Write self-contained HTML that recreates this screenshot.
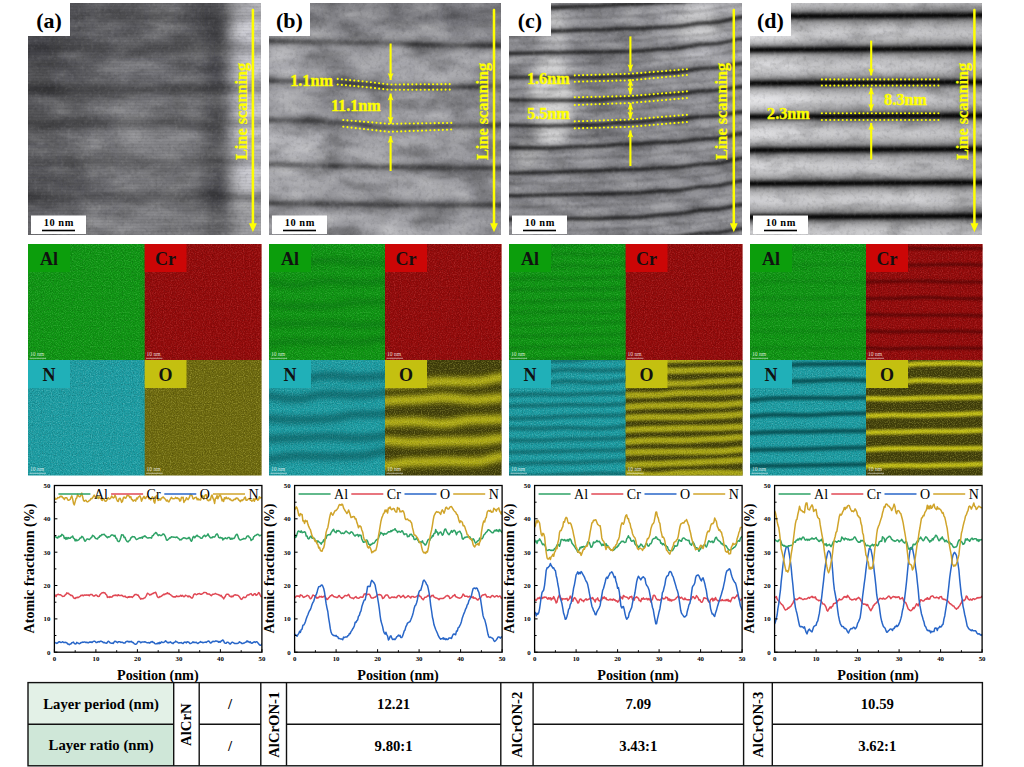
<!DOCTYPE html><html><head><meta charset="utf-8"><style>html,body{margin:0;padding:0;background:#fff;}body{width:1024px;height:767px;overflow:hidden;}svg{display:block}</style></head><body>
<svg width="1024" height="767" viewBox="0 0 1024 767">
<defs>
<filter id="blur1" filterUnits="userSpaceOnUse" x="-50" y="-50" width="400" height="400"><feGaussianBlur stdDeviation="1.2"/></filter>
<filter id="blur15" filterUnits="userSpaceOnUse" x="-50" y="-50" width="400" height="400"><feGaussianBlur stdDeviation="1.7"/></filter>
<filter id="blur2" filterUnits="userSpaceOnUse" x="-50" y="-50" width="400" height="400"><feGaussianBlur stdDeviation="2.5"/></filter>
<filter id="blur6" filterUnits="userSpaceOnUse" x="-50" y="-50" width="400" height="400"><feGaussianBlur stdDeviation="7"/></filter>
<filter id="blur12" filterUnits="userSpaceOnUse" x="-50" y="-50" width="400" height="400"><feGaussianBlur stdDeviation="12"/></filter>
<filter id="gnoise" x="0" y="0" width="100%" height="100%">
  <feTurbulence type="fractalNoise" baseFrequency="0.3" numOctaves="2" seed="3"/>
  <feColorMatrix type="matrix" values="0 0 0 0 0  0 0 0 0 0  0 0 0 0 0  -1.6 0 0 0 0.8"/>
</filter>
<filter id="gnoise2" x="0" y="0" width="100%" height="100%">
  <feTurbulence type="fractalNoise" baseFrequency="0.3" numOctaves="2" seed="9"/>
  <feColorMatrix type="matrix" values="0 0 0 0 1  0 0 0 0 1  0 0 0 0 1  1.6 0 0 0 -0.8"/>
</filter>
<filter id="speck" x="0" y="0" width="100%" height="100%">
  <feTurbulence type="fractalNoise" baseFrequency="0.9" numOctaves="1" seed="5"/>
  <feColorMatrix type="matrix" values="0 0 0 0 0  0 0 0 0 0  0 0 0 0 0  -3 0 0 0 1.5"/>
</filter>
<filter id="speckw" x="0" y="0" width="100%" height="100%">
  <feTurbulence type="fractalNoise" baseFrequency="0.9" numOctaves="1" seed="11"/>
  <feColorMatrix type="matrix" values="0 0 0 0 1  0 0 0 0 1  0 0 0 0 1  3 0 0 0 -1.6"/>
</filter>
</defs>
<rect width="1024" height="767" fill="#fff"/>
<defs>
<filter id="gb0" filterUnits="userSpaceOnUse" x="-40" y="-40" width="320" height="320"><feGaussianBlur stdDeviation="7"/></filter>
<filter id="gb1" filterUnits="userSpaceOnUse" x="-40" y="-40" width="320" height="320"><feGaussianBlur stdDeviation="6"/></filter>
<filter id="gb2" filterUnits="userSpaceOnUse" x="-40" y="-40" width="320" height="320"><feGaussianBlur stdDeviation="5"/></filter>
<filter id="gb3" filterUnits="userSpaceOnUse" x="-40" y="-40" width="320" height="320"><feGaussianBlur stdDeviation="5"/></filter>
<linearGradient id="sa" gradientUnits="userSpaceOnUse" x1="0" y1="-30" x2="0" y2="262" gradientTransform="rotate(0 116 116.0)">
<stop offset="0.0000" stop-color="#000" stop-opacity="0.000"/>
<stop offset="0.0034" stop-color="#000" stop-opacity="0.000"/>
<stop offset="0.0068" stop-color="#000" stop-opacity="0.000"/>
<stop offset="0.0103" stop-color="#000" stop-opacity="0.000"/>
<stop offset="0.0137" stop-color="#000" stop-opacity="0.000"/>
<stop offset="0.0171" stop-color="#000" stop-opacity="0.000"/>
<stop offset="0.0205" stop-color="#000" stop-opacity="0.000"/>
<stop offset="0.0240" stop-color="#000" stop-opacity="0.000"/>
<stop offset="0.0274" stop-color="#000" stop-opacity="0.000"/>
<stop offset="0.0308" stop-color="#000" stop-opacity="0.000"/>
<stop offset="0.0342" stop-color="#000" stop-opacity="0.000"/>
<stop offset="0.0377" stop-color="#000" stop-opacity="0.000"/>
<stop offset="0.0411" stop-color="#000" stop-opacity="0.000"/>
<stop offset="0.0445" stop-color="#000" stop-opacity="0.000"/>
<stop offset="0.0479" stop-color="#000" stop-opacity="0.000"/>
<stop offset="0.0514" stop-color="#000" stop-opacity="0.000"/>
<stop offset="0.0548" stop-color="#000" stop-opacity="0.000"/>
<stop offset="0.0582" stop-color="#000" stop-opacity="0.000"/>
<stop offset="0.0616" stop-color="#000" stop-opacity="0.000"/>
<stop offset="0.0651" stop-color="#000" stop-opacity="0.000"/>
<stop offset="0.0685" stop-color="#000" stop-opacity="0.000"/>
<stop offset="0.0719" stop-color="#000" stop-opacity="0.000"/>
<stop offset="0.0753" stop-color="#000" stop-opacity="0.000"/>
<stop offset="0.0788" stop-color="#000" stop-opacity="0.000"/>
<stop offset="0.0822" stop-color="#000" stop-opacity="0.000"/>
<stop offset="0.0856" stop-color="#000" stop-opacity="0.000"/>
<stop offset="0.0890" stop-color="#000" stop-opacity="0.000"/>
<stop offset="0.0925" stop-color="#000" stop-opacity="0.000"/>
<stop offset="0.0959" stop-color="#000" stop-opacity="0.000"/>
<stop offset="0.0993" stop-color="#000" stop-opacity="0.000"/>
<stop offset="0.1027" stop-color="#000" stop-opacity="0.001"/>
<stop offset="0.1062" stop-color="#000" stop-opacity="0.002"/>
<stop offset="0.1096" stop-color="#000" stop-opacity="0.003"/>
<stop offset="0.1130" stop-color="#000" stop-opacity="0.007"/>
<stop offset="0.1164" stop-color="#000" stop-opacity="0.012"/>
<stop offset="0.1199" stop-color="#000" stop-opacity="0.020"/>
<stop offset="0.1233" stop-color="#000" stop-opacity="0.032"/>
<stop offset="0.1267" stop-color="#000" stop-opacity="0.049"/>
<stop offset="0.1301" stop-color="#000" stop-opacity="0.069"/>
<stop offset="0.1336" stop-color="#000" stop-opacity="0.091"/>
<stop offset="0.1370" stop-color="#000" stop-opacity="0.113"/>
<stop offset="0.1404" stop-color="#000" stop-opacity="0.132"/>
<stop offset="0.1438" stop-color="#000" stop-opacity="0.145"/>
<stop offset="0.1473" stop-color="#000" stop-opacity="0.150"/>
<stop offset="0.1507" stop-color="#000" stop-opacity="0.145"/>
<stop offset="0.1541" stop-color="#000" stop-opacity="0.132"/>
<stop offset="0.1575" stop-color="#000" stop-opacity="0.113"/>
<stop offset="0.1610" stop-color="#000" stop-opacity="0.091"/>
<stop offset="0.1644" stop-color="#000" stop-opacity="0.069"/>
<stop offset="0.1678" stop-color="#000" stop-opacity="0.049"/>
<stop offset="0.1712" stop-color="#000" stop-opacity="0.032"/>
<stop offset="0.1747" stop-color="#000" stop-opacity="0.020"/>
<stop offset="0.1781" stop-color="#000" stop-opacity="0.012"/>
<stop offset="0.1815" stop-color="#000" stop-opacity="0.007"/>
<stop offset="0.1849" stop-color="#000" stop-opacity="0.003"/>
<stop offset="0.1884" stop-color="#000" stop-opacity="0.002"/>
<stop offset="0.1918" stop-color="#000" stop-opacity="0.001"/>
<stop offset="0.1952" stop-color="#000" stop-opacity="0.000"/>
<stop offset="0.1986" stop-color="#000" stop-opacity="0.000"/>
<stop offset="0.2021" stop-color="#000" stop-opacity="0.000"/>
<stop offset="0.2055" stop-color="#000" stop-opacity="0.001"/>
<stop offset="0.2089" stop-color="#000" stop-opacity="0.002"/>
<stop offset="0.2123" stop-color="#000" stop-opacity="0.003"/>
<stop offset="0.2158" stop-color="#000" stop-opacity="0.006"/>
<stop offset="0.2192" stop-color="#000" stop-opacity="0.010"/>
<stop offset="0.2226" stop-color="#000" stop-opacity="0.017"/>
<stop offset="0.2260" stop-color="#000" stop-opacity="0.027"/>
<stop offset="0.2295" stop-color="#000" stop-opacity="0.041"/>
<stop offset="0.2329" stop-color="#000" stop-opacity="0.060"/>
<stop offset="0.2363" stop-color="#000" stop-opacity="0.082"/>
<stop offset="0.2397" stop-color="#000" stop-opacity="0.108"/>
<stop offset="0.2432" stop-color="#000" stop-opacity="0.135"/>
<stop offset="0.2466" stop-color="#000" stop-opacity="0.160"/>
<stop offset="0.2500" stop-color="#000" stop-opacity="0.181"/>
<stop offset="0.2534" stop-color="#000" stop-opacity="0.195"/>
<stop offset="0.2568" stop-color="#000" stop-opacity="0.200"/>
<stop offset="0.2603" stop-color="#000" stop-opacity="0.195"/>
<stop offset="0.2637" stop-color="#000" stop-opacity="0.181"/>
<stop offset="0.2671" stop-color="#000" stop-opacity="0.160"/>
<stop offset="0.2705" stop-color="#000" stop-opacity="0.135"/>
<stop offset="0.2740" stop-color="#000" stop-opacity="0.108"/>
<stop offset="0.2774" stop-color="#000" stop-opacity="0.082"/>
<stop offset="0.2808" stop-color="#000" stop-opacity="0.060"/>
<stop offset="0.2842" stop-color="#000" stop-opacity="0.041"/>
<stop offset="0.2877" stop-color="#000" stop-opacity="0.027"/>
<stop offset="0.2911" stop-color="#000" stop-opacity="0.017"/>
<stop offset="0.2945" stop-color="#000" stop-opacity="0.010"/>
<stop offset="0.2979" stop-color="#000" stop-opacity="0.006"/>
<stop offset="0.3014" stop-color="#000" stop-opacity="0.003"/>
<stop offset="0.3048" stop-color="#000" stop-opacity="0.002"/>
<stop offset="0.3082" stop-color="#000" stop-opacity="0.001"/>
<stop offset="0.3116" stop-color="#000" stop-opacity="0.000"/>
<stop offset="0.3151" stop-color="#000" stop-opacity="0.000"/>
<stop offset="0.3185" stop-color="#000" stop-opacity="0.000"/>
<stop offset="0.3219" stop-color="#000" stop-opacity="0.000"/>
<stop offset="0.3253" stop-color="#000" stop-opacity="0.000"/>
<stop offset="0.3288" stop-color="#000" stop-opacity="0.000"/>
<stop offset="0.3322" stop-color="#000" stop-opacity="0.000"/>
<stop offset="0.3356" stop-color="#000" stop-opacity="0.000"/>
<stop offset="0.3390" stop-color="#000" stop-opacity="0.001"/>
<stop offset="0.3425" stop-color="#000" stop-opacity="0.002"/>
<stop offset="0.3459" stop-color="#000" stop-opacity="0.003"/>
<stop offset="0.3493" stop-color="#000" stop-opacity="0.006"/>
<stop offset="0.3527" stop-color="#000" stop-opacity="0.010"/>
<stop offset="0.3562" stop-color="#000" stop-opacity="0.017"/>
<stop offset="0.3596" stop-color="#000" stop-opacity="0.027"/>
<stop offset="0.3630" stop-color="#000" stop-opacity="0.041"/>
<stop offset="0.3664" stop-color="#000" stop-opacity="0.059"/>
<stop offset="0.3699" stop-color="#000" stop-opacity="0.083"/>
<stop offset="0.3733" stop-color="#000" stop-opacity="0.113"/>
<stop offset="0.3767" stop-color="#000" stop-opacity="0.146"/>
<stop offset="0.3801" stop-color="#000" stop-opacity="0.182"/>
<stop offset="0.3836" stop-color="#000" stop-opacity="0.218"/>
<stop offset="0.3870" stop-color="#000" stop-opacity="0.251"/>
<stop offset="0.3904" stop-color="#000" stop-opacity="0.277"/>
<stop offset="0.3938" stop-color="#000" stop-opacity="0.294"/>
<stop offset="0.3973" stop-color="#000" stop-opacity="0.300"/>
<stop offset="0.4007" stop-color="#000" stop-opacity="0.294"/>
<stop offset="0.4041" stop-color="#000" stop-opacity="0.277"/>
<stop offset="0.4075" stop-color="#000" stop-opacity="0.251"/>
<stop offset="0.4110" stop-color="#000" stop-opacity="0.218"/>
<stop offset="0.4144" stop-color="#000" stop-opacity="0.182"/>
<stop offset="0.4178" stop-color="#000" stop-opacity="0.146"/>
<stop offset="0.4212" stop-color="#000" stop-opacity="0.113"/>
<stop offset="0.4247" stop-color="#000" stop-opacity="0.083"/>
<stop offset="0.4281" stop-color="#000" stop-opacity="0.059"/>
<stop offset="0.4315" stop-color="#000" stop-opacity="0.041"/>
<stop offset="0.4349" stop-color="#000" stop-opacity="0.027"/>
<stop offset="0.4384" stop-color="#000" stop-opacity="0.017"/>
<stop offset="0.4418" stop-color="#000" stop-opacity="0.010"/>
<stop offset="0.4452" stop-color="#000" stop-opacity="0.006"/>
<stop offset="0.4486" stop-color="#000" stop-opacity="0.003"/>
<stop offset="0.4521" stop-color="#000" stop-opacity="0.002"/>
<stop offset="0.4555" stop-color="#000" stop-opacity="0.001"/>
<stop offset="0.4589" stop-color="#000" stop-opacity="0.001"/>
<stop offset="0.4623" stop-color="#000" stop-opacity="0.001"/>
<stop offset="0.4658" stop-color="#000" stop-opacity="0.002"/>
<stop offset="0.4692" stop-color="#000" stop-opacity="0.004"/>
<stop offset="0.4726" stop-color="#000" stop-opacity="0.007"/>
<stop offset="0.4760" stop-color="#000" stop-opacity="0.013"/>
<stop offset="0.4795" stop-color="#000" stop-opacity="0.021"/>
<stop offset="0.4829" stop-color="#000" stop-opacity="0.034"/>
<stop offset="0.4863" stop-color="#000" stop-opacity="0.051"/>
<stop offset="0.4897" stop-color="#000" stop-opacity="0.075"/>
<stop offset="0.4932" stop-color="#000" stop-opacity="0.103"/>
<stop offset="0.4966" stop-color="#000" stop-opacity="0.135"/>
<stop offset="0.5000" stop-color="#000" stop-opacity="0.168"/>
<stop offset="0.5034" stop-color="#000" stop-opacity="0.200"/>
<stop offset="0.5068" stop-color="#000" stop-opacity="0.226"/>
<stop offset="0.5103" stop-color="#000" stop-opacity="0.244"/>
<stop offset="0.5137" stop-color="#000" stop-opacity="0.250"/>
<stop offset="0.5171" stop-color="#000" stop-opacity="0.244"/>
<stop offset="0.5205" stop-color="#000" stop-opacity="0.226"/>
<stop offset="0.5240" stop-color="#000" stop-opacity="0.200"/>
<stop offset="0.5274" stop-color="#000" stop-opacity="0.168"/>
<stop offset="0.5308" stop-color="#000" stop-opacity="0.135"/>
<stop offset="0.5342" stop-color="#000" stop-opacity="0.103"/>
<stop offset="0.5377" stop-color="#000" stop-opacity="0.075"/>
<stop offset="0.5411" stop-color="#000" stop-opacity="0.051"/>
<stop offset="0.5445" stop-color="#000" stop-opacity="0.034"/>
<stop offset="0.5479" stop-color="#000" stop-opacity="0.021"/>
<stop offset="0.5514" stop-color="#000" stop-opacity="0.013"/>
<stop offset="0.5548" stop-color="#000" stop-opacity="0.007"/>
<stop offset="0.5582" stop-color="#000" stop-opacity="0.004"/>
<stop offset="0.5616" stop-color="#000" stop-opacity="0.002"/>
<stop offset="0.5651" stop-color="#000" stop-opacity="0.001"/>
<stop offset="0.5685" stop-color="#000" stop-opacity="0.000"/>
<stop offset="0.5719" stop-color="#000" stop-opacity="0.000"/>
<stop offset="0.5753" stop-color="#000" stop-opacity="0.000"/>
<stop offset="0.5788" stop-color="#000" stop-opacity="0.000"/>
<stop offset="0.5822" stop-color="#000" stop-opacity="0.000"/>
<stop offset="0.5856" stop-color="#000" stop-opacity="0.000"/>
<stop offset="0.5890" stop-color="#000" stop-opacity="0.000"/>
<stop offset="0.5925" stop-color="#000" stop-opacity="0.000"/>
<stop offset="0.5959" stop-color="#000" stop-opacity="0.001"/>
<stop offset="0.5993" stop-color="#000" stop-opacity="0.001"/>
<stop offset="0.6027" stop-color="#000" stop-opacity="0.003"/>
<stop offset="0.6062" stop-color="#000" stop-opacity="0.005"/>
<stop offset="0.6096" stop-color="#000" stop-opacity="0.009"/>
<stop offset="0.6130" stop-color="#000" stop-opacity="0.015"/>
<stop offset="0.6164" stop-color="#000" stop-opacity="0.024"/>
<stop offset="0.6199" stop-color="#000" stop-opacity="0.037"/>
<stop offset="0.6233" stop-color="#000" stop-opacity="0.054"/>
<stop offset="0.6267" stop-color="#000" stop-opacity="0.074"/>
<stop offset="0.6301" stop-color="#000" stop-opacity="0.097"/>
<stop offset="0.6336" stop-color="#000" stop-opacity="0.121"/>
<stop offset="0.6370" stop-color="#000" stop-opacity="0.144"/>
<stop offset="0.6404" stop-color="#000" stop-opacity="0.163"/>
<stop offset="0.6438" stop-color="#000" stop-opacity="0.176"/>
<stop offset="0.6473" stop-color="#000" stop-opacity="0.180"/>
<stop offset="0.6507" stop-color="#000" stop-opacity="0.176"/>
<stop offset="0.6541" stop-color="#000" stop-opacity="0.163"/>
<stop offset="0.6575" stop-color="#000" stop-opacity="0.144"/>
<stop offset="0.6610" stop-color="#000" stop-opacity="0.121"/>
<stop offset="0.6644" stop-color="#000" stop-opacity="0.097"/>
<stop offset="0.6678" stop-color="#000" stop-opacity="0.074"/>
<stop offset="0.6712" stop-color="#000" stop-opacity="0.054"/>
<stop offset="0.6747" stop-color="#000" stop-opacity="0.037"/>
<stop offset="0.6781" stop-color="#000" stop-opacity="0.024"/>
<stop offset="0.6815" stop-color="#000" stop-opacity="0.015"/>
<stop offset="0.6849" stop-color="#000" stop-opacity="0.009"/>
<stop offset="0.6884" stop-color="#000" stop-opacity="0.005"/>
<stop offset="0.6918" stop-color="#000" stop-opacity="0.003"/>
<stop offset="0.6952" stop-color="#000" stop-opacity="0.001"/>
<stop offset="0.6986" stop-color="#000" stop-opacity="0.001"/>
<stop offset="0.7021" stop-color="#000" stop-opacity="0.000"/>
<stop offset="0.7055" stop-color="#000" stop-opacity="0.000"/>
<stop offset="0.7089" stop-color="#000" stop-opacity="0.000"/>
<stop offset="0.7123" stop-color="#000" stop-opacity="0.000"/>
<stop offset="0.7158" stop-color="#000" stop-opacity="0.001"/>
<stop offset="0.7192" stop-color="#000" stop-opacity="0.002"/>
<stop offset="0.7226" stop-color="#000" stop-opacity="0.003"/>
<stop offset="0.7260" stop-color="#000" stop-opacity="0.006"/>
<stop offset="0.7295" stop-color="#000" stop-opacity="0.011"/>
<stop offset="0.7329" stop-color="#000" stop-opacity="0.019"/>
<stop offset="0.7363" stop-color="#000" stop-opacity="0.030"/>
<stop offset="0.7397" stop-color="#000" stop-opacity="0.045"/>
<stop offset="0.7432" stop-color="#000" stop-opacity="0.066"/>
<stop offset="0.7466" stop-color="#000" stop-opacity="0.090"/>
<stop offset="0.7500" stop-color="#000" stop-opacity="0.119"/>
<stop offset="0.7534" stop-color="#000" stop-opacity="0.148"/>
<stop offset="0.7568" stop-color="#000" stop-opacity="0.176"/>
<stop offset="0.7603" stop-color="#000" stop-opacity="0.199"/>
<stop offset="0.7637" stop-color="#000" stop-opacity="0.215"/>
<stop offset="0.7671" stop-color="#000" stop-opacity="0.220"/>
<stop offset="0.7705" stop-color="#000" stop-opacity="0.215"/>
<stop offset="0.7740" stop-color="#000" stop-opacity="0.199"/>
<stop offset="0.7774" stop-color="#000" stop-opacity="0.176"/>
<stop offset="0.7808" stop-color="#000" stop-opacity="0.148"/>
<stop offset="0.7842" stop-color="#000" stop-opacity="0.119"/>
<stop offset="0.7877" stop-color="#000" stop-opacity="0.090"/>
<stop offset="0.7911" stop-color="#000" stop-opacity="0.066"/>
<stop offset="0.7945" stop-color="#000" stop-opacity="0.045"/>
<stop offset="0.7979" stop-color="#000" stop-opacity="0.030"/>
<stop offset="0.8014" stop-color="#000" stop-opacity="0.019"/>
<stop offset="0.8048" stop-color="#000" stop-opacity="0.011"/>
<stop offset="0.8082" stop-color="#000" stop-opacity="0.006"/>
<stop offset="0.8116" stop-color="#000" stop-opacity="0.003"/>
<stop offset="0.8151" stop-color="#000" stop-opacity="0.002"/>
<stop offset="0.8185" stop-color="#000" stop-opacity="0.001"/>
<stop offset="0.8219" stop-color="#000" stop-opacity="0.000"/>
<stop offset="0.8253" stop-color="#000" stop-opacity="0.000"/>
<stop offset="0.8288" stop-color="#000" stop-opacity="0.000"/>
<stop offset="0.8322" stop-color="#000" stop-opacity="0.000"/>
<stop offset="0.8356" stop-color="#000" stop-opacity="0.000"/>
<stop offset="0.8390" stop-color="#000" stop-opacity="0.000"/>
<stop offset="0.8425" stop-color="#000" stop-opacity="0.000"/>
<stop offset="0.8459" stop-color="#000" stop-opacity="0.000"/>
<stop offset="0.8493" stop-color="#000" stop-opacity="0.000"/>
<stop offset="0.8527" stop-color="#000" stop-opacity="0.000"/>
<stop offset="0.8562" stop-color="#000" stop-opacity="0.000"/>
<stop offset="0.8596" stop-color="#000" stop-opacity="0.000"/>
<stop offset="0.8630" stop-color="#000" stop-opacity="0.000"/>
<stop offset="0.8664" stop-color="#000" stop-opacity="0.000"/>
<stop offset="0.8699" stop-color="#000" stop-opacity="0.000"/>
<stop offset="0.8733" stop-color="#000" stop-opacity="0.000"/>
<stop offset="0.8767" stop-color="#000" stop-opacity="0.000"/>
<stop offset="0.8801" stop-color="#000" stop-opacity="0.000"/>
<stop offset="0.8836" stop-color="#000" stop-opacity="0.000"/>
<stop offset="0.8870" stop-color="#000" stop-opacity="0.000"/>
<stop offset="0.8904" stop-color="#000" stop-opacity="0.000"/>
<stop offset="0.8938" stop-color="#000" stop-opacity="0.000"/>
<stop offset="0.8973" stop-color="#000" stop-opacity="0.000"/>
<stop offset="0.9007" stop-color="#000" stop-opacity="0.000"/>
<stop offset="0.9041" stop-color="#000" stop-opacity="0.000"/>
<stop offset="0.9075" stop-color="#000" stop-opacity="0.000"/>
<stop offset="0.9110" stop-color="#000" stop-opacity="0.000"/>
<stop offset="0.9144" stop-color="#000" stop-opacity="0.000"/>
<stop offset="0.9178" stop-color="#000" stop-opacity="0.000"/>
<stop offset="0.9212" stop-color="#000" stop-opacity="0.000"/>
<stop offset="0.9247" stop-color="#000" stop-opacity="0.000"/>
<stop offset="0.9281" stop-color="#000" stop-opacity="0.000"/>
<stop offset="0.9315" stop-color="#000" stop-opacity="0.000"/>
<stop offset="0.9349" stop-color="#000" stop-opacity="0.000"/>
<stop offset="0.9384" stop-color="#000" stop-opacity="0.000"/>
<stop offset="0.9418" stop-color="#000" stop-opacity="0.000"/>
<stop offset="0.9452" stop-color="#000" stop-opacity="0.000"/>
<stop offset="0.9486" stop-color="#000" stop-opacity="0.000"/>
<stop offset="0.9521" stop-color="#000" stop-opacity="0.000"/>
<stop offset="0.9555" stop-color="#000" stop-opacity="0.000"/>
<stop offset="0.9589" stop-color="#000" stop-opacity="0.000"/>
<stop offset="0.9623" stop-color="#000" stop-opacity="0.000"/>
<stop offset="0.9658" stop-color="#000" stop-opacity="0.000"/>
<stop offset="0.9692" stop-color="#000" stop-opacity="0.000"/>
<stop offset="0.9726" stop-color="#000" stop-opacity="0.000"/>
<stop offset="0.9760" stop-color="#000" stop-opacity="0.000"/>
<stop offset="0.9795" stop-color="#000" stop-opacity="0.000"/>
<stop offset="0.9829" stop-color="#000" stop-opacity="0.000"/>
<stop offset="0.9863" stop-color="#000" stop-opacity="0.000"/>
<stop offset="0.9897" stop-color="#000" stop-opacity="0.000"/>
<stop offset="0.9932" stop-color="#000" stop-opacity="0.000"/>
<stop offset="0.9966" stop-color="#000" stop-opacity="0.000"/>
<stop offset="1.0000" stop-color="#000" stop-opacity="0.000"/>
</linearGradient>
<linearGradient id="sc" gradientUnits="userSpaceOnUse" x1="0" y1="-30" x2="0" y2="262" gradientTransform="rotate(-2.4 116 116.0)">
<stop offset="0.0000" stop-color="#000" stop-opacity="0.021"/>
<stop offset="0.0034" stop-color="#000" stop-opacity="0.032"/>
<stop offset="0.0068" stop-color="#000" stop-opacity="0.048"/>
<stop offset="0.0103" stop-color="#000" stop-opacity="0.073"/>
<stop offset="0.0137" stop-color="#000" stop-opacity="0.128"/>
<stop offset="0.0171" stop-color="#000" stop-opacity="0.246"/>
<stop offset="0.0205" stop-color="#000" stop-opacity="0.434"/>
<stop offset="0.0240" stop-color="#000" stop-opacity="0.595"/>
<stop offset="0.0274" stop-color="#000" stop-opacity="0.595"/>
<stop offset="0.0308" stop-color="#000" stop-opacity="0.434"/>
<stop offset="0.0342" stop-color="#000" stop-opacity="0.246"/>
<stop offset="0.0377" stop-color="#000" stop-opacity="0.128"/>
<stop offset="0.0411" stop-color="#000" stop-opacity="0.074"/>
<stop offset="0.0445" stop-color="#000" stop-opacity="0.049"/>
<stop offset="0.0479" stop-color="#000" stop-opacity="0.037"/>
<stop offset="0.0514" stop-color="#000" stop-opacity="0.034"/>
<stop offset="0.0548" stop-color="#000" stop-opacity="0.045"/>
<stop offset="0.0582" stop-color="#000" stop-opacity="0.068"/>
<stop offset="0.0616" stop-color="#000" stop-opacity="0.093"/>
<stop offset="0.0651" stop-color="#000" stop-opacity="0.103"/>
<stop offset="0.0685" stop-color="#000" stop-opacity="0.092"/>
<stop offset="0.0719" stop-color="#000" stop-opacity="0.066"/>
<stop offset="0.0753" stop-color="#000" stop-opacity="0.042"/>
<stop offset="0.0788" stop-color="#000" stop-opacity="0.030"/>
<stop offset="0.0822" stop-color="#000" stop-opacity="0.030"/>
<stop offset="0.0856" stop-color="#000" stop-opacity="0.041"/>
<stop offset="0.0890" stop-color="#000" stop-opacity="0.059"/>
<stop offset="0.0925" stop-color="#000" stop-opacity="0.095"/>
<stop offset="0.0959" stop-color="#000" stop-opacity="0.177"/>
<stop offset="0.0993" stop-color="#000" stop-opacity="0.335"/>
<stop offset="0.1027" stop-color="#000" stop-opacity="0.528"/>
<stop offset="0.1062" stop-color="#000" stop-opacity="0.620"/>
<stop offset="0.1096" stop-color="#000" stop-opacity="0.528"/>
<stop offset="0.1130" stop-color="#000" stop-opacity="0.335"/>
<stop offset="0.1164" stop-color="#000" stop-opacity="0.177"/>
<stop offset="0.1199" stop-color="#000" stop-opacity="0.095"/>
<stop offset="0.1233" stop-color="#000" stop-opacity="0.059"/>
<stop offset="0.1267" stop-color="#000" stop-opacity="0.042"/>
<stop offset="0.1301" stop-color="#000" stop-opacity="0.034"/>
<stop offset="0.1336" stop-color="#000" stop-opacity="0.038"/>
<stop offset="0.1370" stop-color="#000" stop-opacity="0.055"/>
<stop offset="0.1404" stop-color="#000" stop-opacity="0.081"/>
<stop offset="0.1438" stop-color="#000" stop-opacity="0.101"/>
<stop offset="0.1473" stop-color="#000" stop-opacity="0.100"/>
<stop offset="0.1507" stop-color="#000" stop-opacity="0.080"/>
<stop offset="0.1541" stop-color="#000" stop-opacity="0.053"/>
<stop offset="0.1575" stop-color="#000" stop-opacity="0.034"/>
<stop offset="0.1610" stop-color="#000" stop-opacity="0.029"/>
<stop offset="0.1644" stop-color="#000" stop-opacity="0.034"/>
<stop offset="0.1678" stop-color="#000" stop-opacity="0.048"/>
<stop offset="0.1712" stop-color="#000" stop-opacity="0.073"/>
<stop offset="0.1747" stop-color="#000" stop-opacity="0.128"/>
<stop offset="0.1781" stop-color="#000" stop-opacity="0.246"/>
<stop offset="0.1815" stop-color="#000" stop-opacity="0.434"/>
<stop offset="0.1849" stop-color="#000" stop-opacity="0.595"/>
<stop offset="0.1884" stop-color="#000" stop-opacity="0.595"/>
<stop offset="0.1918" stop-color="#000" stop-opacity="0.434"/>
<stop offset="0.1952" stop-color="#000" stop-opacity="0.246"/>
<stop offset="0.1986" stop-color="#000" stop-opacity="0.128"/>
<stop offset="0.2021" stop-color="#000" stop-opacity="0.074"/>
<stop offset="0.2055" stop-color="#000" stop-opacity="0.049"/>
<stop offset="0.2089" stop-color="#000" stop-opacity="0.037"/>
<stop offset="0.2123" stop-color="#000" stop-opacity="0.034"/>
<stop offset="0.2158" stop-color="#000" stop-opacity="0.045"/>
<stop offset="0.2192" stop-color="#000" stop-opacity="0.068"/>
<stop offset="0.2226" stop-color="#000" stop-opacity="0.093"/>
<stop offset="0.2260" stop-color="#000" stop-opacity="0.103"/>
<stop offset="0.2295" stop-color="#000" stop-opacity="0.092"/>
<stop offset="0.2329" stop-color="#000" stop-opacity="0.066"/>
<stop offset="0.2363" stop-color="#000" stop-opacity="0.042"/>
<stop offset="0.2397" stop-color="#000" stop-opacity="0.030"/>
<stop offset="0.2432" stop-color="#000" stop-opacity="0.030"/>
<stop offset="0.2466" stop-color="#000" stop-opacity="0.041"/>
<stop offset="0.2500" stop-color="#000" stop-opacity="0.059"/>
<stop offset="0.2534" stop-color="#000" stop-opacity="0.095"/>
<stop offset="0.2568" stop-color="#000" stop-opacity="0.177"/>
<stop offset="0.2603" stop-color="#000" stop-opacity="0.335"/>
<stop offset="0.2637" stop-color="#000" stop-opacity="0.528"/>
<stop offset="0.2671" stop-color="#000" stop-opacity="0.620"/>
<stop offset="0.2705" stop-color="#000" stop-opacity="0.528"/>
<stop offset="0.2740" stop-color="#000" stop-opacity="0.335"/>
<stop offset="0.2774" stop-color="#000" stop-opacity="0.177"/>
<stop offset="0.2808" stop-color="#000" stop-opacity="0.095"/>
<stop offset="0.2842" stop-color="#000" stop-opacity="0.059"/>
<stop offset="0.2877" stop-color="#000" stop-opacity="0.042"/>
<stop offset="0.2911" stop-color="#000" stop-opacity="0.034"/>
<stop offset="0.2945" stop-color="#000" stop-opacity="0.038"/>
<stop offset="0.2979" stop-color="#000" stop-opacity="0.055"/>
<stop offset="0.3014" stop-color="#000" stop-opacity="0.081"/>
<stop offset="0.3048" stop-color="#000" stop-opacity="0.101"/>
<stop offset="0.3082" stop-color="#000" stop-opacity="0.100"/>
<stop offset="0.3116" stop-color="#000" stop-opacity="0.080"/>
<stop offset="0.3151" stop-color="#000" stop-opacity="0.053"/>
<stop offset="0.3185" stop-color="#000" stop-opacity="0.034"/>
<stop offset="0.3219" stop-color="#000" stop-opacity="0.029"/>
<stop offset="0.3253" stop-color="#000" stop-opacity="0.034"/>
<stop offset="0.3288" stop-color="#000" stop-opacity="0.048"/>
<stop offset="0.3322" stop-color="#000" stop-opacity="0.073"/>
<stop offset="0.3356" stop-color="#000" stop-opacity="0.128"/>
<stop offset="0.3390" stop-color="#000" stop-opacity="0.246"/>
<stop offset="0.3425" stop-color="#000" stop-opacity="0.434"/>
<stop offset="0.3459" stop-color="#000" stop-opacity="0.595"/>
<stop offset="0.3493" stop-color="#000" stop-opacity="0.595"/>
<stop offset="0.3527" stop-color="#000" stop-opacity="0.434"/>
<stop offset="0.3562" stop-color="#000" stop-opacity="0.246"/>
<stop offset="0.3596" stop-color="#000" stop-opacity="0.128"/>
<stop offset="0.3630" stop-color="#000" stop-opacity="0.074"/>
<stop offset="0.3664" stop-color="#000" stop-opacity="0.049"/>
<stop offset="0.3699" stop-color="#000" stop-opacity="0.037"/>
<stop offset="0.3733" stop-color="#000" stop-opacity="0.034"/>
<stop offset="0.3767" stop-color="#000" stop-opacity="0.045"/>
<stop offset="0.3801" stop-color="#000" stop-opacity="0.068"/>
<stop offset="0.3836" stop-color="#000" stop-opacity="0.093"/>
<stop offset="0.3870" stop-color="#000" stop-opacity="0.103"/>
<stop offset="0.3904" stop-color="#000" stop-opacity="0.092"/>
<stop offset="0.3938" stop-color="#000" stop-opacity="0.066"/>
<stop offset="0.3973" stop-color="#000" stop-opacity="0.042"/>
<stop offset="0.4007" stop-color="#000" stop-opacity="0.030"/>
<stop offset="0.4041" stop-color="#000" stop-opacity="0.030"/>
<stop offset="0.4075" stop-color="#000" stop-opacity="0.041"/>
<stop offset="0.4110" stop-color="#000" stop-opacity="0.059"/>
<stop offset="0.4144" stop-color="#000" stop-opacity="0.095"/>
<stop offset="0.4178" stop-color="#000" stop-opacity="0.177"/>
<stop offset="0.4212" stop-color="#000" stop-opacity="0.335"/>
<stop offset="0.4247" stop-color="#000" stop-opacity="0.528"/>
<stop offset="0.4281" stop-color="#000" stop-opacity="0.620"/>
<stop offset="0.4315" stop-color="#000" stop-opacity="0.528"/>
<stop offset="0.4349" stop-color="#000" stop-opacity="0.335"/>
<stop offset="0.4384" stop-color="#000" stop-opacity="0.177"/>
<stop offset="0.4418" stop-color="#000" stop-opacity="0.095"/>
<stop offset="0.4452" stop-color="#000" stop-opacity="0.059"/>
<stop offset="0.4486" stop-color="#000" stop-opacity="0.042"/>
<stop offset="0.4521" stop-color="#000" stop-opacity="0.034"/>
<stop offset="0.4555" stop-color="#000" stop-opacity="0.038"/>
<stop offset="0.4589" stop-color="#000" stop-opacity="0.055"/>
<stop offset="0.4623" stop-color="#000" stop-opacity="0.081"/>
<stop offset="0.4658" stop-color="#000" stop-opacity="0.101"/>
<stop offset="0.4692" stop-color="#000" stop-opacity="0.100"/>
<stop offset="0.4726" stop-color="#000" stop-opacity="0.080"/>
<stop offset="0.4760" stop-color="#000" stop-opacity="0.053"/>
<stop offset="0.4795" stop-color="#000" stop-opacity="0.034"/>
<stop offset="0.4829" stop-color="#000" stop-opacity="0.029"/>
<stop offset="0.4863" stop-color="#000" stop-opacity="0.034"/>
<stop offset="0.4897" stop-color="#000" stop-opacity="0.048"/>
<stop offset="0.4932" stop-color="#000" stop-opacity="0.073"/>
<stop offset="0.4966" stop-color="#000" stop-opacity="0.128"/>
<stop offset="0.5000" stop-color="#000" stop-opacity="0.246"/>
<stop offset="0.5034" stop-color="#000" stop-opacity="0.434"/>
<stop offset="0.5068" stop-color="#000" stop-opacity="0.595"/>
<stop offset="0.5103" stop-color="#000" stop-opacity="0.595"/>
<stop offset="0.5137" stop-color="#000" stop-opacity="0.434"/>
<stop offset="0.5171" stop-color="#000" stop-opacity="0.246"/>
<stop offset="0.5205" stop-color="#000" stop-opacity="0.128"/>
<stop offset="0.5240" stop-color="#000" stop-opacity="0.074"/>
<stop offset="0.5274" stop-color="#000" stop-opacity="0.049"/>
<stop offset="0.5308" stop-color="#000" stop-opacity="0.037"/>
<stop offset="0.5342" stop-color="#000" stop-opacity="0.034"/>
<stop offset="0.5377" stop-color="#000" stop-opacity="0.045"/>
<stop offset="0.5411" stop-color="#000" stop-opacity="0.068"/>
<stop offset="0.5445" stop-color="#000" stop-opacity="0.093"/>
<stop offset="0.5479" stop-color="#000" stop-opacity="0.103"/>
<stop offset="0.5514" stop-color="#000" stop-opacity="0.092"/>
<stop offset="0.5548" stop-color="#000" stop-opacity="0.066"/>
<stop offset="0.5582" stop-color="#000" stop-opacity="0.042"/>
<stop offset="0.5616" stop-color="#000" stop-opacity="0.030"/>
<stop offset="0.5651" stop-color="#000" stop-opacity="0.030"/>
<stop offset="0.5685" stop-color="#000" stop-opacity="0.041"/>
<stop offset="0.5719" stop-color="#000" stop-opacity="0.059"/>
<stop offset="0.5753" stop-color="#000" stop-opacity="0.095"/>
<stop offset="0.5788" stop-color="#000" stop-opacity="0.177"/>
<stop offset="0.5822" stop-color="#000" stop-opacity="0.335"/>
<stop offset="0.5856" stop-color="#000" stop-opacity="0.528"/>
<stop offset="0.5890" stop-color="#000" stop-opacity="0.620"/>
<stop offset="0.5925" stop-color="#000" stop-opacity="0.528"/>
<stop offset="0.5959" stop-color="#000" stop-opacity="0.335"/>
<stop offset="0.5993" stop-color="#000" stop-opacity="0.177"/>
<stop offset="0.6027" stop-color="#000" stop-opacity="0.095"/>
<stop offset="0.6062" stop-color="#000" stop-opacity="0.059"/>
<stop offset="0.6096" stop-color="#000" stop-opacity="0.042"/>
<stop offset="0.6130" stop-color="#000" stop-opacity="0.034"/>
<stop offset="0.6164" stop-color="#000" stop-opacity="0.038"/>
<stop offset="0.6199" stop-color="#000" stop-opacity="0.055"/>
<stop offset="0.6233" stop-color="#000" stop-opacity="0.081"/>
<stop offset="0.6267" stop-color="#000" stop-opacity="0.101"/>
<stop offset="0.6301" stop-color="#000" stop-opacity="0.100"/>
<stop offset="0.6336" stop-color="#000" stop-opacity="0.080"/>
<stop offset="0.6370" stop-color="#000" stop-opacity="0.053"/>
<stop offset="0.6404" stop-color="#000" stop-opacity="0.034"/>
<stop offset="0.6438" stop-color="#000" stop-opacity="0.029"/>
<stop offset="0.6473" stop-color="#000" stop-opacity="0.034"/>
<stop offset="0.6507" stop-color="#000" stop-opacity="0.048"/>
<stop offset="0.6541" stop-color="#000" stop-opacity="0.073"/>
<stop offset="0.6575" stop-color="#000" stop-opacity="0.128"/>
<stop offset="0.6610" stop-color="#000" stop-opacity="0.246"/>
<stop offset="0.6644" stop-color="#000" stop-opacity="0.434"/>
<stop offset="0.6678" stop-color="#000" stop-opacity="0.595"/>
<stop offset="0.6712" stop-color="#000" stop-opacity="0.595"/>
<stop offset="0.6747" stop-color="#000" stop-opacity="0.434"/>
<stop offset="0.6781" stop-color="#000" stop-opacity="0.246"/>
<stop offset="0.6815" stop-color="#000" stop-opacity="0.128"/>
<stop offset="0.6849" stop-color="#000" stop-opacity="0.074"/>
<stop offset="0.6884" stop-color="#000" stop-opacity="0.049"/>
<stop offset="0.6918" stop-color="#000" stop-opacity="0.037"/>
<stop offset="0.6952" stop-color="#000" stop-opacity="0.034"/>
<stop offset="0.6986" stop-color="#000" stop-opacity="0.045"/>
<stop offset="0.7021" stop-color="#000" stop-opacity="0.068"/>
<stop offset="0.7055" stop-color="#000" stop-opacity="0.093"/>
<stop offset="0.7089" stop-color="#000" stop-opacity="0.103"/>
<stop offset="0.7123" stop-color="#000" stop-opacity="0.092"/>
<stop offset="0.7158" stop-color="#000" stop-opacity="0.066"/>
<stop offset="0.7192" stop-color="#000" stop-opacity="0.042"/>
<stop offset="0.7226" stop-color="#000" stop-opacity="0.030"/>
<stop offset="0.7260" stop-color="#000" stop-opacity="0.030"/>
<stop offset="0.7295" stop-color="#000" stop-opacity="0.041"/>
<stop offset="0.7329" stop-color="#000" stop-opacity="0.059"/>
<stop offset="0.7363" stop-color="#000" stop-opacity="0.095"/>
<stop offset="0.7397" stop-color="#000" stop-opacity="0.177"/>
<stop offset="0.7432" stop-color="#000" stop-opacity="0.335"/>
<stop offset="0.7466" stop-color="#000" stop-opacity="0.528"/>
<stop offset="0.7500" stop-color="#000" stop-opacity="0.620"/>
<stop offset="0.7534" stop-color="#000" stop-opacity="0.528"/>
<stop offset="0.7568" stop-color="#000" stop-opacity="0.335"/>
<stop offset="0.7603" stop-color="#000" stop-opacity="0.177"/>
<stop offset="0.7637" stop-color="#000" stop-opacity="0.095"/>
<stop offset="0.7671" stop-color="#000" stop-opacity="0.059"/>
<stop offset="0.7705" stop-color="#000" stop-opacity="0.042"/>
<stop offset="0.7740" stop-color="#000" stop-opacity="0.034"/>
<stop offset="0.7774" stop-color="#000" stop-opacity="0.038"/>
<stop offset="0.7808" stop-color="#000" stop-opacity="0.055"/>
<stop offset="0.7842" stop-color="#000" stop-opacity="0.081"/>
<stop offset="0.7877" stop-color="#000" stop-opacity="0.101"/>
<stop offset="0.7911" stop-color="#000" stop-opacity="0.100"/>
<stop offset="0.7945" stop-color="#000" stop-opacity="0.080"/>
<stop offset="0.7979" stop-color="#000" stop-opacity="0.053"/>
<stop offset="0.8014" stop-color="#000" stop-opacity="0.034"/>
<stop offset="0.8048" stop-color="#000" stop-opacity="0.029"/>
<stop offset="0.8082" stop-color="#000" stop-opacity="0.034"/>
<stop offset="0.8116" stop-color="#000" stop-opacity="0.048"/>
<stop offset="0.8151" stop-color="#000" stop-opacity="0.073"/>
<stop offset="0.8185" stop-color="#000" stop-opacity="0.128"/>
<stop offset="0.8219" stop-color="#000" stop-opacity="0.246"/>
<stop offset="0.8253" stop-color="#000" stop-opacity="0.434"/>
<stop offset="0.8288" stop-color="#000" stop-opacity="0.595"/>
<stop offset="0.8322" stop-color="#000" stop-opacity="0.595"/>
<stop offset="0.8356" stop-color="#000" stop-opacity="0.434"/>
<stop offset="0.8390" stop-color="#000" stop-opacity="0.246"/>
<stop offset="0.8425" stop-color="#000" stop-opacity="0.128"/>
<stop offset="0.8459" stop-color="#000" stop-opacity="0.074"/>
<stop offset="0.8493" stop-color="#000" stop-opacity="0.049"/>
<stop offset="0.8527" stop-color="#000" stop-opacity="0.037"/>
<stop offset="0.8562" stop-color="#000" stop-opacity="0.034"/>
<stop offset="0.8596" stop-color="#000" stop-opacity="0.045"/>
<stop offset="0.8630" stop-color="#000" stop-opacity="0.068"/>
<stop offset="0.8664" stop-color="#000" stop-opacity="0.093"/>
<stop offset="0.8699" stop-color="#000" stop-opacity="0.103"/>
<stop offset="0.8733" stop-color="#000" stop-opacity="0.092"/>
<stop offset="0.8767" stop-color="#000" stop-opacity="0.066"/>
<stop offset="0.8801" stop-color="#000" stop-opacity="0.042"/>
<stop offset="0.8836" stop-color="#000" stop-opacity="0.030"/>
<stop offset="0.8870" stop-color="#000" stop-opacity="0.030"/>
<stop offset="0.8904" stop-color="#000" stop-opacity="0.041"/>
<stop offset="0.8938" stop-color="#000" stop-opacity="0.059"/>
<stop offset="0.8973" stop-color="#000" stop-opacity="0.095"/>
<stop offset="0.9007" stop-color="#000" stop-opacity="0.177"/>
<stop offset="0.9041" stop-color="#000" stop-opacity="0.335"/>
<stop offset="0.9075" stop-color="#000" stop-opacity="0.528"/>
<stop offset="0.9110" stop-color="#000" stop-opacity="0.620"/>
<stop offset="0.9144" stop-color="#000" stop-opacity="0.528"/>
<stop offset="0.9178" stop-color="#000" stop-opacity="0.335"/>
<stop offset="0.9212" stop-color="#000" stop-opacity="0.177"/>
<stop offset="0.9247" stop-color="#000" stop-opacity="0.095"/>
<stop offset="0.9281" stop-color="#000" stop-opacity="0.059"/>
<stop offset="0.9315" stop-color="#000" stop-opacity="0.042"/>
<stop offset="0.9349" stop-color="#000" stop-opacity="0.034"/>
<stop offset="0.9384" stop-color="#000" stop-opacity="0.038"/>
<stop offset="0.9418" stop-color="#000" stop-opacity="0.055"/>
<stop offset="0.9452" stop-color="#000" stop-opacity="0.081"/>
<stop offset="0.9486" stop-color="#000" stop-opacity="0.101"/>
<stop offset="0.9521" stop-color="#000" stop-opacity="0.100"/>
<stop offset="0.9555" stop-color="#000" stop-opacity="0.080"/>
<stop offset="0.9589" stop-color="#000" stop-opacity="0.053"/>
<stop offset="0.9623" stop-color="#000" stop-opacity="0.034"/>
<stop offset="0.9658" stop-color="#000" stop-opacity="0.029"/>
<stop offset="0.9692" stop-color="#000" stop-opacity="0.034"/>
<stop offset="0.9726" stop-color="#000" stop-opacity="0.048"/>
<stop offset="0.9760" stop-color="#000" stop-opacity="0.073"/>
<stop offset="0.9795" stop-color="#000" stop-opacity="0.128"/>
<stop offset="0.9829" stop-color="#000" stop-opacity="0.246"/>
<stop offset="0.9863" stop-color="#000" stop-opacity="0.434"/>
<stop offset="0.9897" stop-color="#000" stop-opacity="0.595"/>
<stop offset="0.9932" stop-color="#000" stop-opacity="0.595"/>
<stop offset="0.9966" stop-color="#000" stop-opacity="0.434"/>
<stop offset="1.0000" stop-color="#000" stop-opacity="0.246"/>
</linearGradient>
<linearGradient id="sd" gradientUnits="userSpaceOnUse" x1="0" y1="-30" x2="0" y2="262" gradientTransform="rotate(-0.3 116 116.0)">
<stop offset="0.0000" stop-color="#000" stop-opacity="0.203"/>
<stop offset="0.0034" stop-color="#000" stop-opacity="0.235"/>
<stop offset="0.0068" stop-color="#000" stop-opacity="0.272"/>
<stop offset="0.0103" stop-color="#000" stop-opacity="0.320"/>
<stop offset="0.0137" stop-color="#000" stop-opacity="0.386"/>
<stop offset="0.0171" stop-color="#000" stop-opacity="0.481"/>
<stop offset="0.0205" stop-color="#000" stop-opacity="0.606"/>
<stop offset="0.0240" stop-color="#000" stop-opacity="0.749"/>
<stop offset="0.0274" stop-color="#000" stop-opacity="0.875"/>
<stop offset="0.0308" stop-color="#000" stop-opacity="0.945"/>
<stop offset="0.0342" stop-color="#000" stop-opacity="0.932"/>
<stop offset="0.0377" stop-color="#000" stop-opacity="0.841"/>
<stop offset="0.0411" stop-color="#000" stop-opacity="0.706"/>
<stop offset="0.0445" stop-color="#000" stop-opacity="0.566"/>
<stop offset="0.0479" stop-color="#000" stop-opacity="0.450"/>
<stop offset="0.0514" stop-color="#000" stop-opacity="0.365"/>
<stop offset="0.0548" stop-color="#000" stop-opacity="0.305"/>
<stop offset="0.0582" stop-color="#000" stop-opacity="0.263"/>
<stop offset="0.0616" stop-color="#000" stop-opacity="0.228"/>
<stop offset="0.0651" stop-color="#000" stop-opacity="0.199"/>
<stop offset="0.0685" stop-color="#000" stop-opacity="0.172"/>
<stop offset="0.0719" stop-color="#000" stop-opacity="0.148"/>
<stop offset="0.0753" stop-color="#000" stop-opacity="0.128"/>
<stop offset="0.0788" stop-color="#000" stop-opacity="0.112"/>
<stop offset="0.0822" stop-color="#000" stop-opacity="0.100"/>
<stop offset="0.0856" stop-color="#000" stop-opacity="0.093"/>
<stop offset="0.0890" stop-color="#000" stop-opacity="0.090"/>
<stop offset="0.0925" stop-color="#000" stop-opacity="0.092"/>
<stop offset="0.0959" stop-color="#000" stop-opacity="0.099"/>
<stop offset="0.0993" stop-color="#000" stop-opacity="0.110"/>
<stop offset="0.1027" stop-color="#000" stop-opacity="0.126"/>
<stop offset="0.1062" stop-color="#000" stop-opacity="0.145"/>
<stop offset="0.1096" stop-color="#000" stop-opacity="0.168"/>
<stop offset="0.1130" stop-color="#000" stop-opacity="0.194"/>
<stop offset="0.1164" stop-color="#000" stop-opacity="0.224"/>
<stop offset="0.1199" stop-color="#000" stop-opacity="0.257"/>
<stop offset="0.1233" stop-color="#000" stop-opacity="0.298"/>
<stop offset="0.1267" stop-color="#000" stop-opacity="0.354"/>
<stop offset="0.1301" stop-color="#000" stop-opacity="0.435"/>
<stop offset="0.1336" stop-color="#000" stop-opacity="0.547"/>
<stop offset="0.1370" stop-color="#000" stop-opacity="0.684"/>
<stop offset="0.1404" stop-color="#000" stop-opacity="0.823"/>
<stop offset="0.1438" stop-color="#000" stop-opacity="0.923"/>
<stop offset="0.1473" stop-color="#000" stop-opacity="0.948"/>
<stop offset="0.1507" stop-color="#000" stop-opacity="0.890"/>
<stop offset="0.1541" stop-color="#000" stop-opacity="0.770"/>
<stop offset="0.1575" stop-color="#000" stop-opacity="0.627"/>
<stop offset="0.1610" stop-color="#000" stop-opacity="0.498"/>
<stop offset="0.1644" stop-color="#000" stop-opacity="0.399"/>
<stop offset="0.1678" stop-color="#000" stop-opacity="0.329"/>
<stop offset="0.1712" stop-color="#000" stop-opacity="0.281"/>
<stop offset="0.1747" stop-color="#000" stop-opacity="0.243"/>
<stop offset="0.1781" stop-color="#000" stop-opacity="0.212"/>
<stop offset="0.1815" stop-color="#000" stop-opacity="0.184"/>
<stop offset="0.1849" stop-color="#000" stop-opacity="0.159"/>
<stop offset="0.1884" stop-color="#000" stop-opacity="0.137"/>
<stop offset="0.1918" stop-color="#000" stop-opacity="0.119"/>
<stop offset="0.1952" stop-color="#000" stop-opacity="0.105"/>
<stop offset="0.1986" stop-color="#000" stop-opacity="0.095"/>
<stop offset="0.2021" stop-color="#000" stop-opacity="0.091"/>
<stop offset="0.2055" stop-color="#000" stop-opacity="0.090"/>
<stop offset="0.2089" stop-color="#000" stop-opacity="0.095"/>
<stop offset="0.2123" stop-color="#000" stop-opacity="0.104"/>
<stop offset="0.2158" stop-color="#000" stop-opacity="0.118"/>
<stop offset="0.2192" stop-color="#000" stop-opacity="0.136"/>
<stop offset="0.2226" stop-color="#000" stop-opacity="0.157"/>
<stop offset="0.2260" stop-color="#000" stop-opacity="0.182"/>
<stop offset="0.2295" stop-color="#000" stop-opacity="0.210"/>
<stop offset="0.2329" stop-color="#000" stop-opacity="0.241"/>
<stop offset="0.2363" stop-color="#000" stop-opacity="0.278"/>
<stop offset="0.2397" stop-color="#000" stop-opacity="0.327"/>
<stop offset="0.2432" stop-color="#000" stop-opacity="0.395"/>
<stop offset="0.2466" stop-color="#000" stop-opacity="0.492"/>
<stop offset="0.2500" stop-color="#000" stop-opacity="0.620"/>
<stop offset="0.2534" stop-color="#000" stop-opacity="0.763"/>
<stop offset="0.2568" stop-color="#000" stop-opacity="0.885"/>
<stop offset="0.2603" stop-color="#000" stop-opacity="0.947"/>
<stop offset="0.2637" stop-color="#000" stop-opacity="0.926"/>
<stop offset="0.2671" stop-color="#000" stop-opacity="0.829"/>
<stop offset="0.2705" stop-color="#000" stop-opacity="0.692"/>
<stop offset="0.2740" stop-color="#000" stop-opacity="0.553"/>
<stop offset="0.2774" stop-color="#000" stop-opacity="0.440"/>
<stop offset="0.2808" stop-color="#000" stop-opacity="0.358"/>
<stop offset="0.2842" stop-color="#000" stop-opacity="0.301"/>
<stop offset="0.2877" stop-color="#000" stop-opacity="0.259"/>
<stop offset="0.2911" stop-color="#000" stop-opacity="0.225"/>
<stop offset="0.2945" stop-color="#000" stop-opacity="0.196"/>
<stop offset="0.2979" stop-color="#000" stop-opacity="0.169"/>
<stop offset="0.3014" stop-color="#000" stop-opacity="0.146"/>
<stop offset="0.3048" stop-color="#000" stop-opacity="0.126"/>
<stop offset="0.3082" stop-color="#000" stop-opacity="0.111"/>
<stop offset="0.3116" stop-color="#000" stop-opacity="0.099"/>
<stop offset="0.3151" stop-color="#000" stop-opacity="0.092"/>
<stop offset="0.3185" stop-color="#000" stop-opacity="0.090"/>
<stop offset="0.3219" stop-color="#000" stop-opacity="0.092"/>
<stop offset="0.3253" stop-color="#000" stop-opacity="0.100"/>
<stop offset="0.3288" stop-color="#000" stop-opacity="0.111"/>
<stop offset="0.3322" stop-color="#000" stop-opacity="0.127"/>
<stop offset="0.3356" stop-color="#000" stop-opacity="0.147"/>
<stop offset="0.3390" stop-color="#000" stop-opacity="0.171"/>
<stop offset="0.3425" stop-color="#000" stop-opacity="0.197"/>
<stop offset="0.3459" stop-color="#000" stop-opacity="0.227"/>
<stop offset="0.3493" stop-color="#000" stop-opacity="0.261"/>
<stop offset="0.3527" stop-color="#000" stop-opacity="0.303"/>
<stop offset="0.3562" stop-color="#000" stop-opacity="0.361"/>
<stop offset="0.3596" stop-color="#000" stop-opacity="0.445"/>
<stop offset="0.3630" stop-color="#000" stop-opacity="0.560"/>
<stop offset="0.3664" stop-color="#000" stop-opacity="0.699"/>
<stop offset="0.3699" stop-color="#000" stop-opacity="0.835"/>
<stop offset="0.3733" stop-color="#000" stop-opacity="0.929"/>
<stop offset="0.3767" stop-color="#000" stop-opacity="0.946"/>
<stop offset="0.3801" stop-color="#000" stop-opacity="0.880"/>
<stop offset="0.3836" stop-color="#000" stop-opacity="0.756"/>
<stop offset="0.3870" stop-color="#000" stop-opacity="0.613"/>
<stop offset="0.3904" stop-color="#000" stop-opacity="0.487"/>
<stop offset="0.3938" stop-color="#000" stop-opacity="0.391"/>
<stop offset="0.3973" stop-color="#000" stop-opacity="0.324"/>
<stop offset="0.4007" stop-color="#000" stop-opacity="0.276"/>
<stop offset="0.4041" stop-color="#000" stop-opacity="0.240"/>
<stop offset="0.4075" stop-color="#000" stop-opacity="0.209"/>
<stop offset="0.4110" stop-color="#000" stop-opacity="0.181"/>
<stop offset="0.4144" stop-color="#000" stop-opacity="0.156"/>
<stop offset="0.4178" stop-color="#000" stop-opacity="0.135"/>
<stop offset="0.4212" stop-color="#000" stop-opacity="0.117"/>
<stop offset="0.4247" stop-color="#000" stop-opacity="0.104"/>
<stop offset="0.4281" stop-color="#000" stop-opacity="0.095"/>
<stop offset="0.4315" stop-color="#000" stop-opacity="0.090"/>
<stop offset="0.4349" stop-color="#000" stop-opacity="0.091"/>
<stop offset="0.4384" stop-color="#000" stop-opacity="0.096"/>
<stop offset="0.4418" stop-color="#000" stop-opacity="0.105"/>
<stop offset="0.4452" stop-color="#000" stop-opacity="0.120"/>
<stop offset="0.4486" stop-color="#000" stop-opacity="0.138"/>
<stop offset="0.4521" stop-color="#000" stop-opacity="0.160"/>
<stop offset="0.4555" stop-color="#000" stop-opacity="0.185"/>
<stop offset="0.4589" stop-color="#000" stop-opacity="0.213"/>
<stop offset="0.4623" stop-color="#000" stop-opacity="0.245"/>
<stop offset="0.4658" stop-color="#000" stop-opacity="0.283"/>
<stop offset="0.4692" stop-color="#000" stop-opacity="0.332"/>
<stop offset="0.4726" stop-color="#000" stop-opacity="0.403"/>
<stop offset="0.4760" stop-color="#000" stop-opacity="0.504"/>
<stop offset="0.4795" stop-color="#000" stop-opacity="0.634"/>
<stop offset="0.4829" stop-color="#000" stop-opacity="0.777"/>
<stop offset="0.4863" stop-color="#000" stop-opacity="0.895"/>
<stop offset="0.4897" stop-color="#000" stop-opacity="0.949"/>
<stop offset="0.4932" stop-color="#000" stop-opacity="0.919"/>
<stop offset="0.4966" stop-color="#000" stop-opacity="0.817"/>
<stop offset="0.5000" stop-color="#000" stop-opacity="0.677"/>
<stop offset="0.5034" stop-color="#000" stop-opacity="0.540"/>
<stop offset="0.5068" stop-color="#000" stop-opacity="0.430"/>
<stop offset="0.5103" stop-color="#000" stop-opacity="0.351"/>
<stop offset="0.5137" stop-color="#000" stop-opacity="0.296"/>
<stop offset="0.5171" stop-color="#000" stop-opacity="0.255"/>
<stop offset="0.5205" stop-color="#000" stop-opacity="0.222"/>
<stop offset="0.5240" stop-color="#000" stop-opacity="0.193"/>
<stop offset="0.5274" stop-color="#000" stop-opacity="0.167"/>
<stop offset="0.5308" stop-color="#000" stop-opacity="0.144"/>
<stop offset="0.5342" stop-color="#000" stop-opacity="0.125"/>
<stop offset="0.5377" stop-color="#000" stop-opacity="0.109"/>
<stop offset="0.5411" stop-color="#000" stop-opacity="0.098"/>
<stop offset="0.5445" stop-color="#000" stop-opacity="0.092"/>
<stop offset="0.5479" stop-color="#000" stop-opacity="0.090"/>
<stop offset="0.5514" stop-color="#000" stop-opacity="0.093"/>
<stop offset="0.5548" stop-color="#000" stop-opacity="0.101"/>
<stop offset="0.5582" stop-color="#000" stop-opacity="0.113"/>
<stop offset="0.5616" stop-color="#000" stop-opacity="0.129"/>
<stop offset="0.5651" stop-color="#000" stop-opacity="0.149"/>
<stop offset="0.5685" stop-color="#000" stop-opacity="0.173"/>
<stop offset="0.5719" stop-color="#000" stop-opacity="0.200"/>
<stop offset="0.5753" stop-color="#000" stop-opacity="0.230"/>
<stop offset="0.5788" stop-color="#000" stop-opacity="0.265"/>
<stop offset="0.5822" stop-color="#000" stop-opacity="0.308"/>
<stop offset="0.5856" stop-color="#000" stop-opacity="0.368"/>
<stop offset="0.5890" stop-color="#000" stop-opacity="0.455"/>
<stop offset="0.5925" stop-color="#000" stop-opacity="0.573"/>
<stop offset="0.5959" stop-color="#000" stop-opacity="0.713"/>
<stop offset="0.5993" stop-color="#000" stop-opacity="0.847"/>
<stop offset="0.6027" stop-color="#000" stop-opacity="0.935"/>
<stop offset="0.6062" stop-color="#000" stop-opacity="0.943"/>
<stop offset="0.6096" stop-color="#000" stop-opacity="0.870"/>
<stop offset="0.6130" stop-color="#000" stop-opacity="0.742"/>
<stop offset="0.6164" stop-color="#000" stop-opacity="0.600"/>
<stop offset="0.6199" stop-color="#000" stop-opacity="0.476"/>
<stop offset="0.6233" stop-color="#000" stop-opacity="0.383"/>
<stop offset="0.6267" stop-color="#000" stop-opacity="0.318"/>
<stop offset="0.6301" stop-color="#000" stop-opacity="0.272"/>
<stop offset="0.6336" stop-color="#000" stop-opacity="0.236"/>
<stop offset="0.6370" stop-color="#000" stop-opacity="0.206"/>
<stop offset="0.6404" stop-color="#000" stop-opacity="0.178"/>
<stop offset="0.6438" stop-color="#000" stop-opacity="0.154"/>
<stop offset="0.6473" stop-color="#000" stop-opacity="0.133"/>
<stop offset="0.6507" stop-color="#000" stop-opacity="0.116"/>
<stop offset="0.6541" stop-color="#000" stop-opacity="0.103"/>
<stop offset="0.6575" stop-color="#000" stop-opacity="0.094"/>
<stop offset="0.6610" stop-color="#000" stop-opacity="0.090"/>
<stop offset="0.6644" stop-color="#000" stop-opacity="0.091"/>
<stop offset="0.6678" stop-color="#000" stop-opacity="0.097"/>
<stop offset="0.6712" stop-color="#000" stop-opacity="0.107"/>
<stop offset="0.6747" stop-color="#000" stop-opacity="0.121"/>
<stop offset="0.6781" stop-color="#000" stop-opacity="0.140"/>
<stop offset="0.6815" stop-color="#000" stop-opacity="0.162"/>
<stop offset="0.6849" stop-color="#000" stop-opacity="0.188"/>
<stop offset="0.6884" stop-color="#000" stop-opacity="0.216"/>
<stop offset="0.6918" stop-color="#000" stop-opacity="0.248"/>
<stop offset="0.6952" stop-color="#000" stop-opacity="0.287"/>
<stop offset="0.6986" stop-color="#000" stop-opacity="0.338"/>
<stop offset="0.7021" stop-color="#000" stop-opacity="0.412"/>
<stop offset="0.7055" stop-color="#000" stop-opacity="0.516"/>
<stop offset="0.7089" stop-color="#000" stop-opacity="0.649"/>
<stop offset="0.7123" stop-color="#000" stop-opacity="0.790"/>
<stop offset="0.7158" stop-color="#000" stop-opacity="0.904"/>
<stop offset="0.7192" stop-color="#000" stop-opacity="0.950"/>
<stop offset="0.7226" stop-color="#000" stop-opacity="0.912"/>
<stop offset="0.7260" stop-color="#000" stop-opacity="0.804"/>
<stop offset="0.7295" stop-color="#000" stop-opacity="0.663"/>
<stop offset="0.7329" stop-color="#000" stop-opacity="0.528"/>
<stop offset="0.7363" stop-color="#000" stop-opacity="0.421"/>
<stop offset="0.7397" stop-color="#000" stop-opacity="0.345"/>
<stop offset="0.7432" stop-color="#000" stop-opacity="0.291"/>
<stop offset="0.7466" stop-color="#000" stop-opacity="0.252"/>
<stop offset="0.7500" stop-color="#000" stop-opacity="0.219"/>
<stop offset="0.7534" stop-color="#000" stop-opacity="0.190"/>
<stop offset="0.7568" stop-color="#000" stop-opacity="0.165"/>
<stop offset="0.7603" stop-color="#000" stop-opacity="0.142"/>
<stop offset="0.7637" stop-color="#000" stop-opacity="0.123"/>
<stop offset="0.7671" stop-color="#000" stop-opacity="0.108"/>
<stop offset="0.7705" stop-color="#000" stop-opacity="0.097"/>
<stop offset="0.7740" stop-color="#000" stop-opacity="0.091"/>
<stop offset="0.7774" stop-color="#000" stop-opacity="0.090"/>
<stop offset="0.7808" stop-color="#000" stop-opacity="0.093"/>
<stop offset="0.7842" stop-color="#000" stop-opacity="0.102"/>
<stop offset="0.7877" stop-color="#000" stop-opacity="0.114"/>
<stop offset="0.7911" stop-color="#000" stop-opacity="0.131"/>
<stop offset="0.7945" stop-color="#000" stop-opacity="0.152"/>
<stop offset="0.7979" stop-color="#000" stop-opacity="0.176"/>
<stop offset="0.8014" stop-color="#000" stop-opacity="0.203"/>
<stop offset="0.8048" stop-color="#000" stop-opacity="0.233"/>
<stop offset="0.8082" stop-color="#000" stop-opacity="0.268"/>
<stop offset="0.8116" stop-color="#000" stop-opacity="0.313"/>
<stop offset="0.8151" stop-color="#000" stop-opacity="0.375"/>
<stop offset="0.8185" stop-color="#000" stop-opacity="0.465"/>
<stop offset="0.8219" stop-color="#000" stop-opacity="0.586"/>
<stop offset="0.8253" stop-color="#000" stop-opacity="0.728"/>
<stop offset="0.8288" stop-color="#000" stop-opacity="0.859"/>
<stop offset="0.8322" stop-color="#000" stop-opacity="0.939"/>
<stop offset="0.8356" stop-color="#000" stop-opacity="0.939"/>
<stop offset="0.8390" stop-color="#000" stop-opacity="0.859"/>
<stop offset="0.8425" stop-color="#000" stop-opacity="0.728"/>
<stop offset="0.8459" stop-color="#000" stop-opacity="0.586"/>
<stop offset="0.8493" stop-color="#000" stop-opacity="0.465"/>
<stop offset="0.8527" stop-color="#000" stop-opacity="0.375"/>
<stop offset="0.8562" stop-color="#000" stop-opacity="0.313"/>
<stop offset="0.8596" stop-color="#000" stop-opacity="0.268"/>
<stop offset="0.8630" stop-color="#000" stop-opacity="0.233"/>
<stop offset="0.8664" stop-color="#000" stop-opacity="0.203"/>
<stop offset="0.8699" stop-color="#000" stop-opacity="0.176"/>
<stop offset="0.8733" stop-color="#000" stop-opacity="0.152"/>
<stop offset="0.8767" stop-color="#000" stop-opacity="0.131"/>
<stop offset="0.8801" stop-color="#000" stop-opacity="0.114"/>
<stop offset="0.8836" stop-color="#000" stop-opacity="0.102"/>
<stop offset="0.8870" stop-color="#000" stop-opacity="0.093"/>
<stop offset="0.8904" stop-color="#000" stop-opacity="0.090"/>
<stop offset="0.8938" stop-color="#000" stop-opacity="0.091"/>
<stop offset="0.8973" stop-color="#000" stop-opacity="0.097"/>
<stop offset="0.9007" stop-color="#000" stop-opacity="0.108"/>
<stop offset="0.9041" stop-color="#000" stop-opacity="0.123"/>
<stop offset="0.9075" stop-color="#000" stop-opacity="0.142"/>
<stop offset="0.9110" stop-color="#000" stop-opacity="0.165"/>
<stop offset="0.9144" stop-color="#000" stop-opacity="0.190"/>
<stop offset="0.9178" stop-color="#000" stop-opacity="0.219"/>
<stop offset="0.9212" stop-color="#000" stop-opacity="0.252"/>
<stop offset="0.9247" stop-color="#000" stop-opacity="0.291"/>
<stop offset="0.9281" stop-color="#000" stop-opacity="0.345"/>
<stop offset="0.9315" stop-color="#000" stop-opacity="0.421"/>
<stop offset="0.9349" stop-color="#000" stop-opacity="0.528"/>
<stop offset="0.9384" stop-color="#000" stop-opacity="0.663"/>
<stop offset="0.9418" stop-color="#000" stop-opacity="0.804"/>
<stop offset="0.9452" stop-color="#000" stop-opacity="0.912"/>
<stop offset="0.9486" stop-color="#000" stop-opacity="0.950"/>
<stop offset="0.9521" stop-color="#000" stop-opacity="0.904"/>
<stop offset="0.9555" stop-color="#000" stop-opacity="0.790"/>
<stop offset="0.9589" stop-color="#000" stop-opacity="0.648"/>
<stop offset="0.9623" stop-color="#000" stop-opacity="0.515"/>
<stop offset="0.9658" stop-color="#000" stop-opacity="0.411"/>
<stop offset="0.9692" stop-color="#000" stop-opacity="0.337"/>
<stop offset="0.9726" stop-color="#000" stop-opacity="0.285"/>
<stop offset="0.9760" stop-color="#000" stop-opacity="0.246"/>
<stop offset="0.9795" stop-color="#000" stop-opacity="0.212"/>
<stop offset="0.9829" stop-color="#000" stop-opacity="0.182"/>
<stop offset="0.9863" stop-color="#000" stop-opacity="0.154"/>
<stop offset="0.9897" stop-color="#000" stop-opacity="0.129"/>
<stop offset="0.9932" stop-color="#000" stop-opacity="0.106"/>
<stop offset="0.9966" stop-color="#000" stop-opacity="0.086"/>
<stop offset="1.0000" stop-color="#000" stop-opacity="0.068"/>
</linearGradient>
</defs>
<svg x="28" y="3" width="233" height="232" viewBox="0 0 233 232" overflow="hidden">
<g filter="url(#gb0)">
<rect x="-30" y="-30" width="293" height="292" fill="rgb(113,113,113)"/>
<rect x="-30.0" y="-30.0" width="59.6" height="59.5" fill="rgb(84,84,88)"/>
<rect x="29.1" y="-30.0" width="29.6" height="59.5" fill="rgb(90,90,94)"/>
<rect x="58.2" y="-30.0" width="29.6" height="59.5" fill="rgb(98,98,102)"/>
<rect x="87.4" y="-30.0" width="29.6" height="59.5" fill="rgb(98,98,102)"/>
<rect x="116.5" y="-30.0" width="29.6" height="59.5" fill="rgb(96,96,100)"/>
<rect x="145.6" y="-30.0" width="29.6" height="59.5" fill="rgb(92,92,96)"/>
<rect x="174.8" y="-30.0" width="29.6" height="59.5" fill="rgb(74,74,78)"/>
<rect x="203.9" y="-30.0" width="59.6" height="59.5" fill="rgb(188,188,192)"/>
<rect x="-30.0" y="29.0" width="59.6" height="29.5" fill="rgb(80,80,84)"/>
<rect x="29.1" y="29.0" width="29.6" height="29.5" fill="rgb(86,86,90)"/>
<rect x="58.2" y="29.0" width="29.6" height="29.5" fill="rgb(98,98,102)"/>
<rect x="87.4" y="29.0" width="29.6" height="29.5" fill="rgb(104,104,108)"/>
<rect x="116.5" y="29.0" width="29.6" height="29.5" fill="rgb(104,104,108)"/>
<rect x="145.6" y="29.0" width="29.6" height="29.5" fill="rgb(96,96,100)"/>
<rect x="174.8" y="29.0" width="29.6" height="29.5" fill="rgb(76,76,80)"/>
<rect x="203.9" y="29.0" width="59.6" height="29.5" fill="rgb(195,195,199)"/>
<rect x="-30.0" y="58.0" width="59.6" height="29.5" fill="rgb(84,84,88)"/>
<rect x="29.1" y="58.0" width="29.6" height="29.5" fill="rgb(90,90,94)"/>
<rect x="58.2" y="58.0" width="29.6" height="29.5" fill="rgb(104,104,108)"/>
<rect x="87.4" y="58.0" width="29.6" height="29.5" fill="rgb(112,112,116)"/>
<rect x="116.5" y="58.0" width="29.6" height="29.5" fill="rgb(112,112,116)"/>
<rect x="145.6" y="58.0" width="29.6" height="29.5" fill="rgb(104,104,108)"/>
<rect x="174.8" y="58.0" width="29.6" height="29.5" fill="rgb(78,78,82)"/>
<rect x="203.9" y="58.0" width="59.6" height="29.5" fill="rgb(192,192,196)"/>
<rect x="-30.0" y="87.0" width="59.6" height="29.5" fill="rgb(88,88,92)"/>
<rect x="29.1" y="87.0" width="29.6" height="29.5" fill="rgb(96,96,100)"/>
<rect x="58.2" y="87.0" width="29.6" height="29.5" fill="rgb(110,110,114)"/>
<rect x="87.4" y="87.0" width="29.6" height="29.5" fill="rgb(120,120,124)"/>
<rect x="116.5" y="87.0" width="29.6" height="29.5" fill="rgb(125,125,129)"/>
<rect x="145.6" y="87.0" width="29.6" height="29.5" fill="rgb(115,115,119)"/>
<rect x="174.8" y="87.0" width="29.6" height="29.5" fill="rgb(82,82,86)"/>
<rect x="203.9" y="87.0" width="59.6" height="29.5" fill="rgb(188,188,192)"/>
<rect x="-30.0" y="116.0" width="59.6" height="29.5" fill="rgb(96,96,100)"/>
<rect x="29.1" y="116.0" width="29.6" height="29.5" fill="rgb(104,104,108)"/>
<rect x="58.2" y="116.0" width="29.6" height="29.5" fill="rgb(118,118,122)"/>
<rect x="87.4" y="116.0" width="29.6" height="29.5" fill="rgb(132,132,136)"/>
<rect x="116.5" y="116.0" width="29.6" height="29.5" fill="rgb(136,136,140)"/>
<rect x="145.6" y="116.0" width="29.6" height="29.5" fill="rgb(125,125,129)"/>
<rect x="174.8" y="116.0" width="29.6" height="29.5" fill="rgb(86,86,90)"/>
<rect x="203.9" y="116.0" width="59.6" height="29.5" fill="rgb(192,192,196)"/>
<rect x="-30.0" y="145.0" width="59.6" height="29.5" fill="rgb(98,98,102)"/>
<rect x="29.1" y="145.0" width="29.6" height="29.5" fill="rgb(96,96,100)"/>
<rect x="58.2" y="145.0" width="29.6" height="29.5" fill="rgb(115,115,119)"/>
<rect x="87.4" y="145.0" width="29.6" height="29.5" fill="rgb(126,126,130)"/>
<rect x="116.5" y="145.0" width="29.6" height="29.5" fill="rgb(128,128,132)"/>
<rect x="145.6" y="145.0" width="29.6" height="29.5" fill="rgb(120,120,124)"/>
<rect x="174.8" y="145.0" width="29.6" height="29.5" fill="rgb(88,88,92)"/>
<rect x="203.9" y="145.0" width="59.6" height="29.5" fill="rgb(195,195,199)"/>
<rect x="-30.0" y="174.0" width="59.6" height="29.5" fill="rgb(76,76,80)"/>
<rect x="29.1" y="174.0" width="29.6" height="29.5" fill="rgb(90,90,94)"/>
<rect x="58.2" y="174.0" width="29.6" height="29.5" fill="rgb(112,112,116)"/>
<rect x="87.4" y="174.0" width="29.6" height="29.5" fill="rgb(120,120,124)"/>
<rect x="116.5" y="174.0" width="29.6" height="29.5" fill="rgb(120,120,124)"/>
<rect x="145.6" y="174.0" width="29.6" height="29.5" fill="rgb(115,115,119)"/>
<rect x="174.8" y="174.0" width="29.6" height="29.5" fill="rgb(80,80,84)"/>
<rect x="203.9" y="174.0" width="59.6" height="29.5" fill="rgb(178,178,182)"/>
<rect x="-30.0" y="203.0" width="59.6" height="59.5" fill="rgb(104,104,108)"/>
<rect x="29.1" y="203.0" width="29.6" height="59.5" fill="rgb(110,110,114)"/>
<rect x="58.2" y="203.0" width="29.6" height="59.5" fill="rgb(122,122,126)"/>
<rect x="87.4" y="203.0" width="29.6" height="59.5" fill="rgb(128,128,132)"/>
<rect x="116.5" y="203.0" width="29.6" height="59.5" fill="rgb(128,128,132)"/>
<rect x="145.6" y="203.0" width="29.6" height="59.5" fill="rgb(122,122,126)"/>
<rect x="174.8" y="203.0" width="29.6" height="59.5" fill="rgb(94,94,98)"/>
<rect x="203.9" y="203.0" width="59.6" height="59.5" fill="rgb(150,150,154)"/>
<ellipse cx="220" cy="95" rx="14" ry="100" fill="#d0d0d8" opacity="0.85"/>
</g>
<filter id="cl0" x="0" y="0" width="100%" height="100%"><feTurbulence type="fractalNoise" baseFrequency="0.025 0.07" numOctaves="3" seed="4"/><feColorMatrix type="matrix" values="0 0 0 0 0  0 0 0 0 0  0 0 0 0 0  -3 0 0 0 1.5"/></filter>
<filter id="cw0" x="0" y="0" width="100%" height="100%"><feTurbulence type="fractalNoise" baseFrequency="0.025 0.07" numOctaves="3" seed="4"/><feColorMatrix type="matrix" values="0 0 0 0 1  0 0 0 0 1  0 0 0 0 1  3 0 0 0 -1.5"/></filter>
<rect width="233" height="232" filter="url(#cl0)" opacity="0.16"/>
<rect width="233" height="232" filter="url(#cw0)" opacity="0.16"/>
<rect x="-30" y="-30" width="293" height="292" fill="url(#sa)"/>
<pattern id="fr0" width="8" height="3" patternUnits="userSpaceOnUse"><rect width="8" height="1.2" fill="#000"/></pattern>
<rect width="233" height="232" fill="url(#fr0)" opacity="0.045"/>
<rect width="233" height="232" filter="url(#gnoise)" opacity="0.16"/>
<rect width="233" height="232" filter="url(#gnoise2)" opacity="0.128"/>
</svg>
<defs>
<linearGradient id="lgb0" gradientUnits="userSpaceOnUse" x1="0" y1="0" x2="232" y2="0">
<stop offset="0.000" stop-color="#000" stop-opacity="0.89"/>
<stop offset="0.069" stop-color="#000" stop-opacity="0.89"/>
<stop offset="0.138" stop-color="#000" stop-opacity="0.73"/>
<stop offset="0.207" stop-color="#000" stop-opacity="0.61"/>
<stop offset="0.276" stop-color="#000" stop-opacity="0.48"/>
<stop offset="0.345" stop-color="#000" stop-opacity="0.66"/>
<stop offset="0.414" stop-color="#000" stop-opacity="0.67"/>
<stop offset="0.483" stop-color="#000" stop-opacity="0.47"/>
<stop offset="0.552" stop-color="#000" stop-opacity="0.48"/>
<stop offset="0.621" stop-color="#000" stop-opacity="1.00"/>
<stop offset="0.690" stop-color="#000" stop-opacity="0.81"/>
<stop offset="0.759" stop-color="#000" stop-opacity="0.58"/>
<stop offset="0.828" stop-color="#000" stop-opacity="0.69"/>
<stop offset="0.897" stop-color="#000" stop-opacity="0.99"/>
<stop offset="0.966" stop-color="#000" stop-opacity="0.94"/>
</linearGradient>
<linearGradient id="lgb1" gradientUnits="userSpaceOnUse" x1="0" y1="0" x2="232" y2="0">
<stop offset="0.000" stop-color="#000" stop-opacity="0.91"/>
<stop offset="0.069" stop-color="#000" stop-opacity="0.67"/>
<stop offset="0.138" stop-color="#000" stop-opacity="0.72"/>
<stop offset="0.207" stop-color="#000" stop-opacity="0.82"/>
<stop offset="0.276" stop-color="#000" stop-opacity="0.48"/>
<stop offset="0.345" stop-color="#000" stop-opacity="0.76"/>
<stop offset="0.414" stop-color="#000" stop-opacity="0.60"/>
<stop offset="0.483" stop-color="#000" stop-opacity="0.93"/>
<stop offset="0.552" stop-color="#000" stop-opacity="0.49"/>
<stop offset="0.621" stop-color="#000" stop-opacity="0.82"/>
<stop offset="0.690" stop-color="#000" stop-opacity="0.93"/>
<stop offset="0.759" stop-color="#000" stop-opacity="0.58"/>
<stop offset="0.828" stop-color="#000" stop-opacity="0.94"/>
<stop offset="0.897" stop-color="#000" stop-opacity="0.93"/>
<stop offset="0.966" stop-color="#000" stop-opacity="0.46"/>
</linearGradient>
<linearGradient id="lgb2" gradientUnits="userSpaceOnUse" x1="0" y1="0" x2="232" y2="0">
<stop offset="0.000" stop-color="#000" stop-opacity="0.84"/>
<stop offset="0.069" stop-color="#000" stop-opacity="0.45"/>
<stop offset="0.138" stop-color="#000" stop-opacity="0.73"/>
<stop offset="0.207" stop-color="#000" stop-opacity="0.69"/>
<stop offset="0.276" stop-color="#000" stop-opacity="0.56"/>
<stop offset="0.345" stop-color="#000" stop-opacity="0.63"/>
<stop offset="0.414" stop-color="#000" stop-opacity="0.89"/>
<stop offset="0.483" stop-color="#000" stop-opacity="0.62"/>
<stop offset="0.552" stop-color="#000" stop-opacity="0.53"/>
<stop offset="0.621" stop-color="#000" stop-opacity="0.83"/>
<stop offset="0.690" stop-color="#000" stop-opacity="0.70"/>
<stop offset="0.759" stop-color="#000" stop-opacity="0.89"/>
<stop offset="0.828" stop-color="#000" stop-opacity="0.58"/>
<stop offset="0.897" stop-color="#000" stop-opacity="0.63"/>
<stop offset="0.966" stop-color="#000" stop-opacity="0.89"/>
</linearGradient>
<linearGradient id="lgb3" gradientUnits="userSpaceOnUse" x1="0" y1="0" x2="232" y2="0">
<stop offset="0.000" stop-color="#000" stop-opacity="0.73"/>
<stop offset="0.069" stop-color="#000" stop-opacity="0.73"/>
<stop offset="0.138" stop-color="#000" stop-opacity="0.58"/>
<stop offset="0.207" stop-color="#000" stop-opacity="0.46"/>
<stop offset="0.276" stop-color="#000" stop-opacity="0.96"/>
<stop offset="0.345" stop-color="#000" stop-opacity="0.50"/>
<stop offset="0.414" stop-color="#000" stop-opacity="0.91"/>
<stop offset="0.483" stop-color="#000" stop-opacity="0.65"/>
<stop offset="0.552" stop-color="#000" stop-opacity="0.97"/>
<stop offset="0.621" stop-color="#000" stop-opacity="0.67"/>
<stop offset="0.690" stop-color="#000" stop-opacity="0.97"/>
<stop offset="0.759" stop-color="#000" stop-opacity="0.76"/>
<stop offset="0.828" stop-color="#000" stop-opacity="0.58"/>
<stop offset="0.897" stop-color="#000" stop-opacity="0.86"/>
<stop offset="0.966" stop-color="#000" stop-opacity="0.82"/>
</linearGradient>
<linearGradient id="lgb4" gradientUnits="userSpaceOnUse" x1="0" y1="0" x2="232" y2="0">
<stop offset="0.000" stop-color="#000" stop-opacity="0.83"/>
<stop offset="0.069" stop-color="#000" stop-opacity="0.71"/>
<stop offset="0.138" stop-color="#000" stop-opacity="0.57"/>
<stop offset="0.207" stop-color="#000" stop-opacity="0.80"/>
<stop offset="0.276" stop-color="#000" stop-opacity="0.51"/>
<stop offset="0.345" stop-color="#000" stop-opacity="0.83"/>
<stop offset="0.414" stop-color="#000" stop-opacity="0.80"/>
<stop offset="0.483" stop-color="#000" stop-opacity="0.66"/>
<stop offset="0.552" stop-color="#000" stop-opacity="0.89"/>
<stop offset="0.621" stop-color="#000" stop-opacity="0.56"/>
<stop offset="0.690" stop-color="#000" stop-opacity="0.66"/>
<stop offset="0.759" stop-color="#000" stop-opacity="0.89"/>
<stop offset="0.828" stop-color="#000" stop-opacity="0.66"/>
<stop offset="0.897" stop-color="#000" stop-opacity="0.84"/>
<stop offset="0.966" stop-color="#000" stop-opacity="0.79"/>
</linearGradient>
</defs>
<svg x="269" y="3" width="232" height="232" viewBox="0 0 232 232" overflow="hidden">
<g filter="url(#gb1)">
<rect x="-30" y="-30" width="292" height="292" fill="rgb(150,150,150)"/>
<rect x="-30.0" y="-30.0" width="59.5" height="59.5" fill="rgb(118,118,123)"/>
<rect x="29.0" y="-30.0" width="29.5" height="59.5" fill="rgb(122,122,127)"/>
<rect x="58.0" y="-30.0" width="29.5" height="59.5" fill="rgb(125,125,130)"/>
<rect x="87.0" y="-30.0" width="29.5" height="59.5" fill="rgb(125,125,130)"/>
<rect x="116.0" y="-30.0" width="29.5" height="59.5" fill="rgb(122,122,127)"/>
<rect x="145.0" y="-30.0" width="29.5" height="59.5" fill="rgb(120,120,125)"/>
<rect x="174.0" y="-30.0" width="29.5" height="59.5" fill="rgb(118,118,123)"/>
<rect x="203.0" y="-30.0" width="59.5" height="59.5" fill="rgb(122,122,127)"/>
<rect x="-30.0" y="29.0" width="59.5" height="29.5" fill="rgb(160,160,165)"/>
<rect x="29.0" y="29.0" width="29.5" height="29.5" fill="rgb(155,155,160)"/>
<rect x="58.0" y="29.0" width="29.5" height="29.5" fill="rgb(155,155,160)"/>
<rect x="87.0" y="29.0" width="29.5" height="29.5" fill="rgb(158,158,163)"/>
<rect x="116.0" y="29.0" width="29.5" height="29.5" fill="rgb(160,160,165)"/>
<rect x="145.0" y="29.0" width="29.5" height="29.5" fill="rgb(155,155,160)"/>
<rect x="174.0" y="29.0" width="29.5" height="29.5" fill="rgb(150,150,155)"/>
<rect x="203.0" y="29.0" width="59.5" height="29.5" fill="rgb(145,145,150)"/>
<rect x="-30.0" y="58.0" width="59.5" height="29.5" fill="rgb(165,165,170)"/>
<rect x="29.0" y="58.0" width="29.5" height="29.5" fill="rgb(155,155,160)"/>
<rect x="58.0" y="58.0" width="29.5" height="29.5" fill="rgb(145,145,150)"/>
<rect x="87.0" y="58.0" width="29.5" height="29.5" fill="rgb(160,160,165)"/>
<rect x="116.0" y="58.0" width="29.5" height="29.5" fill="rgb(162,162,167)"/>
<rect x="145.0" y="58.0" width="29.5" height="29.5" fill="rgb(160,160,165)"/>
<rect x="174.0" y="58.0" width="29.5" height="29.5" fill="rgb(155,155,160)"/>
<rect x="203.0" y="58.0" width="59.5" height="29.5" fill="rgb(145,145,150)"/>
<rect x="-30.0" y="87.0" width="59.5" height="29.5" fill="rgb(155,155,160)"/>
<rect x="29.0" y="87.0" width="29.5" height="29.5" fill="rgb(145,145,150)"/>
<rect x="58.0" y="87.0" width="29.5" height="29.5" fill="rgb(130,130,135)"/>
<rect x="87.0" y="87.0" width="29.5" height="29.5" fill="rgb(150,150,155)"/>
<rect x="116.0" y="87.0" width="29.5" height="29.5" fill="rgb(155,155,160)"/>
<rect x="145.0" y="87.0" width="29.5" height="29.5" fill="rgb(155,155,160)"/>
<rect x="174.0" y="87.0" width="29.5" height="29.5" fill="rgb(150,150,155)"/>
<rect x="203.0" y="87.0" width="59.5" height="29.5" fill="rgb(145,145,150)"/>
<rect x="-30.0" y="116.0" width="59.5" height="29.5" fill="rgb(175,175,180)"/>
<rect x="29.0" y="116.0" width="29.5" height="29.5" fill="rgb(168,168,173)"/>
<rect x="58.0" y="116.0" width="29.5" height="29.5" fill="rgb(155,155,160)"/>
<rect x="87.0" y="116.0" width="29.5" height="29.5" fill="rgb(155,155,160)"/>
<rect x="116.0" y="116.0" width="29.5" height="29.5" fill="rgb(160,160,165)"/>
<rect x="145.0" y="116.0" width="29.5" height="29.5" fill="rgb(160,160,165)"/>
<rect x="174.0" y="116.0" width="29.5" height="29.5" fill="rgb(155,155,160)"/>
<rect x="203.0" y="116.0" width="59.5" height="29.5" fill="rgb(148,148,153)"/>
<rect x="-30.0" y="145.0" width="59.5" height="29.5" fill="rgb(170,170,175)"/>
<rect x="29.0" y="145.0" width="29.5" height="29.5" fill="rgb(170,170,175)"/>
<rect x="58.0" y="145.0" width="29.5" height="29.5" fill="rgb(160,160,165)"/>
<rect x="87.0" y="145.0" width="29.5" height="29.5" fill="rgb(158,158,163)"/>
<rect x="116.0" y="145.0" width="29.5" height="29.5" fill="rgb(155,155,160)"/>
<rect x="145.0" y="145.0" width="29.5" height="29.5" fill="rgb(153,153,158)"/>
<rect x="174.0" y="145.0" width="29.5" height="29.5" fill="rgb(150,150,155)"/>
<rect x="203.0" y="145.0" width="59.5" height="29.5" fill="rgb(145,145,150)"/>
<rect x="-30.0" y="174.0" width="59.5" height="29.5" fill="rgb(160,160,165)"/>
<rect x="29.0" y="174.0" width="29.5" height="29.5" fill="rgb(155,155,160)"/>
<rect x="58.0" y="174.0" width="29.5" height="29.5" fill="rgb(150,150,155)"/>
<rect x="87.0" y="174.0" width="29.5" height="29.5" fill="rgb(155,155,160)"/>
<rect x="116.0" y="174.0" width="29.5" height="29.5" fill="rgb(160,160,165)"/>
<rect x="145.0" y="174.0" width="29.5" height="29.5" fill="rgb(155,155,160)"/>
<rect x="174.0" y="174.0" width="29.5" height="29.5" fill="rgb(153,153,158)"/>
<rect x="203.0" y="174.0" width="59.5" height="29.5" fill="rgb(145,145,150)"/>
<rect x="-30.0" y="203.0" width="59.5" height="59.5" fill="rgb(155,155,160)"/>
<rect x="29.0" y="203.0" width="29.5" height="59.5" fill="rgb(153,153,158)"/>
<rect x="58.0" y="203.0" width="29.5" height="59.5" fill="rgb(155,155,160)"/>
<rect x="87.0" y="203.0" width="29.5" height="59.5" fill="rgb(158,158,163)"/>
<rect x="116.0" y="203.0" width="29.5" height="59.5" fill="rgb(160,160,165)"/>
<rect x="145.0" y="203.0" width="29.5" height="59.5" fill="rgb(158,158,163)"/>
<rect x="174.0" y="203.0" width="29.5" height="59.5" fill="rgb(155,155,160)"/>
<rect x="203.0" y="203.0" width="59.5" height="59.5" fill="rgb(145,145,150)"/>
</g>
<filter id="cl1" x="0" y="0" width="100%" height="100%"><feTurbulence type="fractalNoise" baseFrequency="0.022 0.045" numOctaves="3" seed="7"/><feColorMatrix type="matrix" values="0 0 0 0 0  0 0 0 0 0  0 0 0 0 0  -3 0 0 0 1.5"/></filter>
<filter id="cw1" x="0" y="0" width="100%" height="100%"><feTurbulence type="fractalNoise" baseFrequency="0.022 0.045" numOctaves="3" seed="7"/><feColorMatrix type="matrix" values="0 0 0 0 1  0 0 0 0 1  0 0 0 0 1  3 0 0 0 -1.5"/></filter>
<rect width="232" height="232" filter="url(#cl1)" opacity="0.32"/>
<rect width="232" height="232" filter="url(#cw1)" opacity="0.32"/>
<path d="M-7.0 38.0 C22.0 38.0 22.0 39.0 51.0 39.0 C81.0 39.0 81.0 40.0 111.0 40.0 C141.0 40.0 141.0 42.0 171.0 42.0 C205.0 42.0 205.0 43.0 239.0 43.0" stroke="url(#lgb0)" stroke-width="4.5" opacity="0.55" filter="url(#blur15)" fill="none"/>
<path d="M-7.0 38.0 C22.0 38.0 22.0 39.0 51.0 39.0 C81.0 39.0 81.0 40.0 111.0 40.0 C141.0 40.0 141.0 42.0 171.0 42.0 C205.0 42.0 205.0 43.0 239.0 43.0" stroke="#000" stroke-width="11" opacity="0.17" filter="url(#blur2)" fill="none"/>
<path d="M-7.0 78.0 C22.0 78.0 22.0 78.5 51.0 78.5 C73.5 78.5 73.5 81.0 96.0 81.0 C108.5 81.0 108.5 84.0 121.0 84.0 C152.5 84.0 152.5 84.0 184.0 84.0 C211.5 84.0 211.5 83.0 239.0 83.0" stroke="url(#lgb1)" stroke-width="4.5" opacity="0.55" filter="url(#blur15)" fill="none"/>
<path d="M-7.0 78.0 C22.0 78.0 22.0 78.5 51.0 78.5 C73.5 78.5 73.5 81.0 96.0 81.0 C108.5 81.0 108.5 84.0 121.0 84.0 C152.5 84.0 152.5 84.0 184.0 84.0 C211.5 84.0 211.5 83.0 239.0 83.0" stroke="#000" stroke-width="11" opacity="0.17" filter="url(#blur2)" fill="none"/>
<path d="M-7.0 117.0 C17.0 117.0 17.0 118.0 41.0 118.0 C57.5 118.0 57.5 120.0 74.0 120.0 C97.0 120.0 97.0 124.5 120.0 124.5 C152.0 124.5 152.0 123.0 184.0 123.0 C211.5 123.0 211.5 122.0 239.0 122.0" stroke="url(#lgb2)" stroke-width="4.5" opacity="0.55" filter="url(#blur15)" fill="none"/>
<path d="M-7.0 117.0 C17.0 117.0 17.0 118.0 41.0 118.0 C57.5 118.0 57.5 120.0 74.0 120.0 C97.0 120.0 97.0 124.5 120.0 124.5 C152.0 124.5 152.0 123.0 184.0 123.0 C211.5 123.0 211.5 122.0 239.0 122.0" stroke="#000" stroke-width="11" opacity="0.17" filter="url(#blur2)" fill="none"/>
<path d="M-7.0 161.0 C27.0 161.0 27.0 163.0 61.0 163.0 C96.0 163.0 96.0 164.0 131.0 164.0 C161.0 164.0 161.0 165.0 191.0 165.0 C215.0 165.0 215.0 165.0 239.0 165.0" stroke="url(#lgb3)" stroke-width="4.5" opacity="0.55" filter="url(#blur15)" fill="none"/>
<path d="M-7.0 161.0 C27.0 161.0 27.0 163.0 61.0 163.0 C96.0 163.0 96.0 164.0 131.0 164.0 C161.0 164.0 161.0 165.0 191.0 165.0 C215.0 165.0 215.0 165.0 239.0 165.0" stroke="#000" stroke-width="11" opacity="0.17" filter="url(#blur2)" fill="none"/>
<path d="M-7.0 200.0 C27.0 200.0 27.0 201.0 61.0 201.0 C96.0 201.0 96.0 202.0 131.0 202.0 C161.0 202.0 161.0 202.0 191.0 202.0 C215.0 202.0 215.0 202.0 239.0 202.0" stroke="url(#lgb4)" stroke-width="4.5" opacity="0.55" filter="url(#blur15)" fill="none"/>
<path d="M-7.0 200.0 C27.0 200.0 27.0 201.0 61.0 201.0 C96.0 201.0 96.0 202.0 131.0 202.0 C161.0 202.0 161.0 202.0 191.0 202.0 C215.0 202.0 215.0 202.0 239.0 202.0" stroke="#000" stroke-width="11" opacity="0.17" filter="url(#blur2)" fill="none"/>
<rect width="232" height="232" filter="url(#gnoise)" opacity="0.16"/>
<rect width="232" height="232" filter="url(#gnoise2)" opacity="0.128"/>
</svg>
<svg x="509" y="3" width="233" height="232" viewBox="0 0 233 232" overflow="hidden">
<g filter="url(#gb2)">
<rect x="-30" y="-30" width="293" height="292" fill="rgb(149,149,149)"/>
<rect x="-30.0" y="-30.0" width="59.6" height="59.5" fill="rgb(148,148,153)"/>
<rect x="29.1" y="-30.0" width="29.6" height="59.5" fill="rgb(160,160,165)"/>
<rect x="58.2" y="-30.0" width="29.6" height="59.5" fill="rgb(150,150,155)"/>
<rect x="87.4" y="-30.0" width="29.6" height="59.5" fill="rgb(140,140,145)"/>
<rect x="116.5" y="-30.0" width="29.6" height="59.5" fill="rgb(148,148,153)"/>
<rect x="145.6" y="-30.0" width="29.6" height="59.5" fill="rgb(165,165,170)"/>
<rect x="174.8" y="-30.0" width="29.6" height="59.5" fill="rgb(190,190,195)"/>
<rect x="203.9" y="-30.0" width="59.6" height="59.5" fill="rgb(172,172,177)"/>
<rect x="-30.0" y="29.0" width="59.6" height="29.5" fill="rgb(148,148,153)"/>
<rect x="29.1" y="29.0" width="29.6" height="29.5" fill="rgb(165,165,170)"/>
<rect x="58.2" y="29.0" width="29.6" height="29.5" fill="rgb(145,145,150)"/>
<rect x="87.4" y="29.0" width="29.6" height="29.5" fill="rgb(138,138,143)"/>
<rect x="116.5" y="29.0" width="29.6" height="29.5" fill="rgb(142,142,147)"/>
<rect x="145.6" y="29.0" width="29.6" height="29.5" fill="rgb(155,155,160)"/>
<rect x="174.8" y="29.0" width="29.6" height="29.5" fill="rgb(180,180,185)"/>
<rect x="203.9" y="29.0" width="59.6" height="29.5" fill="rgb(165,165,170)"/>
<rect x="-30.0" y="58.0" width="59.6" height="29.5" fill="rgb(145,145,150)"/>
<rect x="29.1" y="58.0" width="29.6" height="29.5" fill="rgb(170,170,175)"/>
<rect x="58.2" y="58.0" width="29.6" height="29.5" fill="rgb(150,150,155)"/>
<rect x="87.4" y="58.0" width="29.6" height="29.5" fill="rgb(138,138,143)"/>
<rect x="116.5" y="58.0" width="29.6" height="29.5" fill="rgb(140,140,145)"/>
<rect x="145.6" y="58.0" width="29.6" height="29.5" fill="rgb(145,145,150)"/>
<rect x="174.8" y="58.0" width="29.6" height="29.5" fill="rgb(155,155,160)"/>
<rect x="203.9" y="58.0" width="59.6" height="29.5" fill="rgb(155,155,160)"/>
<rect x="-30.0" y="87.0" width="59.6" height="29.5" fill="rgb(145,145,150)"/>
<rect x="29.1" y="87.0" width="29.6" height="29.5" fill="rgb(172,172,177)"/>
<rect x="58.2" y="87.0" width="29.6" height="29.5" fill="rgb(150,150,155)"/>
<rect x="87.4" y="87.0" width="29.6" height="29.5" fill="rgb(138,138,143)"/>
<rect x="116.5" y="87.0" width="29.6" height="29.5" fill="rgb(138,138,143)"/>
<rect x="145.6" y="87.0" width="29.6" height="29.5" fill="rgb(145,145,150)"/>
<rect x="174.8" y="87.0" width="29.6" height="29.5" fill="rgb(150,150,155)"/>
<rect x="203.9" y="87.0" width="59.6" height="29.5" fill="rgb(150,150,155)"/>
<rect x="-30.0" y="116.0" width="59.6" height="29.5" fill="rgb(140,140,145)"/>
<rect x="29.1" y="116.0" width="29.6" height="29.5" fill="rgb(168,168,173)"/>
<rect x="58.2" y="116.0" width="29.6" height="29.5" fill="rgb(148,148,153)"/>
<rect x="87.4" y="116.0" width="29.6" height="29.5" fill="rgb(136,136,141)"/>
<rect x="116.5" y="116.0" width="29.6" height="29.5" fill="rgb(138,138,143)"/>
<rect x="145.6" y="116.0" width="29.6" height="29.5" fill="rgb(145,145,150)"/>
<rect x="174.8" y="116.0" width="29.6" height="29.5" fill="rgb(148,148,153)"/>
<rect x="203.9" y="116.0" width="59.6" height="29.5" fill="rgb(148,148,153)"/>
<rect x="-30.0" y="145.0" width="59.6" height="29.5" fill="rgb(140,140,145)"/>
<rect x="29.1" y="145.0" width="29.6" height="29.5" fill="rgb(155,155,160)"/>
<rect x="58.2" y="145.0" width="29.6" height="29.5" fill="rgb(145,145,150)"/>
<rect x="87.4" y="145.0" width="29.6" height="29.5" fill="rgb(138,138,143)"/>
<rect x="116.5" y="145.0" width="29.6" height="29.5" fill="rgb(138,138,143)"/>
<rect x="145.6" y="145.0" width="29.6" height="29.5" fill="rgb(146,146,151)"/>
<rect x="174.8" y="145.0" width="29.6" height="29.5" fill="rgb(148,148,153)"/>
<rect x="203.9" y="145.0" width="59.6" height="29.5" fill="rgb(146,146,151)"/>
<rect x="-30.0" y="174.0" width="59.6" height="29.5" fill="rgb(142,142,147)"/>
<rect x="29.1" y="174.0" width="29.6" height="29.5" fill="rgb(145,145,150)"/>
<rect x="58.2" y="174.0" width="29.6" height="29.5" fill="rgb(142,142,147)"/>
<rect x="87.4" y="174.0" width="29.6" height="29.5" fill="rgb(138,138,143)"/>
<rect x="116.5" y="174.0" width="29.6" height="29.5" fill="rgb(140,140,145)"/>
<rect x="145.6" y="174.0" width="29.6" height="29.5" fill="rgb(146,146,151)"/>
<rect x="174.8" y="174.0" width="29.6" height="29.5" fill="rgb(150,150,155)"/>
<rect x="203.9" y="174.0" width="59.6" height="29.5" fill="rgb(148,148,153)"/>
<rect x="-30.0" y="203.0" width="59.6" height="59.5" fill="rgb(146,146,151)"/>
<rect x="29.1" y="203.0" width="29.6" height="59.5" fill="rgb(146,146,151)"/>
<rect x="58.2" y="203.0" width="29.6" height="59.5" fill="rgb(144,144,149)"/>
<rect x="87.4" y="203.0" width="29.6" height="59.5" fill="rgb(142,142,147)"/>
<rect x="116.5" y="203.0" width="29.6" height="59.5" fill="rgb(142,142,147)"/>
<rect x="145.6" y="203.0" width="29.6" height="59.5" fill="rgb(146,146,151)"/>
<rect x="174.8" y="203.0" width="29.6" height="59.5" fill="rgb(148,148,153)"/>
<rect x="203.9" y="203.0" width="59.6" height="59.5" fill="rgb(148,148,153)"/>
<ellipse cx="42" cy="98" rx="21" ry="44" fill="#dadada" opacity="0.85"/>
<ellipse cx="45" cy="30" rx="12" ry="25" fill="#c8c8c8" opacity="0.5"/>
<ellipse cx="20" cy="150" rx="14" ry="14" fill="#c0c0c0" opacity="0.5"/>
<ellipse cx="188" cy="22" rx="25" ry="16" fill="#d0d0d0" opacity="0.6"/>
</g>
<filter id="cl2" x="0" y="0" width="100%" height="100%"><feTurbulence type="fractalNoise" baseFrequency="0.03 0.08" numOctaves="3" seed="11"/><feColorMatrix type="matrix" values="0 0 0 0 0  0 0 0 0 0  0 0 0 0 0  -3 0 0 0 1.5"/></filter>
<filter id="cw2" x="0" y="0" width="100%" height="100%"><feTurbulence type="fractalNoise" baseFrequency="0.03 0.08" numOctaves="3" seed="11"/><feColorMatrix type="matrix" values="0 0 0 0 1  0 0 0 0 1  0 0 0 0 1  3 0 0 0 -1.5"/></filter>
<rect width="233" height="232" filter="url(#cl2)" opacity="0.2"/>
<rect width="233" height="232" filter="url(#cw2)" opacity="0.2"/>
<path d="M-5.0 -19.1 C17.5 -19.1 17.5 -18.5 40.0 -18.5 C60.0 -18.5 60.0 -19.6 80.0 -19.6 C100.0 -19.6 100.0 -22.1 120.0 -22.1 C140.0 -22.1 140.0 -24.8 160.0 -24.8 C180.0 -24.8 180.0 -28.0 200.0 -28.0 C220.0 -28.0 220.0 -32.8 240.0 -32.8" stroke="#000" stroke-width="3.8" opacity="0.6" filter="url(#blur1)" fill="none"/>
<path d="M-5.0 -19.1 C17.5 -19.1 17.5 -18.5 40.0 -18.5 C60.0 -18.5 60.0 -19.6 80.0 -19.6 C100.0 -19.6 100.0 -22.1 120.0 -22.1 C140.0 -22.1 140.0 -24.8 160.0 -24.8 C180.0 -24.8 180.0 -28.0 200.0 -28.0 C220.0 -28.0 220.0 -32.8 240.0 -32.8" stroke="#000" stroke-width="9" opacity="0.16" filter="url(#blur2)" fill="none"/>
<path d="M-5.0 -7.5 C27.5 -7.5 27.5 -8.0 60.0 -8.0 C90.0 -8.0 90.0 -10.1 120.0 -10.1 C150.0 -10.1 150.0 -14.6 180.0 -14.6 C210.0 -14.6 210.0 -22.0 240.0 -22.0" stroke="#000" stroke-width="2.4" opacity="0.16" filter="url(#blur1)" fill="none"/>
<path d="M-5.0 4.9 C17.5 4.9 17.5 4.7 40.0 4.7 C60.0 4.7 60.0 3.1 80.0 3.1 C100.0 3.1 100.0 1.2 120.0 1.2 C140.0 1.2 140.0 -0.8 160.0 -0.8 C180.0 -0.8 180.0 -4.1 200.0 -4.1 C220.0 -4.1 220.0 -9.8 240.0 -9.8" stroke="#000" stroke-width="3.8" opacity="0.6" filter="url(#blur1)" fill="none"/>
<path d="M-5.0 4.9 C17.5 4.9 17.5 4.7 40.0 4.7 C60.0 4.7 60.0 3.1 80.0 3.1 C100.0 3.1 100.0 1.2 120.0 1.2 C140.0 1.2 140.0 -0.8 160.0 -0.8 C180.0 -0.8 180.0 -4.1 200.0 -4.1 C220.0 -4.1 220.0 -9.8 240.0 -9.8" stroke="#000" stroke-width="9" opacity="0.16" filter="url(#blur2)" fill="none"/>
<path d="M-5.0 15.9 C27.5 15.9 27.5 15.4 60.0 15.4 C90.0 15.4 90.0 13.3 120.0 13.3 C150.0 13.3 150.0 8.8 180.0 8.8 C210.0 8.8 210.0 1.4 240.0 1.4" stroke="#000" stroke-width="2.4" opacity="0.16" filter="url(#blur1)" fill="none"/>
<path d="M-5.0 29.2 C17.5 29.2 17.5 28.2 40.0 28.2 C60.0 28.2 60.0 26.9 80.0 26.9 C100.0 26.9 100.0 25.7 120.0 25.7 C140.0 25.7 140.0 23.8 160.0 23.8 C180.0 23.8 180.0 19.8 200.0 19.8 C220.0 19.8 220.0 13.6 240.0 13.6" stroke="#000" stroke-width="3.8" opacity="0.6" filter="url(#blur1)" fill="none"/>
<path d="M-5.0 29.2 C17.5 29.2 17.5 28.2 40.0 28.2 C60.0 28.2 60.0 26.9 80.0 26.9 C100.0 26.9 100.0 25.7 120.0 25.7 C140.0 25.7 140.0 23.8 160.0 23.8 C180.0 23.8 180.0 19.8 200.0 19.8 C220.0 19.8 220.0 13.6 240.0 13.6" stroke="#000" stroke-width="9" opacity="0.16" filter="url(#blur2)" fill="none"/>
<path d="M-5.0 40.0 C27.5 40.0 27.5 39.5 60.0 39.5 C90.0 39.5 90.0 37.4 120.0 37.4 C150.0 37.4 150.0 32.9 180.0 32.9 C210.0 32.9 210.0 25.5 240.0 25.5" stroke="#000" stroke-width="2.4" opacity="0.16" filter="url(#blur1)" fill="none"/>
<path d="M-5.0 50.7 C17.5 50.7 17.5 49.7 40.0 49.7 C60.0 49.7 60.0 49.2 80.0 49.2 C100.0 49.2 100.0 48.4 120.0 48.4 C140.0 48.4 140.0 45.8 160.0 45.8 C180.0 45.8 180.0 41.1 200.0 41.1 C220.0 41.1 220.0 35.3 240.0 35.3" stroke="#000" stroke-width="3.8" opacity="0.6" filter="url(#blur1)" fill="none"/>
<path d="M-5.0 50.7 C17.5 50.7 17.5 49.7 40.0 49.7 C60.0 49.7 60.0 49.2 80.0 49.2 C100.0 49.2 100.0 48.4 120.0 48.4 C140.0 48.4 140.0 45.8 160.0 45.8 C180.0 45.8 180.0 41.1 200.0 41.1 C220.0 41.1 220.0 35.3 240.0 35.3" stroke="#000" stroke-width="9" opacity="0.16" filter="url(#blur2)" fill="none"/>
<path d="M-5.0 62.0 C27.5 62.0 27.5 61.5 60.0 61.5 C90.0 61.5 90.0 59.4 120.0 59.4 C150.0 59.4 150.0 54.9 180.0 54.9 C210.0 54.9 210.0 47.5 240.0 47.5" stroke="#000" stroke-width="2.4" opacity="0.16" filter="url(#blur1)" fill="none"/>
<path d="M-5.0 74.6 C17.5 74.6 17.5 74.3 40.0 74.3 C60.0 74.3 60.0 74.3 80.0 74.3 C100.0 74.3 100.0 73.1 120.0 73.1 C140.0 73.1 140.0 69.8 160.0 69.8 C180.0 69.8 180.0 65.1 200.0 65.1 C220.0 65.1 220.0 60.1 240.0 60.1" stroke="#000" stroke-width="3.8" opacity="0.6" filter="url(#blur1)" fill="none"/>
<path d="M-5.0 74.6 C17.5 74.6 17.5 74.3 40.0 74.3 C60.0 74.3 60.0 74.3 80.0 74.3 C100.0 74.3 100.0 73.1 120.0 73.1 C140.0 73.1 140.0 69.8 160.0 69.8 C180.0 69.8 180.0 65.1 200.0 65.1 C220.0 65.1 220.0 60.1 240.0 60.1" stroke="#000" stroke-width="9" opacity="0.16" filter="url(#blur2)" fill="none"/>
<path d="M-5.0 86.5 C27.5 86.5 27.5 86.0 60.0 86.0 C90.0 86.0 90.0 83.9 120.0 83.9 C150.0 83.9 150.0 79.4 180.0 79.4 C210.0 79.4 210.0 72.0 240.0 72.0" stroke="#000" stroke-width="2.4" opacity="0.16" filter="url(#blur1)" fill="none"/>
<path d="M-5.0 96.8 C17.5 96.8 17.5 97.4 40.0 97.4 C60.0 97.4 60.0 97.3 80.0 97.3 C100.0 97.3 100.0 95.2 120.0 95.2 C140.0 95.2 140.0 91.7 160.0 91.7 C180.0 91.7 180.0 87.7 200.0 87.7 C220.0 87.7 220.0 83.3 240.0 83.3" stroke="#000" stroke-width="3.8" opacity="0.6" filter="url(#blur1)" fill="none"/>
<path d="M-5.0 96.8 C17.5 96.8 17.5 97.4 40.0 97.4 C60.0 97.4 60.0 97.3 80.0 97.3 C100.0 97.3 100.0 95.2 120.0 95.2 C140.0 95.2 140.0 91.7 160.0 91.7 C180.0 91.7 180.0 87.7 200.0 87.7 C220.0 87.7 220.0 83.3 240.0 83.3" stroke="#000" stroke-width="9" opacity="0.16" filter="url(#blur2)" fill="none"/>
<path d="M-5.0 109.0 C27.5 109.0 27.5 108.5 60.0 108.5 C90.0 108.5 90.0 106.4 120.0 106.4 C150.0 106.4 150.0 101.9 180.0 101.9 C210.0 101.9 210.0 94.5 240.0 94.5" stroke="#000" stroke-width="2.4" opacity="0.16" filter="url(#blur1)" fill="none"/>
<path d="M-5.0 122.2 C17.5 122.2 17.5 122.9 40.0 122.9 C60.0 122.9 60.0 122.0 80.0 122.0 C100.0 122.0 100.0 119.5 120.0 119.5 C140.0 119.5 140.0 116.6 160.0 116.6 C180.0 116.6 180.0 113.4 200.0 113.4 C220.0 113.4 220.0 108.7 240.0 108.7" stroke="#000" stroke-width="3.8" opacity="0.6" filter="url(#blur1)" fill="none"/>
<path d="M-5.0 122.2 C17.5 122.2 17.5 122.9 40.0 122.9 C60.0 122.9 60.0 122.0 80.0 122.0 C100.0 122.0 100.0 119.5 120.0 119.5 C140.0 119.5 140.0 116.6 160.0 116.6 C180.0 116.6 180.0 113.4 200.0 113.4 C220.0 113.4 220.0 108.7 240.0 108.7" stroke="#000" stroke-width="9" opacity="0.16" filter="url(#blur2)" fill="none"/>
<path d="M-5.0 134.0 C27.5 134.0 27.5 133.5 60.0 133.5 C90.0 133.5 90.0 131.4 120.0 131.4 C150.0 131.4 150.0 126.9 180.0 126.9 C210.0 126.9 210.0 119.5 240.0 119.5" stroke="#000" stroke-width="2.4" opacity="0.16" filter="url(#blur1)" fill="none"/>
<path d="M-5.0 144.9 C17.5 144.9 17.5 145.0 40.0 145.0 C60.0 145.0 60.0 143.4 80.0 143.4 C100.0 143.4 100.0 141.2 120.0 141.2 C140.0 141.2 140.0 139.1 160.0 139.1 C180.0 139.1 180.0 135.9 200.0 135.9 C220.0 135.9 220.0 130.4 240.0 130.4" stroke="#000" stroke-width="3.8" opacity="0.6" filter="url(#blur1)" fill="none"/>
<path d="M-5.0 144.9 C17.5 144.9 17.5 145.0 40.0 145.0 C60.0 145.0 60.0 143.4 80.0 143.4 C100.0 143.4 100.0 141.2 120.0 141.2 C140.0 141.2 140.0 139.1 160.0 139.1 C180.0 139.1 180.0 135.9 200.0 135.9 C220.0 135.9 220.0 130.4 240.0 130.4" stroke="#000" stroke-width="9" opacity="0.16" filter="url(#blur2)" fill="none"/>
<path d="M-5.0 156.0 C27.5 156.0 27.5 155.5 60.0 155.5 C90.0 155.5 90.0 153.4 120.0 153.4 C150.0 153.4 150.0 148.9 180.0 148.9 C210.0 148.9 210.0 141.5 240.0 141.5" stroke="#000" stroke-width="2.4" opacity="0.16" filter="url(#blur1)" fill="none"/>
<path d="M-5.0 170.2 C17.5 170.2 17.5 169.4 40.0 169.4 C60.0 169.4 60.0 167.9 80.0 167.9 C100.0 167.9 100.0 166.6 120.0 166.6 C140.0 166.6 140.0 164.7 160.0 164.7 C180.0 164.7 180.0 160.9 200.0 160.9 C220.0 160.9 220.0 154.8 240.0 154.8" stroke="#000" stroke-width="3.8" opacity="0.6" filter="url(#blur1)" fill="none"/>
<path d="M-5.0 170.2 C17.5 170.2 17.5 169.4 40.0 169.4 C60.0 169.4 60.0 167.9 80.0 167.9 C100.0 167.9 100.0 166.6 120.0 166.6 C140.0 166.6 140.0 164.7 160.0 164.7 C180.0 164.7 180.0 160.9 200.0 160.9 C220.0 160.9 220.0 154.8 240.0 154.8" stroke="#000" stroke-width="9" opacity="0.16" filter="url(#blur2)" fill="none"/>
<path d="M-5.0 181.0 C27.5 181.0 27.5 180.5 60.0 180.5 C90.0 180.5 90.0 178.4 120.0 178.4 C150.0 178.4 150.0 173.9 180.0 173.9 C210.0 173.9 210.0 166.5 240.0 166.5" stroke="#000" stroke-width="2.4" opacity="0.16" filter="url(#blur1)" fill="none"/>
<path d="M-5.0 192.9 C17.5 192.9 17.5 191.8 40.0 191.8 C60.0 191.8 60.0 191.0 80.0 191.0 C100.0 191.0 100.0 190.2 120.0 190.2 C140.0 190.2 140.0 187.9 160.0 187.9 C180.0 187.9 180.0 183.3 200.0 183.3 C220.0 183.3 220.0 177.3 240.0 177.3" stroke="#000" stroke-width="3.8" opacity="0.6" filter="url(#blur1)" fill="none"/>
<path d="M-5.0 192.9 C17.5 192.9 17.5 191.8 40.0 191.8 C60.0 191.8 60.0 191.0 80.0 191.0 C100.0 191.0 100.0 190.2 120.0 190.2 C140.0 190.2 140.0 187.9 160.0 187.9 C180.0 187.9 180.0 183.3 200.0 183.3 C220.0 183.3 220.0 177.3 240.0 177.3" stroke="#000" stroke-width="9" opacity="0.16" filter="url(#blur2)" fill="none"/>
<path d="M-5.0 204.0 C27.5 204.0 27.5 203.5 60.0 203.5 C90.0 203.5 90.0 201.4 120.0 201.4 C150.0 201.4 150.0 196.9 180.0 196.9 C210.0 196.9 210.0 189.5 240.0 189.5" stroke="#000" stroke-width="2.4" opacity="0.16" filter="url(#blur1)" fill="none"/>
<path d="M-5.0 216.2 C17.5 216.2 17.5 215.7 40.0 215.7 C60.0 215.7 60.0 215.6 80.0 215.6 C100.0 215.6 100.0 214.6 120.0 214.6 C140.0 214.6 140.0 211.5 160.0 211.5 C180.0 211.5 180.0 206.7 200.0 206.7 C220.0 206.7 220.0 201.4 240.0 201.4" stroke="#000" stroke-width="3.8" opacity="0.6" filter="url(#blur1)" fill="none"/>
<path d="M-5.0 216.2 C17.5 216.2 17.5 215.7 40.0 215.7 C60.0 215.7 60.0 215.6 80.0 215.6 C100.0 215.6 100.0 214.6 120.0 214.6 C140.0 214.6 140.0 211.5 160.0 211.5 C180.0 211.5 180.0 206.7 200.0 206.7 C220.0 206.7 220.0 201.4 240.0 201.4" stroke="#000" stroke-width="9" opacity="0.16" filter="url(#blur2)" fill="none"/>
<path d="M-5.0 228.0 C27.5 228.0 27.5 227.5 60.0 227.5 C90.0 227.5 90.0 225.4 120.0 225.4 C150.0 225.4 150.0 220.9 180.0 220.9 C210.0 220.9 210.0 213.5 240.0 213.5" stroke="#000" stroke-width="2.4" opacity="0.16" filter="url(#blur1)" fill="none"/>
<path d="M-5.0 239.3 C17.5 239.3 17.5 239.7 40.0 239.7 C60.0 239.7 60.0 239.7 80.0 239.7 C100.0 239.7 100.0 237.9 120.0 237.9 C140.0 237.9 140.0 234.3 160.0 234.3 C180.0 234.3 180.0 230.1 200.0 230.1 C220.0 230.1 220.0 225.6 240.0 225.6" stroke="#000" stroke-width="3.8" opacity="0.6" filter="url(#blur1)" fill="none"/>
<path d="M-5.0 239.3 C17.5 239.3 17.5 239.7 40.0 239.7 C60.0 239.7 60.0 239.7 80.0 239.7 C100.0 239.7 100.0 237.9 120.0 237.9 C140.0 237.9 140.0 234.3 160.0 234.3 C180.0 234.3 180.0 230.1 200.0 230.1 C220.0 230.1 220.0 225.6 240.0 225.6" stroke="#000" stroke-width="9" opacity="0.16" filter="url(#blur2)" fill="none"/>
<path d="M-5.0 251.5 C27.5 251.5 27.5 251.0 60.0 251.0 C90.0 251.0 90.0 248.9 120.0 248.9 C150.0 248.9 150.0 244.4 180.0 244.4 C210.0 244.4 210.0 237.0 240.0 237.0" stroke="#000" stroke-width="2.4" opacity="0.16" filter="url(#blur1)" fill="none"/>
<rect width="233" height="232" filter="url(#gnoise)" opacity="0.16"/>
<rect width="233" height="232" filter="url(#gnoise2)" opacity="0.128"/>
</svg>
<svg x="750" y="3" width="232" height="232" viewBox="0 0 232 232" overflow="hidden">
<g filter="url(#gb3)">
<rect x="-30" y="-30" width="292" height="292" fill="rgb(218,218,218)"/>
<rect x="-30.0" y="-30.0" width="59.5" height="59.5" fill="rgb(222,222,225)"/>
<rect x="29.0" y="-30.0" width="29.5" height="59.5" fill="rgb(222,222,225)"/>
<rect x="58.0" y="-30.0" width="29.5" height="59.5" fill="rgb(215,215,218)"/>
<rect x="87.0" y="-30.0" width="29.5" height="59.5" fill="rgb(212,212,215)"/>
<rect x="116.0" y="-30.0" width="29.5" height="59.5" fill="rgb(220,220,223)"/>
<rect x="145.0" y="-30.0" width="29.5" height="59.5" fill="rgb(215,215,218)"/>
<rect x="174.0" y="-30.0" width="29.5" height="59.5" fill="rgb(208,208,211)"/>
<rect x="203.0" y="-30.0" width="59.5" height="59.5" fill="rgb(205,205,208)"/>
<rect x="-30.0" y="29.0" width="59.5" height="29.5" fill="rgb(252,252,255)"/>
<rect x="29.0" y="29.0" width="29.5" height="29.5" fill="rgb(245,245,248)"/>
<rect x="58.0" y="29.0" width="29.5" height="29.5" fill="rgb(222,222,225)"/>
<rect x="87.0" y="29.0" width="29.5" height="29.5" fill="rgb(215,215,218)"/>
<rect x="116.0" y="29.0" width="29.5" height="29.5" fill="rgb(225,225,228)"/>
<rect x="145.0" y="29.0" width="29.5" height="29.5" fill="rgb(218,218,221)"/>
<rect x="174.0" y="29.0" width="29.5" height="29.5" fill="rgb(210,210,213)"/>
<rect x="203.0" y="29.0" width="59.5" height="29.5" fill="rgb(205,205,208)"/>
<rect x="-30.0" y="58.0" width="59.5" height="29.5" fill="rgb(235,235,238)"/>
<rect x="29.0" y="58.0" width="29.5" height="29.5" fill="rgb(228,228,231)"/>
<rect x="58.0" y="58.0" width="29.5" height="29.5" fill="rgb(212,212,215)"/>
<rect x="87.0" y="58.0" width="29.5" height="29.5" fill="rgb(215,215,218)"/>
<rect x="116.0" y="58.0" width="29.5" height="29.5" fill="rgb(225,225,228)"/>
<rect x="145.0" y="58.0" width="29.5" height="29.5" fill="rgb(215,215,218)"/>
<rect x="174.0" y="58.0" width="29.5" height="29.5" fill="rgb(210,210,213)"/>
<rect x="203.0" y="58.0" width="59.5" height="29.5" fill="rgb(205,205,208)"/>
<rect x="-30.0" y="87.0" width="59.5" height="29.5" fill="rgb(248,248,251)"/>
<rect x="29.0" y="87.0" width="29.5" height="29.5" fill="rgb(240,240,243)"/>
<rect x="58.0" y="87.0" width="29.5" height="29.5" fill="rgb(218,218,221)"/>
<rect x="87.0" y="87.0" width="29.5" height="29.5" fill="rgb(210,210,213)"/>
<rect x="116.0" y="87.0" width="29.5" height="29.5" fill="rgb(215,215,218)"/>
<rect x="145.0" y="87.0" width="29.5" height="29.5" fill="rgb(212,212,215)"/>
<rect x="174.0" y="87.0" width="29.5" height="29.5" fill="rgb(210,210,213)"/>
<rect x="203.0" y="87.0" width="59.5" height="29.5" fill="rgb(205,205,208)"/>
<rect x="-30.0" y="116.0" width="59.5" height="29.5" fill="rgb(238,238,241)"/>
<rect x="29.0" y="116.0" width="29.5" height="29.5" fill="rgb(232,232,235)"/>
<rect x="58.0" y="116.0" width="29.5" height="29.5" fill="rgb(218,218,221)"/>
<rect x="87.0" y="116.0" width="29.5" height="29.5" fill="rgb(215,215,218)"/>
<rect x="116.0" y="116.0" width="29.5" height="29.5" fill="rgb(215,215,218)"/>
<rect x="145.0" y="116.0" width="29.5" height="29.5" fill="rgb(215,215,218)"/>
<rect x="174.0" y="116.0" width="29.5" height="29.5" fill="rgb(210,210,213)"/>
<rect x="203.0" y="116.0" width="59.5" height="29.5" fill="rgb(205,205,208)"/>
<rect x="-30.0" y="145.0" width="59.5" height="29.5" fill="rgb(232,232,235)"/>
<rect x="29.0" y="145.0" width="29.5" height="29.5" fill="rgb(230,230,233)"/>
<rect x="58.0" y="145.0" width="29.5" height="29.5" fill="rgb(218,218,221)"/>
<rect x="87.0" y="145.0" width="29.5" height="29.5" fill="rgb(215,215,218)"/>
<rect x="116.0" y="145.0" width="29.5" height="29.5" fill="rgb(220,220,223)"/>
<rect x="145.0" y="145.0" width="29.5" height="29.5" fill="rgb(215,215,218)"/>
<rect x="174.0" y="145.0" width="29.5" height="29.5" fill="rgb(210,210,213)"/>
<rect x="203.0" y="145.0" width="59.5" height="29.5" fill="rgb(205,205,208)"/>
<rect x="-30.0" y="174.0" width="59.5" height="29.5" fill="rgb(225,225,228)"/>
<rect x="29.0" y="174.0" width="29.5" height="29.5" fill="rgb(222,222,225)"/>
<rect x="58.0" y="174.0" width="29.5" height="29.5" fill="rgb(218,218,221)"/>
<rect x="87.0" y="174.0" width="29.5" height="29.5" fill="rgb(222,222,225)"/>
<rect x="116.0" y="174.0" width="29.5" height="29.5" fill="rgb(226,226,229)"/>
<rect x="145.0" y="174.0" width="29.5" height="29.5" fill="rgb(230,230,233)"/>
<rect x="174.0" y="174.0" width="29.5" height="29.5" fill="rgb(215,215,218)"/>
<rect x="203.0" y="174.0" width="59.5" height="29.5" fill="rgb(205,205,208)"/>
<rect x="-30.0" y="203.0" width="59.5" height="59.5" fill="rgb(222,222,225)"/>
<rect x="29.0" y="203.0" width="29.5" height="59.5" fill="rgb(222,222,225)"/>
<rect x="58.0" y="203.0" width="29.5" height="59.5" fill="rgb(218,218,221)"/>
<rect x="87.0" y="203.0" width="29.5" height="59.5" fill="rgb(218,218,221)"/>
<rect x="116.0" y="203.0" width="29.5" height="59.5" fill="rgb(218,218,221)"/>
<rect x="145.0" y="203.0" width="29.5" height="59.5" fill="rgb(215,215,218)"/>
<rect x="174.0" y="203.0" width="29.5" height="59.5" fill="rgb(210,210,213)"/>
<rect x="203.0" y="203.0" width="59.5" height="59.5" fill="rgb(205,205,208)"/>
</g>
<filter id="cl3" x="0" y="0" width="100%" height="100%"><feTurbulence type="fractalNoise" baseFrequency="0.03 0.07" numOctaves="3" seed="13"/><feColorMatrix type="matrix" values="0 0 0 0 0  0 0 0 0 0  0 0 0 0 0  -3 0 0 0 1.5"/></filter>
<filter id="cw3" x="0" y="0" width="100%" height="100%"><feTurbulence type="fractalNoise" baseFrequency="0.03 0.07" numOctaves="3" seed="13"/><feColorMatrix type="matrix" values="0 0 0 0 1  0 0 0 0 1  0 0 0 0 1  3 0 0 0 -1.5"/></filter>
<rect width="232" height="232" filter="url(#cl3)" opacity="0.18"/>
<rect width="232" height="232" filter="url(#cw3)" opacity="0.18"/>
<rect x="-30" y="-30" width="292" height="292" fill="url(#sd)"/>
<rect width="232" height="232" filter="url(#gnoise)" opacity="0.16"/>
<rect width="232" height="232" filter="url(#gnoise2)" opacity="0.128"/>
</svg>
<rect x="28" y="3" width="42" height="33" fill="#fff"/>
<text x="49.0" y="27.8" text-anchor="middle" font-family="'Liberation Serif', serif" font-weight="bold" font-size="22">(a)</text>
<rect x="31" y="215.5" width="55" height="18.5" fill="#fff"/>
<text x="58.8" y="225.6" text-anchor="middle" font-family="'Liberation Serif', serif" font-weight="bold" font-size="10.4" letter-spacing="0.55">10 nm</text>
<rect x="42" y="229.7" width="33" height="1.6" fill="#000"/>
<line x1="252.9" y1="10" x2="252.9" y2="226" stroke="#ffff00" stroke-width="2.5" stroke-linecap="round"/>
<path d="M249.0 223.2 L252.9 232.3 L256.8 223.2 Z" fill="#ffff00"/>
<text transform="translate(246.5 111.4) rotate(-90)" text-anchor="middle" font-family="'Liberation Serif', serif" font-weight="bold" font-size="16.3" fill="#ffff00" stroke="#ffff00" stroke-width="0.3">Line scanning</text>
<rect x="269" y="3" width="41" height="33" fill="#fff"/>
<text x="289.5" y="27.8" text-anchor="middle" font-family="'Liberation Serif', serif" font-weight="bold" font-size="22">(b)</text>
<rect x="272" y="215.5" width="55" height="18.5" fill="#fff"/>
<text x="299.8" y="225.6" text-anchor="middle" font-family="'Liberation Serif', serif" font-weight="bold" font-size="10.4" letter-spacing="0.55">10 nm</text>
<rect x="283" y="229.7" width="33" height="1.6" fill="#000"/>
<line x1="494.0" y1="10" x2="494.0" y2="226" stroke="#ffff00" stroke-width="2.5" stroke-linecap="round"/>
<path d="M490.1 223.2 L494.0 232.3 L497.9 223.2 Z" fill="#ffff00"/>
<text transform="translate(487.6 111.4) rotate(-90)" text-anchor="middle" font-family="'Liberation Serif', serif" font-weight="bold" font-size="16.3" fill="#ffff00" stroke="#ffff00" stroke-width="0.3">Line scanning</text>
<rect x="509" y="3" width="42" height="33" fill="#fff"/>
<text x="530.0" y="27.8" text-anchor="middle" font-family="'Liberation Serif', serif" font-weight="bold" font-size="22">(c)</text>
<rect x="512" y="215.5" width="55" height="18.5" fill="#fff"/>
<text x="539.8" y="225.6" text-anchor="middle" font-family="'Liberation Serif', serif" font-weight="bold" font-size="10.4" letter-spacing="0.55">10 nm</text>
<rect x="523" y="229.7" width="33" height="1.6" fill="#000"/>
<line x1="733.8" y1="10" x2="733.8" y2="226" stroke="#ffff00" stroke-width="2.5" stroke-linecap="round"/>
<path d="M729.9 223.2 L733.8 232.3 L737.6999999999999 223.2 Z" fill="#ffff00"/>
<text transform="translate(727.4 111.4) rotate(-90)" text-anchor="middle" font-family="'Liberation Serif', serif" font-weight="bold" font-size="16.3" fill="#ffff00" stroke="#ffff00" stroke-width="0.3">Line scanning</text>
<rect x="750" y="3" width="41" height="33" fill="#fff"/>
<text x="770.5" y="27.8" text-anchor="middle" font-family="'Liberation Serif', serif" font-weight="bold" font-size="22">(d)</text>
<rect x="753" y="215.5" width="55" height="18.5" fill="#fff"/>
<text x="780.8" y="225.6" text-anchor="middle" font-family="'Liberation Serif', serif" font-weight="bold" font-size="10.4" letter-spacing="0.55">10 nm</text>
<rect x="764" y="229.7" width="33" height="1.6" fill="#000"/>
<line x1="974.4" y1="10" x2="974.4" y2="226" stroke="#ffff00" stroke-width="2.5" stroke-linecap="round"/>
<path d="M970.5 223.2 L974.4 232.3 L978.3 223.2 Z" fill="#ffff00"/>
<text transform="translate(968.0 111.4) rotate(-90)" text-anchor="middle" font-family="'Liberation Serif', serif" font-weight="bold" font-size="16.3" fill="#ffff00" stroke="#ffff00" stroke-width="0.3">Line scanning</text>
<line x1="390.6" y1="43.5" x2="390.6" y2="80" stroke="#ffff00" stroke-width="2.1"/>
<path d="M387.70000000000005 73 L390.6 80 L393.5 73 L390.6 74.5 Z" fill="#ffff00"/>
<path d="M337.7 78.9 L365 81.5 L389.6 84.5 L453 84.1" fill="none" stroke="#ffff00" stroke-width="2.1" stroke-linecap="round" stroke-dasharray="0.01 4.15"/>
<path d="M337.7 84.5 L365 87 L389.6 89.8 L453 89.6" fill="none" stroke="#ffff00" stroke-width="2.1" stroke-linecap="round" stroke-dasharray="0.01 4.15"/>
<line x1="390.6" y1="93.6" x2="390.6" y2="123.8" stroke="#ffff00" stroke-width="2.1"/>
<path d="M387.70000000000005 116.8 L390.6 123.8 L393.5 116.8 L390.6 118.3 Z" fill="#ffff00"/>
<path d="M387.70000000000005 100.6 L390.6 93.6 L393.5 100.6 L390.6 99.1 Z" fill="#ffff00"/>
<path d="M343.3 120 L389 123.8 L453 122.9" fill="none" stroke="#ffff00" stroke-width="2.1" stroke-linecap="round" stroke-dasharray="0.01 4.15"/>
<path d="M343.3 126.7 L389 131.8 L453 129.5" fill="none" stroke="#ffff00" stroke-width="2.1" stroke-linecap="round" stroke-dasharray="0.01 4.15"/>
<line x1="390.6" y1="171" x2="390.6" y2="136.1" stroke="#ffff00" stroke-width="2.1"/>
<path d="M387.70000000000005 143.1 L390.6 136.1 L393.5 143.1 L390.6 141.6 Z" fill="#ffff00"/>
<text x="290.2" y="86.3" text-anchor="start" font-family="'Liberation Serif', serif" font-weight="bold" font-size="16.2" fill="#ffff00" stroke="#ffff00" stroke-width="0.35">1.1nm</text>
<text x="330.9" y="111" text-anchor="start" font-family="'Liberation Serif', serif" font-weight="bold" font-size="16.2" fill="#ffff00" stroke="#ffff00" stroke-width="0.35">11.1nm</text>
<line x1="630.4" y1="36.4" x2="630.4" y2="71.3" stroke="#ffff00" stroke-width="2.1"/>
<path d="M627.5 64.3 L630.4 71.3 L633.3 64.3 L630.4 65.8 Z" fill="#ffff00"/>
<path d="M574.8 75.4 L630.4 73.7 L687 69.2" fill="none" stroke="#ffff00" stroke-width="2.1" stroke-linecap="round" stroke-dasharray="0.01 4.15"/>
<path d="M574.8 81.7 L630.4 80.3 L687 75" fill="none" stroke="#ffff00" stroke-width="2.1" stroke-linecap="round" stroke-dasharray="0.01 4.15"/>
<line x1="630.4" y1="79.2" x2="630.4" y2="94.4" stroke="#ffff00" stroke-width="2.1"/>
<path d="M627.5 87.4 L630.4 94.4 L633.3 87.4 L630.4 88.9 Z" fill="#ffff00"/>
<path d="M627.5 86.2 L630.4 79.2 L633.3 86.2 L630.4 84.7 Z" fill="#ffff00"/>
<path d="M574.8 97.3 L630.4 96 L687 91.4" fill="none" stroke="#ffff00" stroke-width="2.1" stroke-linecap="round" stroke-dasharray="0.01 4.15"/>
<path d="M574.8 105 L630.4 103 L687 98" fill="none" stroke="#ffff00" stroke-width="2.1" stroke-linecap="round" stroke-dasharray="0.01 4.15"/>
<line x1="630.4" y1="103" x2="630.4" y2="118.8" stroke="#ffff00" stroke-width="2.1"/>
<path d="M627.5 111.8 L630.4 118.8 L633.3 111.8 L630.4 113.3 Z" fill="#ffff00"/>
<path d="M627.5 110 L630.4 103 L633.3 110 L630.4 108.5 Z" fill="#ffff00"/>
<path d="M574.8 121.4 L630.4 119.5 L687 114.8" fill="none" stroke="#ffff00" stroke-width="2.1" stroke-linecap="round" stroke-dasharray="0.01 4.15"/>
<path d="M574.8 128.4 L630.4 126.8 L687 122" fill="none" stroke="#ffff00" stroke-width="2.1" stroke-linecap="round" stroke-dasharray="0.01 4.15"/>
<line x1="630.4" y1="166" x2="630.4" y2="130.4" stroke="#ffff00" stroke-width="2.1"/>
<path d="M627.5 137.4 L630.4 130.4 L633.3 137.4 L630.4 135.9 Z" fill="#ffff00"/>
<text x="526.9" y="83.6" text-anchor="start" font-family="'Liberation Serif', serif" font-weight="bold" font-size="16.2" fill="#ffff00" stroke="#ffff00" stroke-width="0.35">1.6nm</text>
<text x="527.1" y="118.8" text-anchor="start" font-family="'Liberation Serif', serif" font-weight="bold" font-size="16.2" fill="#ffff00" stroke="#ffff00" stroke-width="0.35">5.5nm</text>
<line x1="871.2" y1="40.6" x2="871.2" y2="75.4" stroke="#ffff00" stroke-width="2.1"/>
<path d="M868.3000000000001 68.4 L871.2 75.4 L874.1 68.4 L871.2 69.9 Z" fill="#ffff00"/>
<path d="M821.9 79.4 L938.9 79.4" fill="none" stroke="#ffff00" stroke-width="2.1" stroke-linecap="round" stroke-dasharray="0.01 4.15"/>
<path d="M821.9 85.6 L938.9 85.6" fill="none" stroke="#ffff00" stroke-width="2.1" stroke-linecap="round" stroke-dasharray="0.01 4.15"/>
<line x1="871.2" y1="87.7" x2="871.2" y2="110.8" stroke="#ffff00" stroke-width="2.1"/>
<path d="M868.3000000000001 103.8 L871.2 110.8 L874.1 103.8 L871.2 105.3 Z" fill="#ffff00"/>
<path d="M868.3000000000001 94.7 L871.2 87.7 L874.1 94.7 L871.2 93.2 Z" fill="#ffff00"/>
<path d="M821.9 113.3 L938.9 113.3" fill="none" stroke="#ffff00" stroke-width="2.1" stroke-linecap="round" stroke-dasharray="0.01 4.15"/>
<path d="M821.9 120 L938.9 120" fill="none" stroke="#ffff00" stroke-width="2.1" stroke-linecap="round" stroke-dasharray="0.01 4.15"/>
<line x1="871.2" y1="159.5" x2="871.2" y2="123" stroke="#ffff00" stroke-width="2.1"/>
<path d="M868.3000000000001 130 L871.2 123 L874.1 130 L871.2 128.5 Z" fill="#ffff00"/>
<text x="884.1" y="104.6" text-anchor="start" font-family="'Liberation Serif', serif" font-weight="bold" font-size="16.2" fill="#ffff00" stroke="#ffff00" stroke-width="0.35">8.3nm</text>
<text x="767.1" y="118.6" text-anchor="start" font-family="'Liberation Serif', serif" font-weight="bold" font-size="16.2" fill="#ffff00" stroke="#ffff00" stroke-width="0.35">2.3nm</text>
<defs>
<filter id="spAl" x="0" y="0" width="100%" height="100%"><feTurbulence type="fractalNoise" baseFrequency="0.85" numOctaves="1" seed="79"/><feColorMatrix type="matrix" values="0 0 0 0 0.18  0 0 0 0 0.78  0 0 0 0 0.18  2.6 0 0 0 -1.15"/></filter>
<filter id="spCr" x="0" y="0" width="100%" height="100%"><feTurbulence type="fractalNoise" baseFrequency="0.85" numOctaves="1" seed="81"/><feColorMatrix type="matrix" values="0 0 0 0 0.78  0 0 0 0 0.12  0 0 0 0 0.12  2.6 0 0 0 -1.15"/></filter>
<filter id="spN" x="0" y="0" width="100%" height="100%"><feTurbulence type="fractalNoise" baseFrequency="0.85" numOctaves="1" seed="85"/><feColorMatrix type="matrix" values="0 0 0 0 0.35  0 0 0 0 0.8  0 0 0 0 0.82  2.6 0 0 0 -1.15"/></filter>
<filter id="spO" x="0" y="0" width="100%" height="100%"><feTurbulence type="fractalNoise" baseFrequency="0.85" numOctaves="1" seed="86"/><feColorMatrix type="matrix" values="0 0 0 0 0.82  0 0 0 0 0.8  0 0 0 0 0.16  2.6 0 0 0 -1.15"/></filter>
</defs>
<svg x="28" y="244" width="117.1" height="116.6" viewBox="0 0 117.1 116.6" overflow="hidden">
<rect width="117.5" height="117" fill="#0e9212"/>
<rect width="117.5" height="117" filter="url(#spAl)" opacity="0.35"/>
<rect width="117.5" height="117" filter="url(#speck)" opacity="0.2"/>
<rect width="42" height="28" fill="#0c9e0c"/>
<text x="21" y="21.4" text-anchor="middle" font-family="'Liberation Serif', serif" font-weight="bold" font-size="18" fill="#111">Al</text>
<text x="2" y="112" font-family="'Liberation Serif', serif" font-size="5.5" fill="#fff" fill-opacity="0.8">10 nm</text>
<rect x="1.5" y="113.8" width="16.5" height="0.9" fill="#fff" opacity="0.6"/>
</svg>
<svg x="144.5" y="244" width="117.1" height="116.6" viewBox="0 0 117.1 116.6" overflow="hidden">
<rect width="117.5" height="117" fill="#900a0a"/>
<rect width="117.5" height="117" filter="url(#spCr)" opacity="0.35"/>
<rect width="117.5" height="117" filter="url(#speck)" opacity="0.2"/>
<rect width="42" height="28" fill="#cc0606"/>
<text x="21" y="21.4" text-anchor="middle" font-family="'Liberation Serif', serif" font-weight="bold" font-size="18" fill="#111">Cr</text>
<text x="2" y="112" font-family="'Liberation Serif', serif" font-size="5.5" fill="#fff" fill-opacity="0.8">10 nm</text>
<rect x="1.5" y="113.8" width="16.5" height="0.9" fill="#fff" opacity="0.6"/>
</svg>
<svg x="28" y="360" width="117.1" height="115.6" viewBox="0 0 117.1 115.6" overflow="hidden">
<rect width="117.5" height="116" fill="#1a9aa0"/>
<rect width="117.5" height="116" filter="url(#spN)" opacity="0.35"/>
<rect width="117.5" height="116" filter="url(#speck)" opacity="0.2"/>
<rect width="42" height="28" fill="#20b0b8"/>
<text x="21" y="21.4" text-anchor="middle" font-family="'Liberation Serif', serif" font-weight="bold" font-size="18" fill="#111">N</text>
<text x="2" y="111" font-family="'Liberation Serif', serif" font-size="5.5" fill="#fff" fill-opacity="0.8">10 nm</text>
<rect x="1.5" y="112.8" width="16.5" height="0.9" fill="#fff" opacity="0.6"/>
</svg>
<svg x="144.5" y="360" width="117.1" height="115.6" viewBox="0 0 117.1 115.6" overflow="hidden">
<rect width="117.5" height="116" fill="#6a660e"/>
<rect width="117.5" height="116" filter="url(#spO)" opacity="0.35"/>
<rect width="117.5" height="116" filter="url(#speck)" opacity="0.2"/>
<rect width="42" height="28" fill="#c4c010"/>
<text x="21" y="21.4" text-anchor="middle" font-family="'Liberation Serif', serif" font-weight="bold" font-size="18" fill="#111">O</text>
<text x="2" y="111" font-family="'Liberation Serif', serif" font-size="5.5" fill="#fff" fill-opacity="0.8">10 nm</text>
<rect x="1.5" y="112.8" width="16.5" height="0.9" fill="#fff" opacity="0.6"/>
</svg>
<svg x="269" y="244" width="116.6" height="116.6" viewBox="0 0 116.6 116.6" overflow="hidden">
<rect width="117.0" height="117" fill="#0e9212"/>
<rect width="117.0" height="117" filter="url(#spAl)" opacity="0.35"/>
<rect width="117.0" height="117" filter="url(#speck)" opacity="0.2"/>
<path d="M-5.0 20.7 C10.8 20.7 10.8 20.5 26.5 20.5 C42.2 20.5 42.2 16.5 58.0 16.5 C73.8 16.5 73.8 19.1 89.5 19.1 C105.2 19.1 105.2 18.5 121.0 18.5" stroke="#063a08" stroke-width="6" opacity="0.22" filter="url(#blur2)" fill="none"/>
<path d="M-5.0 37.5 C10.8 37.5 10.8 41.4 26.5 41.4 C42.2 41.4 42.2 37.2 58.0 37.2 C73.8 37.2 73.8 39.0 89.5 39.0 C105.2 39.0 105.2 37.2 121.0 37.2" stroke="#063a08" stroke-width="6" opacity="0.22" filter="url(#blur2)" fill="none"/>
<path d="M-5.0 60.3 C10.8 60.3 10.8 62.1 26.5 62.1 C42.2 62.1 42.2 62.0 58.0 62.0 C73.8 62.0 73.8 58.2 89.5 58.2 C105.2 58.2 105.2 58.4 121.0 58.4" stroke="#063a08" stroke-width="6" opacity="0.22" filter="url(#blur2)" fill="none"/>
<path d="M-5.0 80.0 C10.8 80.0 10.8 79.7 26.5 79.7 C42.2 79.7 42.2 79.3 58.0 79.3 C73.8 79.3 73.8 81.3 89.5 81.3 C105.2 81.3 105.2 79.9 121.0 79.9" stroke="#063a08" stroke-width="6" opacity="0.22" filter="url(#blur2)" fill="none"/>
<path d="M-5.0 99.8 C10.8 99.8 10.8 97.4 26.5 97.4 C42.2 97.4 42.2 98.5 58.0 98.5 C73.8 98.5 73.8 98.6 89.5 98.6 C105.2 98.6 105.2 94.4 121.0 94.4" stroke="#063a08" stroke-width="6" opacity="0.22" filter="url(#blur2)" fill="none"/>
<rect width="42" height="28" fill="#0c9e0c"/>
<text x="21" y="21.4" text-anchor="middle" font-family="'Liberation Serif', serif" font-weight="bold" font-size="18" fill="#111">Al</text>
<text x="2" y="112" font-family="'Liberation Serif', serif" font-size="5.5" fill="#fff" fill-opacity="0.8">10 nm</text>
<rect x="1.5" y="113.8" width="16.5" height="0.9" fill="#fff" opacity="0.6"/>
</svg>
<svg x="385.0" y="244" width="116.6" height="116.6" viewBox="0 0 116.6 116.6" overflow="hidden">
<rect width="117.0" height="117" fill="#900a0a"/>
<rect width="117.0" height="117" filter="url(#spCr)" opacity="0.35"/>
<rect width="117.0" height="117" filter="url(#speck)" opacity="0.2"/>
<rect width="42" height="28" fill="#cc0606"/>
<text x="21" y="21.4" text-anchor="middle" font-family="'Liberation Serif', serif" font-weight="bold" font-size="18" fill="#111">Cr</text>
<text x="2" y="112" font-family="'Liberation Serif', serif" font-size="5.5" fill="#fff" fill-opacity="0.8">10 nm</text>
<rect x="1.5" y="113.8" width="16.5" height="0.9" fill="#fff" opacity="0.6"/>
</svg>
<svg x="269" y="360" width="116.6" height="115.6" viewBox="0 0 116.6 115.6" overflow="hidden">
<rect width="117.0" height="116" fill="#1a9aa0"/>
<rect width="117.0" height="116" filter="url(#spN)" opacity="0.35"/>
<rect width="117.0" height="116" filter="url(#speck)" opacity="0.2"/>
<path d="M-5.0 21.2 C10.8 21.2 10.8 20.2 26.5 20.2 C42.2 20.2 42.2 15.5 58.0 15.5 C73.8 15.5 73.8 17.3 89.5 17.3 C105.2 17.3 105.2 16.0 121.0 16.0" stroke="#053a3e" stroke-width="8" opacity="0.45" filter="url(#blur2)" fill="none"/>
<path d="M-5.0 36.0 C10.8 36.0 10.8 39.1 26.5 39.1 C42.2 39.1 42.2 34.2 58.0 34.2 C73.8 34.2 73.8 35.3 89.5 35.3 C105.2 35.3 105.2 32.7 121.0 32.7" stroke="#053a3e" stroke-width="8" opacity="0.45" filter="url(#blur2)" fill="none"/>
<path d="M-5.0 58.8 C10.8 58.8 10.8 59.9 26.5 59.9 C42.2 59.9 42.2 59.0 58.0 59.0 C73.8 59.0 73.8 54.4 89.5 54.4 C105.2 54.4 105.2 53.9 121.0 53.9" stroke="#053a3e" stroke-width="8" opacity="0.45" filter="url(#blur2)" fill="none"/>
<path d="M-5.0 79.0 C10.8 79.0 10.8 77.9 26.5 77.9 C42.2 77.9 42.2 76.8 58.0 76.8 C73.8 76.8 73.8 78.1 89.5 78.1 C105.2 78.1 105.2 75.9 121.0 75.9" stroke="#053a3e" stroke-width="8" opacity="0.45" filter="url(#blur2)" fill="none"/>
<path d="M-5.0 99.3 C10.8 99.3 10.8 96.1 26.5 96.1 C42.2 96.1 42.2 96.5 58.0 96.5 C73.8 96.5 73.8 95.9 89.5 95.9 C105.2 95.9 105.2 90.9 121.0 90.9" stroke="#053a3e" stroke-width="8" opacity="0.45" filter="url(#blur2)" fill="none"/>
<rect width="42" height="28" fill="#20b0b8"/>
<text x="21" y="21.4" text-anchor="middle" font-family="'Liberation Serif', serif" font-weight="bold" font-size="18" fill="#111">N</text>
<text x="2" y="111" font-family="'Liberation Serif', serif" font-size="5.5" fill="#fff" fill-opacity="0.8">10 nm</text>
<rect x="1.5" y="112.8" width="16.5" height="0.9" fill="#fff" opacity="0.6"/>
</svg>
<svg x="385.0" y="360" width="116.6" height="115.6" viewBox="0 0 116.6 115.6" overflow="hidden">
<rect width="117.0" height="116" fill="#403e0a"/>
<path d="M-5.0 24.4 C10.8 24.4 10.8 23.3 26.5 23.3 C42.2 23.3 42.2 21.5 58.0 21.5 C73.8 21.5 73.8 21.8 89.5 21.8 C105.2 21.8 105.2 17.2 121.0 17.2" stroke="#bcb816" stroke-width="9" opacity="0.95" filter="url(#blur2)" fill="none"/>
<path d="M-5.0 41.0 C10.8 41.0 10.8 39.8 26.5 39.8 C42.2 39.8 42.2 37.8 58.0 37.8 C73.8 37.8 73.8 39.9 89.5 39.9 C105.2 39.9 105.2 37.7 121.0 37.7" stroke="#bcb816" stroke-width="9" opacity="0.95" filter="url(#blur2)" fill="none"/>
<path d="M-5.0 62.5 C10.8 62.5 10.8 61.6 26.5 61.6 C42.2 61.6 42.2 63.6 58.0 63.6 C73.8 63.6 73.8 59.8 89.5 59.8 C105.2 59.8 105.2 59.1 121.0 59.1" stroke="#bcb816" stroke-width="9" opacity="0.95" filter="url(#blur2)" fill="none"/>
<path d="M-5.0 80.4 C10.8 80.4 10.8 82.3 26.5 82.3 C42.2 82.3 42.2 81.5 58.0 81.5 C73.8 81.5 73.8 81.2 89.5 81.2 C105.2 81.2 105.2 78.3 121.0 78.3" stroke="#bcb816" stroke-width="9" opacity="0.95" filter="url(#blur2)" fill="none"/>
<path d="M-5.0 105.8 C10.8 105.8 10.8 102.0 26.5 102.0 C42.2 102.0 42.2 101.3 58.0 101.3 C73.8 101.3 73.8 101.8 89.5 101.8 C105.2 101.8 105.2 96.2 121.0 96.2" stroke="#bcb816" stroke-width="9" opacity="0.95" filter="url(#blur2)" fill="none"/>
<rect width="117.0" height="116" filter="url(#spO)" opacity="0.35"/>
<rect width="117.0" height="116" filter="url(#speck)" opacity="0.2"/>
<rect width="42" height="28" fill="#c4c010"/>
<text x="21" y="21.4" text-anchor="middle" font-family="'Liberation Serif', serif" font-weight="bold" font-size="18" fill="#111">O</text>
<text x="2" y="111" font-family="'Liberation Serif', serif" font-size="5.5" fill="#fff" fill-opacity="0.8">10 nm</text>
<rect x="1.5" y="112.8" width="16.5" height="0.9" fill="#fff" opacity="0.6"/>
</svg>
<svg x="509" y="244" width="117.1" height="116.6" viewBox="0 0 117.1 116.6" overflow="hidden">
<rect width="117.5" height="117" fill="#0e9212"/>
<rect width="117.5" height="117" filter="url(#spAl)" opacity="0.35"/>
<rect width="117.5" height="117" filter="url(#speck)" opacity="0.2"/>
<path d="M-5.0 0.7 C10.8 0.7 10.8 0.6 26.6 0.6 C42.4 0.6 42.4 0.8 58.2 0.8 C74.1 0.8 74.1 -1.6 89.9 -1.6 C105.7 -1.6 105.7 -1.8 121.5 -1.8" stroke="#063a08" stroke-width="4" opacity="0.14" filter="url(#blur1)" fill="none"/>
<path d="M-5.0 13.0 C10.8 13.0 10.8 12.8 26.6 12.8 C42.4 12.8 42.4 9.8 58.2 9.8 C74.1 9.8 74.1 10.6 89.9 10.6 C105.7 10.6 105.7 10.0 121.5 10.0" stroke="#063a08" stroke-width="4" opacity="0.14" filter="url(#blur1)" fill="none"/>
<path d="M-5.0 23.0 C10.8 23.0 10.8 23.6 26.6 23.6 C42.4 23.6 42.4 21.2 58.2 21.2 C74.1 21.2 74.1 22.6 89.9 22.6 C105.7 22.6 105.7 19.9 121.5 19.9" stroke="#063a08" stroke-width="4" opacity="0.14" filter="url(#blur1)" fill="none"/>
<path d="M-5.0 35.1 C10.8 35.1 10.8 34.2 26.6 34.2 C42.4 34.2 42.4 34.7 58.2 34.7 C74.1 34.7 74.1 33.4 89.9 33.4 C105.7 33.4 105.7 33.1 121.5 33.1" stroke="#063a08" stroke-width="4" opacity="0.14" filter="url(#blur1)" fill="none"/>
<path d="M-5.0 46.0 C10.8 46.0 10.8 45.6 26.6 45.6 C42.4 45.6 42.4 44.8 58.2 44.8 C74.1 44.8 74.1 45.0 89.9 45.0 C105.7 45.0 105.7 43.9 121.5 43.9" stroke="#063a08" stroke-width="4" opacity="0.14" filter="url(#blur1)" fill="none"/>
<path d="M-5.0 58.9 C10.8 58.9 10.8 57.9 26.6 57.9 C42.4 57.9 42.4 56.4 58.2 56.4 C74.1 56.4 74.1 55.8 89.9 55.8 C105.7 55.8 105.7 55.1 121.5 55.1" stroke="#063a08" stroke-width="4" opacity="0.14" filter="url(#blur1)" fill="none"/>
<path d="M-5.0 68.4 C10.8 68.4 10.8 68.7 26.6 68.7 C42.4 68.7 42.4 67.7 58.2 67.7 C74.1 67.7 74.1 68.6 89.9 68.6 C105.7 68.6 105.7 66.6 121.5 66.6" stroke="#063a08" stroke-width="4" opacity="0.14" filter="url(#blur1)" fill="none"/>
<path d="M-5.0 80.2 C10.8 80.2 10.8 80.6 26.6 80.6 C42.4 80.6 42.4 79.3 58.2 79.3 C74.1 79.3 74.1 79.1 89.9 79.1 C105.7 79.1 105.7 78.1 121.5 78.1" stroke="#063a08" stroke-width="4" opacity="0.14" filter="url(#blur1)" fill="none"/>
<path d="M-5.0 92.3 C10.8 92.3 10.8 91.8 26.6 91.8 C42.4 91.8 42.4 90.9 58.2 90.9 C74.1 90.9 74.1 90.2 89.9 90.2 C105.7 90.2 105.7 89.7 121.5 89.7" stroke="#063a08" stroke-width="4" opacity="0.14" filter="url(#blur1)" fill="none"/>
<path d="M-5.0 103.9 C10.8 103.9 10.8 102.9 26.6 102.9 C42.4 102.9 42.4 102.8 58.2 102.8 C74.1 102.8 74.1 101.5 89.9 101.5 C105.7 101.5 105.7 100.4 121.5 100.4" stroke="#063a08" stroke-width="4" opacity="0.14" filter="url(#blur1)" fill="none"/>
<path d="M-5.0 115.4 C10.8 115.4 10.8 116.0 26.6 116.0 C42.4 116.0 42.4 114.6 58.2 114.6 C74.1 114.6 74.1 113.4 89.9 113.4 C105.7 113.4 105.7 114.1 121.5 114.1" stroke="#063a08" stroke-width="4" opacity="0.14" filter="url(#blur1)" fill="none"/>
<path d="M-5.0 126.0 C10.8 126.0 10.8 125.7 26.6 125.7 C42.4 125.7 42.4 125.6 58.2 125.6 C74.1 125.6 74.1 125.3 89.9 125.3 C105.7 125.3 105.7 124.8 121.5 124.8" stroke="#063a08" stroke-width="4" opacity="0.14" filter="url(#blur1)" fill="none"/>
<rect width="42" height="28" fill="#0c9e0c"/>
<text x="21" y="21.4" text-anchor="middle" font-family="'Liberation Serif', serif" font-weight="bold" font-size="18" fill="#111">Al</text>
<text x="2" y="112" font-family="'Liberation Serif', serif" font-size="5.5" fill="#fff" fill-opacity="0.8">10 nm</text>
<rect x="1.5" y="113.8" width="16.5" height="0.9" fill="#fff" opacity="0.6"/>
</svg>
<svg x="625.5" y="244" width="117.1" height="116.6" viewBox="0 0 117.1 116.6" overflow="hidden">
<rect width="117.5" height="117" fill="#900a0a"/>
<rect width="117.5" height="117" filter="url(#spCr)" opacity="0.35"/>
<rect width="117.5" height="117" filter="url(#speck)" opacity="0.2"/>
<rect width="42" height="28" fill="#cc0606"/>
<text x="21" y="21.4" text-anchor="middle" font-family="'Liberation Serif', serif" font-weight="bold" font-size="18" fill="#111">Cr</text>
<text x="2" y="112" font-family="'Liberation Serif', serif" font-size="5.5" fill="#fff" fill-opacity="0.8">10 nm</text>
<rect x="1.5" y="113.8" width="16.5" height="0.9" fill="#fff" opacity="0.6"/>
</svg>
<svg x="509" y="360" width="117.1" height="115.6" viewBox="0 0 117.1 115.6" overflow="hidden">
<rect width="117.5" height="116" fill="#1a9aa0"/>
<rect width="117.5" height="116" filter="url(#spN)" opacity="0.35"/>
<rect width="117.5" height="116" filter="url(#speck)" opacity="0.2"/>
<path d="M-5.0 0.7 C10.8 0.7 10.8 0.6 26.6 0.6 C42.4 0.6 42.4 0.8 58.2 0.8 C74.1 0.8 74.1 -1.6 89.9 -1.6 C105.7 -1.6 105.7 -1.8 121.5 -1.8" stroke="#053a3e" stroke-width="4.5" opacity="0.4" filter="url(#blur1)" fill="none"/>
<path d="M-5.0 13.0 C10.8 13.0 10.8 12.8 26.6 12.8 C42.4 12.8 42.4 9.8 58.2 9.8 C74.1 9.8 74.1 10.6 89.9 10.6 C105.7 10.6 105.7 10.0 121.5 10.0" stroke="#053a3e" stroke-width="4.5" opacity="0.4" filter="url(#blur1)" fill="none"/>
<path d="M-5.0 23.0 C10.8 23.0 10.8 23.6 26.6 23.6 C42.4 23.6 42.4 21.2 58.2 21.2 C74.1 21.2 74.1 22.6 89.9 22.6 C105.7 22.6 105.7 19.9 121.5 19.9" stroke="#053a3e" stroke-width="4.5" opacity="0.4" filter="url(#blur1)" fill="none"/>
<path d="M-5.0 35.1 C10.8 35.1 10.8 34.2 26.6 34.2 C42.4 34.2 42.4 34.7 58.2 34.7 C74.1 34.7 74.1 33.4 89.9 33.4 C105.7 33.4 105.7 33.1 121.5 33.1" stroke="#053a3e" stroke-width="4.5" opacity="0.4" filter="url(#blur1)" fill="none"/>
<path d="M-5.0 46.0 C10.8 46.0 10.8 45.6 26.6 45.6 C42.4 45.6 42.4 44.8 58.2 44.8 C74.1 44.8 74.1 45.0 89.9 45.0 C105.7 45.0 105.7 43.9 121.5 43.9" stroke="#053a3e" stroke-width="4.5" opacity="0.4" filter="url(#blur1)" fill="none"/>
<path d="M-5.0 58.9 C10.8 58.9 10.8 57.9 26.6 57.9 C42.4 57.9 42.4 56.4 58.2 56.4 C74.1 56.4 74.1 55.8 89.9 55.8 C105.7 55.8 105.7 55.1 121.5 55.1" stroke="#053a3e" stroke-width="4.5" opacity="0.4" filter="url(#blur1)" fill="none"/>
<path d="M-5.0 68.4 C10.8 68.4 10.8 68.7 26.6 68.7 C42.4 68.7 42.4 67.7 58.2 67.7 C74.1 67.7 74.1 68.6 89.9 68.6 C105.7 68.6 105.7 66.6 121.5 66.6" stroke="#053a3e" stroke-width="4.5" opacity="0.4" filter="url(#blur1)" fill="none"/>
<path d="M-5.0 80.2 C10.8 80.2 10.8 80.6 26.6 80.6 C42.4 80.6 42.4 79.3 58.2 79.3 C74.1 79.3 74.1 79.1 89.9 79.1 C105.7 79.1 105.7 78.1 121.5 78.1" stroke="#053a3e" stroke-width="4.5" opacity="0.4" filter="url(#blur1)" fill="none"/>
<path d="M-5.0 92.3 C10.8 92.3 10.8 91.8 26.6 91.8 C42.4 91.8 42.4 90.9 58.2 90.9 C74.1 90.9 74.1 90.2 89.9 90.2 C105.7 90.2 105.7 89.7 121.5 89.7" stroke="#053a3e" stroke-width="4.5" opacity="0.4" filter="url(#blur1)" fill="none"/>
<path d="M-5.0 103.9 C10.8 103.9 10.8 102.9 26.6 102.9 C42.4 102.9 42.4 102.8 58.2 102.8 C74.1 102.8 74.1 101.5 89.9 101.5 C105.7 101.5 105.7 100.4 121.5 100.4" stroke="#053a3e" stroke-width="4.5" opacity="0.4" filter="url(#blur1)" fill="none"/>
<path d="M-5.0 115.4 C10.8 115.4 10.8 116.0 26.6 116.0 C42.4 116.0 42.4 114.6 58.2 114.6 C74.1 114.6 74.1 113.4 89.9 113.4 C105.7 113.4 105.7 114.1 121.5 114.1" stroke="#053a3e" stroke-width="4.5" opacity="0.4" filter="url(#blur1)" fill="none"/>
<path d="M-5.0 126.0 C10.8 126.0 10.8 125.7 26.6 125.7 C42.4 125.7 42.4 125.6 58.2 125.6 C74.1 125.6 74.1 125.3 89.9 125.3 C105.7 125.3 105.7 124.8 121.5 124.8" stroke="#053a3e" stroke-width="4.5" opacity="0.4" filter="url(#blur1)" fill="none"/>
<rect width="42" height="28" fill="#20b0b8"/>
<text x="21" y="21.4" text-anchor="middle" font-family="'Liberation Serif', serif" font-weight="bold" font-size="18" fill="#111">N</text>
<text x="2" y="111" font-family="'Liberation Serif', serif" font-size="5.5" fill="#fff" fill-opacity="0.8">10 nm</text>
<rect x="1.5" y="112.8" width="16.5" height="0.9" fill="#fff" opacity="0.6"/>
</svg>
<svg x="625.5" y="360" width="117.1" height="115.6" viewBox="0 0 117.1 115.6" overflow="hidden">
<rect width="117.5" height="116" fill="#403e0a"/>
<path d="M-5.0 0.7 C10.8 0.7 10.8 0.7 26.6 0.7 C42.4 0.7 42.4 -0.4 58.2 -0.4 C74.1 -0.4 74.1 -1.3 89.9 -1.3 C105.7 -1.3 105.7 -2.6 121.5 -2.6" stroke="#b4b014" stroke-width="6.2" opacity="0.9" filter="url(#blur1)" fill="none"/>
<path d="M-5.0 11.8 C10.8 11.8 10.8 11.3 26.6 11.3 C42.4 11.3 42.4 10.6 58.2 10.6 C74.1 10.6 74.1 9.7 89.9 9.7 C105.7 9.7 105.7 8.9 121.5 8.9" stroke="#b4b014" stroke-width="6.2" opacity="0.9" filter="url(#blur1)" fill="none"/>
<path d="M-5.0 25.0 C10.8 25.0 10.8 23.9 26.6 23.9 C42.4 23.9 42.4 23.5 58.2 23.5 C74.1 23.5 74.1 21.5 89.9 21.5 C105.7 21.5 105.7 20.0 121.5 20.0" stroke="#b4b014" stroke-width="6.2" opacity="0.9" filter="url(#blur1)" fill="none"/>
<path d="M-5.0 35.3 C10.8 35.3 10.8 35.0 26.6 35.0 C42.4 35.0 42.4 32.9 58.2 32.9 C74.1 32.9 74.1 32.6 89.9 32.6 C105.7 32.6 105.7 31.3 121.5 31.3" stroke="#b4b014" stroke-width="6.2" opacity="0.9" filter="url(#blur1)" fill="none"/>
<path d="M-5.0 47.2 C10.8 47.2 10.8 45.6 26.6 45.6 C42.4 45.6 42.4 45.0 58.2 45.0 C74.1 45.0 74.1 45.2 89.9 45.2 C105.7 45.2 105.7 43.1 121.5 43.1" stroke="#b4b014" stroke-width="6.2" opacity="0.9" filter="url(#blur1)" fill="none"/>
<path d="M-5.0 57.8 C10.8 57.8 10.8 56.9 26.6 56.9 C42.4 56.9 42.4 57.2 58.2 57.2 C74.1 57.2 74.1 55.9 89.9 55.9 C105.7 55.9 105.7 54.2 121.5 54.2" stroke="#b4b014" stroke-width="6.2" opacity="0.9" filter="url(#blur1)" fill="none"/>
<path d="M-5.0 70.1 C10.8 70.1 10.8 68.9 26.6 68.9 C42.4 68.9 42.4 68.2 58.2 68.2 C74.1 68.2 74.1 67.8 89.9 67.8 C105.7 67.8 105.7 66.6 121.5 66.6" stroke="#b4b014" stroke-width="6.2" opacity="0.9" filter="url(#blur1)" fill="none"/>
<path d="M-5.0 81.8 C10.8 81.8 10.8 80.3 26.6 80.3 C42.4 80.3 42.4 80.4 58.2 80.4 C74.1 80.4 74.1 78.9 89.9 78.9 C105.7 78.9 105.7 77.0 121.5 77.0" stroke="#b4b014" stroke-width="6.2" opacity="0.9" filter="url(#blur1)" fill="none"/>
<path d="M-5.0 92.6 C10.8 92.6 10.8 91.8 26.6 91.8 C42.4 91.8 42.4 91.7 58.2 91.7 C74.1 91.7 74.1 91.4 89.9 91.4 C105.7 91.4 105.7 89.3 121.5 89.3" stroke="#b4b014" stroke-width="6.2" opacity="0.9" filter="url(#blur1)" fill="none"/>
<path d="M-5.0 105.2 C10.8 105.2 10.8 104.1 26.6 104.1 C42.4 104.1 42.4 102.9 58.2 102.9 C74.1 102.9 74.1 101.5 89.9 101.5 C105.7 101.5 105.7 99.8 121.5 99.8" stroke="#b4b014" stroke-width="6.2" opacity="0.9" filter="url(#blur1)" fill="none"/>
<path d="M-5.0 112.5 C10.8 112.5 10.8 115.3 26.6 115.3 C42.4 115.3 42.4 113.2 58.2 113.2 C74.1 113.2 74.1 112.7 89.9 112.7 C105.7 112.7 105.7 113.7 121.5 113.7" stroke="#b4b014" stroke-width="6.2" opacity="0.9" filter="url(#blur1)" fill="none"/>
<path d="M-5.0 126.0 C10.8 126.0 10.8 125.3 26.6 125.3 C42.4 125.3 42.4 125.2 58.2 125.2 C74.1 125.2 74.1 126.0 89.9 126.0 C105.7 126.0 105.7 123.7 121.5 123.7" stroke="#b4b014" stroke-width="6.2" opacity="0.9" filter="url(#blur1)" fill="none"/>
<rect width="117.5" height="116" filter="url(#spO)" opacity="0.35"/>
<rect width="117.5" height="116" filter="url(#speck)" opacity="0.2"/>
<rect width="42" height="28" fill="#c4c010"/>
<text x="21" y="21.4" text-anchor="middle" font-family="'Liberation Serif', serif" font-weight="bold" font-size="18" fill="#111">O</text>
<text x="2" y="111" font-family="'Liberation Serif', serif" font-size="5.5" fill="#fff" fill-opacity="0.8">10 nm</text>
<rect x="1.5" y="112.8" width="16.5" height="0.9" fill="#fff" opacity="0.6"/>
</svg>
<svg x="750" y="244" width="116.6" height="116.6" viewBox="0 0 116.6 116.6" overflow="hidden">
<rect width="117.0" height="117" fill="#0e9212"/>
<rect width="117.0" height="117" filter="url(#spAl)" opacity="0.35"/>
<rect width="117.0" height="117" filter="url(#speck)" opacity="0.2"/>
<path d="M-5.0 -11.9 C10.8 -11.9 10.8 -12.7 26.5 -12.7 C42.2 -12.7 42.2 -11.9 58.0 -11.9 C73.8 -11.9 73.8 -12.7 89.5 -12.7 C105.2 -12.7 105.2 -11.3 121.0 -11.3" stroke="#063a08" stroke-width="3.5" opacity="0.1" filter="url(#blur1)" fill="none"/>
<path d="M-5.0 4.3 C10.8 4.3 10.8 5.7 26.5 5.7 C42.2 5.7 42.2 4.6 58.0 4.6 C73.8 4.6 73.8 4.9 89.5 4.9 C105.2 4.9 105.2 5.4 121.0 5.4" stroke="#063a08" stroke-width="3.5" opacity="0.1" filter="url(#blur1)" fill="none"/>
<path d="M-5.0 21.4 C10.8 21.4 10.8 21.0 26.5 21.0 C42.2 21.0 42.2 20.9 58.0 20.9 C73.8 20.9 73.8 20.2 89.5 20.2 C105.2 20.2 105.2 21.3 121.0 21.3" stroke="#063a08" stroke-width="3.5" opacity="0.1" filter="url(#blur1)" fill="none"/>
<path d="M-5.0 38.8 C10.8 38.8 10.8 37.4 26.5 37.4 C42.2 37.4 42.2 37.6 58.0 37.6 C73.8 37.6 73.8 38.5 89.5 38.5 C105.2 38.5 105.2 38.1 121.0 38.1" stroke="#063a08" stroke-width="3.5" opacity="0.1" filter="url(#blur1)" fill="none"/>
<path d="M-5.0 54.6 C10.8 54.6 10.8 53.7 26.5 53.7 C42.2 53.7 42.2 54.6 58.0 54.6 C73.8 54.6 73.8 53.6 89.5 53.6 C105.2 53.6 105.2 53.8 121.0 53.8" stroke="#063a08" stroke-width="3.5" opacity="0.1" filter="url(#blur1)" fill="none"/>
<path d="M-5.0 71.2 C10.8 71.2 10.8 70.6 26.5 70.6 C42.2 70.6 42.2 70.8 58.0 70.8 C73.8 70.8 73.8 70.6 89.5 70.6 C105.2 70.6 105.2 70.9 121.0 70.9" stroke="#063a08" stroke-width="3.5" opacity="0.1" filter="url(#blur1)" fill="none"/>
<path d="M-5.0 87.8 C10.8 87.8 10.8 87.7 26.5 87.7 C42.2 87.7 42.2 87.7 58.0 87.7 C73.8 87.7 73.8 87.3 89.5 87.3 C105.2 87.3 105.2 87.4 121.0 87.4" stroke="#063a08" stroke-width="3.5" opacity="0.1" filter="url(#blur1)" fill="none"/>
<path d="M-5.0 103.8 C10.8 103.8 10.8 103.7 26.5 103.7 C42.2 103.7 42.2 103.7 58.0 103.7 C73.8 103.7 73.8 103.8 89.5 103.8 C105.2 103.8 105.2 103.7 121.0 103.7" stroke="#063a08" stroke-width="3.5" opacity="0.1" filter="url(#blur1)" fill="none"/>
<path d="M-5.0 120.6 C10.8 120.6 10.8 120.7 26.5 120.7 C42.2 120.7 42.2 120.3 58.0 120.3 C73.8 120.3 73.8 119.9 89.5 119.9 C105.2 119.9 105.2 120.5 121.0 120.5" stroke="#063a08" stroke-width="3.5" opacity="0.1" filter="url(#blur1)" fill="none"/>
<rect width="42" height="28" fill="#0c9e0c"/>
<text x="21" y="21.4" text-anchor="middle" font-family="'Liberation Serif', serif" font-weight="bold" font-size="18" fill="#111">Al</text>
<text x="2" y="112" font-family="'Liberation Serif', serif" font-size="5.5" fill="#fff" fill-opacity="0.8">10 nm</text>
<rect x="1.5" y="113.8" width="16.5" height="0.9" fill="#fff" opacity="0.6"/>
</svg>
<svg x="866.0" y="244" width="116.6" height="116.6" viewBox="0 0 116.6 116.6" overflow="hidden">
<rect width="117.0" height="117" fill="#900a0a"/>
<rect width="117.0" height="117" filter="url(#spCr)" opacity="0.35"/>
<rect width="117.0" height="117" filter="url(#speck)" opacity="0.2"/>
<path d="M-5.0 -12.1 C10.8 -12.1 10.8 -12.1 26.5 -12.1 C42.2 -12.1 42.2 -11.0 58.0 -11.0 C73.8 -11.0 73.8 -12.1 89.5 -12.1 C105.2 -12.1 105.2 -11.2 121.0 -11.2" stroke="#300000" stroke-width="3.2" opacity="0.5" filter="url(#blur1)" fill="none"/>
<path d="M-5.0 3.9 C10.8 3.9 10.8 4.4 26.5 4.4 C42.2 4.4 42.2 4.5 58.0 4.5 C73.8 4.5 73.8 4.6 89.5 4.6 C105.2 4.6 105.2 4.4 121.0 4.4" stroke="#300000" stroke-width="3.2" opacity="0.5" filter="url(#blur1)" fill="none"/>
<path d="M-5.0 21.7 C10.8 21.7 10.8 21.4 26.5 21.4 C42.2 21.4 42.2 21.0 58.0 21.0 C73.8 21.0 73.8 20.4 89.5 20.4 C105.2 20.4 105.2 20.9 121.0 20.9" stroke="#300000" stroke-width="3.2" opacity="0.5" filter="url(#blur1)" fill="none"/>
<path d="M-5.0 38.1 C10.8 38.1 10.8 37.3 26.5 37.3 C42.2 37.3 42.2 37.2 58.0 37.2 C73.8 37.2 73.8 38.0 89.5 38.0 C105.2 38.0 105.2 38.0 121.0 38.0" stroke="#300000" stroke-width="3.2" opacity="0.5" filter="url(#blur1)" fill="none"/>
<path d="M-5.0 54.7 C10.8 54.7 10.8 54.3 26.5 54.3 C42.2 54.3 42.2 53.3 58.0 53.3 C73.8 53.3 73.8 54.5 89.5 54.5 C105.2 54.5 105.2 54.8 121.0 54.8" stroke="#300000" stroke-width="3.2" opacity="0.5" filter="url(#blur1)" fill="none"/>
<path d="M-5.0 70.2 C10.8 70.2 10.8 70.9 26.5 70.9 C42.2 70.9 42.2 71.2 58.0 71.2 C73.8 71.2 73.8 71.0 89.5 71.0 C105.2 71.0 105.2 71.6 121.0 71.6" stroke="#300000" stroke-width="3.2" opacity="0.5" filter="url(#blur1)" fill="none"/>
<path d="M-5.0 86.9 C10.8 86.9 10.8 87.8 26.5 87.8 C42.2 87.8 42.2 87.5 58.0 87.5 C73.8 87.5 73.8 87.1 89.5 87.1 C105.2 87.1 105.2 88.0 121.0 88.0" stroke="#300000" stroke-width="3.2" opacity="0.5" filter="url(#blur1)" fill="none"/>
<path d="M-5.0 103.7 C10.8 103.7 10.8 104.8 26.5 104.8 C42.2 104.8 42.2 104.0 58.0 104.0 C73.8 104.0 73.8 104.1 89.5 104.1 C105.2 104.1 105.2 104.3 121.0 104.3" stroke="#300000" stroke-width="3.2" opacity="0.5" filter="url(#blur1)" fill="none"/>
<path d="M-5.0 120.4 C10.8 120.4 10.8 120.8 26.5 120.8 C42.2 120.8 42.2 121.0 58.0 121.0 C73.8 121.0 73.8 120.4 89.5 120.4 C105.2 120.4 105.2 121.1 121.0 121.1" stroke="#300000" stroke-width="3.2" opacity="0.5" filter="url(#blur1)" fill="none"/>
<rect width="42" height="28" fill="#cc0606"/>
<text x="21" y="21.4" text-anchor="middle" font-family="'Liberation Serif', serif" font-weight="bold" font-size="18" fill="#111">Cr</text>
<text x="2" y="112" font-family="'Liberation Serif', serif" font-size="5.5" fill="#fff" fill-opacity="0.8">10 nm</text>
<rect x="1.5" y="113.8" width="16.5" height="0.9" fill="#fff" opacity="0.6"/>
</svg>
<svg x="750" y="360" width="116.6" height="115.6" viewBox="0 0 116.6 115.6" overflow="hidden">
<rect width="117.0" height="116" fill="#1a9aa0"/>
<rect width="117.0" height="116" filter="url(#spN)" opacity="0.35"/>
<rect width="117.0" height="116" filter="url(#speck)" opacity="0.2"/>
<path d="M-5.0 -11.5 C10.8 -11.5 10.8 -12.8 26.5 -12.8 C42.2 -12.8 42.2 -12.5 58.0 -12.5 C73.8 -12.5 73.8 -13.8 89.5 -13.8 C105.2 -13.8 105.2 -12.9 121.0 -12.9" stroke="#053a3e" stroke-width="4.5" opacity="0.7" filter="url(#blur1)" fill="none"/>
<path d="M-5.0 5.0 C10.8 5.0 10.8 5.9 26.5 5.9 C42.2 5.9 42.2 4.3 58.0 4.3 C73.8 4.3 73.8 4.1 89.5 4.1 C105.2 4.1 105.2 4.1 121.0 4.1" stroke="#053a3e" stroke-width="4.5" opacity="0.7" filter="url(#blur1)" fill="none"/>
<path d="M-5.0 22.4 C10.8 22.4 10.8 21.5 26.5 21.5 C42.2 21.5 42.2 20.9 58.0 20.9 C73.8 20.9 73.8 19.7 89.5 19.7 C105.2 19.7 105.2 20.3 121.0 20.3" stroke="#053a3e" stroke-width="4.5" opacity="0.7" filter="url(#blur1)" fill="none"/>
<path d="M-5.0 40.1 C10.8 40.1 10.8 38.2 26.5 38.2 C42.2 38.2 42.2 37.9 58.0 37.9 C73.8 37.9 73.8 38.3 89.5 38.3 C105.2 38.3 105.2 37.4 121.0 37.4" stroke="#053a3e" stroke-width="4.5" opacity="0.7" filter="url(#blur1)" fill="none"/>
<path d="M-5.0 56.2 C10.8 56.2 10.8 54.8 26.5 54.8 C42.2 54.8 42.2 55.2 58.0 55.2 C73.8 55.2 73.8 53.7 89.5 53.7 C105.2 53.7 105.2 53.4 121.0 53.4" stroke="#053a3e" stroke-width="4.5" opacity="0.7" filter="url(#blur1)" fill="none"/>
<path d="M-5.0 73.1 C10.8 73.1 10.8 72.0 26.5 72.0 C42.2 72.0 42.2 71.7 58.0 71.7 C73.8 71.7 73.8 71.0 89.5 71.0 C105.2 71.0 105.2 70.8 121.0 70.8" stroke="#053a3e" stroke-width="4.5" opacity="0.7" filter="url(#blur1)" fill="none"/>
<path d="M-5.0 90.0 C10.8 90.0 10.8 89.4 26.5 89.4 C42.2 89.4 42.2 88.9 58.0 88.9 C73.8 88.9 73.8 88.0 89.5 88.0 C105.2 88.0 105.2 87.6 121.0 87.6" stroke="#053a3e" stroke-width="4.5" opacity="0.7" filter="url(#blur1)" fill="none"/>
<path d="M-5.0 106.3 C10.8 106.3 10.8 105.7 26.5 105.7 C42.2 105.7 42.2 105.2 58.0 105.2 C73.8 105.2 73.8 104.8 89.5 104.8 C105.2 104.8 105.2 104.2 121.0 104.2" stroke="#053a3e" stroke-width="4.5" opacity="0.7" filter="url(#blur1)" fill="none"/>
<path d="M-5.0 123.4 C10.8 123.4 10.8 123.0 26.5 123.0 C42.2 123.0 42.2 122.1 58.0 122.1 C73.8 122.1 73.8 121.2 89.5 121.2 C105.2 121.2 105.2 121.3 121.0 121.3" stroke="#053a3e" stroke-width="4.5" opacity="0.7" filter="url(#blur1)" fill="none"/>
<rect width="42" height="28" fill="#20b0b8"/>
<text x="21" y="21.4" text-anchor="middle" font-family="'Liberation Serif', serif" font-weight="bold" font-size="18" fill="#111">N</text>
<text x="2" y="111" font-family="'Liberation Serif', serif" font-size="5.5" fill="#fff" fill-opacity="0.8">10 nm</text>
<rect x="1.5" y="112.8" width="16.5" height="0.9" fill="#fff" opacity="0.6"/>
</svg>
<svg x="866.0" y="360" width="116.6" height="115.6" viewBox="0 0 116.6 115.6" overflow="hidden">
<rect width="117.0" height="116" fill="#403e0a"/>
<path d="M-5.0 -12.0 C10.8 -12.0 10.8 -11.7 26.5 -11.7 C42.2 -11.7 42.2 -13.2 58.0 -13.2 C73.8 -13.2 73.8 -12.8 89.5 -12.8 C105.2 -12.8 105.2 -13.7 121.0 -13.7" stroke="#d0cc18" stroke-width="5" opacity="0.9" filter="url(#blur1)" fill="none"/>
<path d="M-5.0 5.2 C10.8 5.2 10.8 5.6 26.5 5.6 C42.2 5.6 42.2 3.7 58.0 3.7 C73.8 3.7 73.8 3.2 89.5 3.2 C105.2 3.2 105.2 4.1 121.0 4.1" stroke="#d0cc18" stroke-width="5" opacity="0.9" filter="url(#blur1)" fill="none"/>
<path d="M-5.0 22.4 C10.8 22.4 10.8 22.2 26.5 22.2 C42.2 22.2 42.2 20.2 58.0 20.2 C73.8 20.2 73.8 21.1 89.5 21.1 C105.2 21.1 105.2 20.3 121.0 20.3" stroke="#d0cc18" stroke-width="5" opacity="0.9" filter="url(#blur1)" fill="none"/>
<path d="M-5.0 38.4 C10.8 38.4 10.8 38.8 26.5 38.8 C42.2 38.8 42.2 38.1 58.0 38.1 C73.8 38.1 73.8 37.6 89.5 37.6 C105.2 37.6 105.2 37.0 121.0 37.0" stroke="#d0cc18" stroke-width="5" opacity="0.9" filter="url(#blur1)" fill="none"/>
<path d="M-5.0 56.0 C10.8 56.0 10.8 55.1 26.5 55.1 C42.2 55.1 42.2 55.3 58.0 55.3 C73.8 55.3 73.8 54.4 89.5 54.4 C105.2 54.4 105.2 53.3 121.0 53.3" stroke="#d0cc18" stroke-width="5" opacity="0.9" filter="url(#blur1)" fill="none"/>
<path d="M-5.0 72.7 C10.8 72.7 10.8 72.0 26.5 72.0 C42.2 72.0 42.2 71.3 58.0 71.3 C73.8 71.3 73.8 71.2 89.5 71.2 C105.2 71.2 105.2 70.2 121.0 70.2" stroke="#d0cc18" stroke-width="5" opacity="0.9" filter="url(#blur1)" fill="none"/>
<path d="M-5.0 89.5 C10.8 89.5 10.8 88.4 26.5 88.4 C42.2 88.4 42.2 88.5 58.0 88.5 C73.8 88.5 73.8 88.5 89.5 88.5 C105.2 88.5 105.2 88.2 121.0 88.2" stroke="#d0cc18" stroke-width="5" opacity="0.9" filter="url(#blur1)" fill="none"/>
<path d="M-5.0 106.5 C10.8 106.5 10.8 105.5 26.5 105.5 C42.2 105.5 42.2 105.7 58.0 105.7 C73.8 105.7 73.8 105.0 89.5 105.0 C105.2 105.0 105.2 103.9 121.0 103.9" stroke="#d0cc18" stroke-width="5" opacity="0.9" filter="url(#blur1)" fill="none"/>
<path d="M-5.0 123.8 C10.8 123.8 10.8 122.8 26.5 122.8 C42.2 122.8 42.2 122.8 58.0 122.8 C73.8 122.8 73.8 121.4 89.5 121.4 C105.2 121.4 105.2 121.4 121.0 121.4" stroke="#d0cc18" stroke-width="5" opacity="0.9" filter="url(#blur1)" fill="none"/>
<rect width="117.0" height="116" filter="url(#spO)" opacity="0.35"/>
<rect width="117.0" height="116" filter="url(#speck)" opacity="0.2"/>
<rect width="42" height="28" fill="#c4c010"/>
<text x="21" y="21.4" text-anchor="middle" font-family="'Liberation Serif', serif" font-weight="bold" font-size="18" fill="#111">O</text>
<text x="2" y="111" font-family="'Liberation Serif', serif" font-size="5.5" fill="#fff" fill-opacity="0.8">10 nm</text>
<rect x="1.5" y="112.8" width="16.5" height="0.9" fill="#fff" opacity="0.6"/>
</svg>
<svg x="0" y="0" width="1024" height="767" overflow="visible">
<clipPath id="cp0"><rect x="54.4" y="485.5" width="207.5" height="166.70000000000005"/></clipPath>
<g clip-path="url(#cp0)" fill="none" stroke-width="1.5" stroke-linejoin="round">
<polyline points="54.4,594.2 55.2,595.4 56.1,596.4 56.9,594.7 57.7,594.5 58.5,594.3 59.4,594.8 60.2,594.7 61.0,595.2 61.9,595.8 62.7,596.5 63.5,596.3 64.4,596.0 65.2,594.9 66.0,594.3 66.8,592.9 67.7,593.4 68.5,593.2 69.3,594.4 70.2,594.8 71.0,595.6 71.8,595.3 72.7,596.1 73.5,597.7 74.3,598.3 75.2,598.6 76.0,597.5 76.8,597.8 77.6,597.2 78.5,597.5 79.3,596.8 80.1,596.4 81.0,595.3 81.8,595.5 82.6,595.1 83.5,595.8 84.3,595.1 85.1,595.1 85.9,595.3 86.8,594.8 87.6,595.2 88.4,594.9 89.3,595.8 90.1,594.6 90.9,594.6 91.8,594.4 92.6,595.2 93.4,596.0 94.2,596.0 95.1,595.5 95.9,594.9 96.7,595.2 97.6,596.3 98.4,596.6 99.2,596.3 100.0,594.7 100.9,593.7 101.7,593.0 102.5,592.7 103.4,592.5 104.2,592.7 105.0,593.0 105.9,594.4 106.7,595.0 107.5,597.4 108.3,596.9 109.2,597.4 110.0,596.6 110.8,597.2 111.7,597.0 112.5,596.5 113.3,595.5 114.2,595.6 115.0,595.0 115.8,595.5 116.7,595.2 117.5,595.8 118.3,594.7 119.1,595.4 120.0,595.4 120.8,595.5 121.6,595.2 122.5,595.7 123.3,596.5 124.1,596.6 125.0,596.0 125.8,597.1 126.6,597.3 127.4,597.7 128.3,596.7 129.1,597.3 129.9,596.6 130.8,597.1 131.6,596.8 132.4,597.4 133.2,596.4 134.1,595.4 134.9,594.6 135.7,594.5 136.6,594.5 137.4,595.3 138.2,595.1 139.1,596.8 139.9,597.9 140.7,599.2 141.5,598.6 142.4,598.8 143.2,598.7 144.0,598.1 144.9,597.8 145.7,596.6 146.5,595.3 147.4,593.2 148.2,593.7 149.0,594.1 149.8,595.1 150.7,594.4 151.5,594.6 152.3,593.5 153.2,593.6 154.0,592.7 154.8,592.7 155.7,592.3 156.5,594.3 157.3,596.4 158.2,597.4 159.0,597.4 159.8,596.5 160.6,596.7 161.5,596.1 162.3,595.4 163.1,594.8 164.0,594.1 164.8,594.6 165.6,593.7 166.5,593.7 167.3,592.7 168.1,593.7 168.9,593.4 169.8,594.3 170.6,594.7 171.4,595.6 172.3,596.2 173.1,596.8 173.9,597.0 174.8,596.8 175.6,597.1 176.4,595.9 177.2,596.5 178.1,596.3 178.9,596.4 179.7,596.2 180.6,595.4 181.4,596.1 182.2,595.4 183.1,596.1 183.9,596.8 184.7,596.4 185.5,595.2 186.4,595.6 187.2,595.9 188.0,596.9 188.9,595.9 189.7,596.5 190.5,597.0 191.4,598.0 192.2,598.1 193.0,596.8 193.8,594.6 194.7,593.9 195.5,594.0 196.3,594.7 197.2,594.4 198.0,593.8 198.8,593.7 199.7,593.6 200.5,594.3 201.3,594.3 202.1,593.8 203.0,593.3 203.8,592.5 204.6,592.4 205.5,592.6 206.3,592.7 207.1,594.1 208.0,593.8 208.8,594.2 209.6,594.1 210.4,595.1 211.3,595.7 212.1,594.8 212.9,594.2 213.8,594.2 214.6,593.9 215.4,593.5 216.2,593.9 217.1,594.3 217.9,594.4 218.7,594.9 219.6,595.0 220.4,596.0 221.2,595.4 222.1,597.0 222.9,597.5 223.7,598.9 224.5,597.5 225.4,596.3 226.2,594.5 227.0,594.3 227.9,594.3 228.7,594.5 229.5,596.1 230.4,596.3 231.2,596.9 232.0,596.1 232.8,596.7 233.7,595.5 234.5,594.9 235.3,594.8 236.2,595.1 237.0,595.2 237.8,595.2 238.7,596.0 239.5,596.9 240.3,598.2 241.2,599.4 242.0,599.1 242.8,597.9 243.6,597.0 244.5,597.6 245.3,597.6 246.1,597.0 247.0,595.4 247.8,594.9 248.6,595.0 249.4,594.5 250.3,593.9 251.1,593.6 251.9,594.8 252.8,595.4 253.6,594.6 254.4,593.8 255.3,593.8 256.1,595.3 256.9,594.9 257.8,593.9 258.6,592.6 259.4,593.2 260.2,595.1 261.1,596.6 261.9,596.8" stroke="#e04854"/>
<polyline points="54.4,642.2 55.2,642.6 56.1,643.0 56.9,643.4 57.7,642.9 58.5,642.0 59.4,641.7 60.2,642.1 61.0,642.5 61.9,642.1 62.7,641.7 63.5,642.4 64.4,642.6 65.2,642.3 66.0,642.6 66.8,642.8 67.7,644.1 68.5,644.1 69.3,644.8 70.2,644.0 71.0,643.9 71.8,642.8 72.7,642.6 73.5,642.1 74.3,643.5 75.2,643.9 76.0,643.8 76.8,642.4 77.6,643.0 78.5,643.2 79.3,643.8 80.1,643.4 81.0,642.6 81.8,642.5 82.6,642.1 83.5,642.2 84.3,642.1 85.1,642.1 85.9,642.5 86.8,642.2 87.6,642.7 88.4,642.8 89.3,642.1 90.1,642.3 90.9,641.8 91.8,642.5 92.6,642.0 93.4,641.4 94.2,641.1 95.1,641.4 95.9,642.4 96.7,642.5 97.6,642.0 98.4,641.6 99.2,642.0 100.0,641.5 100.9,641.1 101.7,641.5 102.5,641.7 103.4,642.7 104.2,642.3 105.0,643.0 105.9,643.1 106.7,643.2 107.5,642.1 108.3,641.2 109.2,641.8 110.0,642.7 110.8,643.0 111.7,643.3 112.5,643.1 113.3,643.5 114.2,641.8 115.0,641.2 115.8,641.4 116.7,642.2 117.5,642.7 118.3,641.7 119.1,641.8 120.0,641.8 120.8,642.4 121.6,642.2 122.5,642.2 123.3,642.9 124.1,642.9 125.0,643.0 125.8,641.8 126.6,641.5 127.4,641.3 128.3,641.5 129.1,642.0 129.9,641.5 130.8,641.8 131.6,641.3 132.4,642.6 133.2,642.4 134.1,643.6 134.9,644.0 135.7,644.3 136.6,643.9 137.4,642.7 138.2,641.4 139.1,641.4 139.9,641.8 140.7,642.8 141.5,642.2 142.4,641.9 143.2,642.1 144.0,642.0 144.9,641.7 145.7,642.1 146.5,642.5 147.4,642.8 148.2,642.8 149.0,642.6 149.8,643.1 150.7,642.0 151.5,642.0 152.3,641.5 153.2,642.4 154.0,642.5 154.8,643.6 155.7,643.9 156.5,643.6 157.3,643.7 158.2,642.7 159.0,643.8 159.8,642.3 160.6,643.2 161.5,641.8 162.3,642.2 163.1,642.5 164.0,642.3 164.8,641.6 165.6,640.8 166.5,641.6 167.3,642.5 168.1,642.9 168.9,642.2 169.8,642.4 170.6,641.9 171.4,642.9 172.3,643.0 173.1,643.6 173.9,642.5 174.8,642.3 175.6,641.1 176.4,641.8 177.2,642.0 178.1,642.7 178.9,643.0 179.7,642.7 180.6,642.7 181.4,642.5 182.2,643.3 183.1,643.5 183.9,642.5 184.7,642.1 185.5,642.2 186.4,642.9 187.2,641.8 188.0,642.0 188.9,642.3 189.7,643.4 190.5,643.6 191.4,643.1 192.2,642.7 193.0,641.8 193.8,642.6 194.7,642.3 195.5,642.6 196.3,642.3 197.2,643.1 198.0,643.5 198.8,642.7 199.7,642.4 200.5,641.6 201.3,642.3 202.1,642.3 203.0,642.7 203.8,642.4 204.6,642.3 205.5,642.1 206.3,642.4 207.1,641.7 208.0,641.2 208.8,641.0 209.6,641.9 210.4,643.0 211.3,642.7 212.1,641.9 212.9,641.3 213.8,641.5 214.6,641.6 215.4,641.1 216.2,640.9 217.1,641.5 217.9,641.2 218.7,642.3 219.6,641.6 220.4,642.1 221.2,641.0 222.1,640.5 222.9,640.0 223.7,641.0 224.5,642.9 225.4,643.2 226.2,643.2 227.0,642.3 227.9,642.3 228.7,642.6 229.5,643.7 230.4,644.0 231.2,643.1 232.0,642.2 232.8,642.3 233.7,642.8 234.5,643.4 235.3,643.5 236.2,643.6 237.0,643.6 237.8,643.3 238.7,642.8 239.5,641.8 240.3,642.5 241.2,642.8 242.0,643.6 242.8,643.5 243.6,643.1 244.5,643.0 245.3,642.3 246.1,642.2 247.0,640.8 247.8,641.7 248.6,641.4 249.4,642.5 250.3,641.8 251.1,643.0 251.9,643.2 252.8,642.8 253.6,642.1 254.4,641.8 255.3,642.4 256.1,641.7 256.9,641.8 257.8,642.8 258.6,643.7 259.4,644.7 260.2,645.3 261.1,645.2 261.9,643.5" stroke="#2866c8"/>
<polyline points="54.4,537.0 55.2,536.2 56.1,537.1 56.9,537.8 57.7,538.1 58.5,536.3 59.4,536.9 60.2,536.1 61.0,536.2 61.9,534.4 62.7,535.0 63.5,535.6 64.4,538.4 65.2,537.6 66.0,539.4 66.8,537.5 67.7,538.9 68.5,537.6 69.3,538.3 70.2,538.2 71.0,537.3 71.8,537.1 72.7,536.1 73.5,538.2 74.3,538.7 75.2,540.9 76.0,539.4 76.8,540.8 77.6,540.2 78.5,540.1 79.3,539.2 80.1,538.0 81.0,537.9 81.8,536.3 82.6,536.8 83.5,538.1 84.3,540.0 85.1,541.3 85.9,540.4 86.8,539.1 87.6,539.1 88.4,539.3 89.3,539.6 90.1,538.8 90.9,537.9 91.8,537.1 92.6,535.3 93.4,535.8 94.2,536.3 95.1,537.9 95.9,538.6 96.7,538.7 97.6,538.9 98.4,537.2 99.2,537.3 100.0,535.7 100.9,535.9 101.7,534.5 102.5,534.8 103.4,534.4 104.2,534.2 105.0,535.2 105.9,536.1 106.7,536.9 107.5,537.8 108.3,536.7 109.2,537.0 110.0,536.6 110.8,535.6 111.7,534.9 112.5,534.9 113.3,535.4 114.2,536.2 115.0,535.4 115.8,538.0 116.7,538.5 117.5,540.7 118.3,541.5 119.1,541.6 120.0,540.0 120.8,537.5 121.6,534.7 122.5,535.0 123.3,534.9 124.1,537.4 125.0,537.3 125.8,539.7 126.6,540.9 127.4,541.7 128.3,541.7 129.1,540.6 129.9,540.2 130.8,538.0 131.6,537.5 132.4,536.6 133.2,536.7 134.1,536.7 134.9,537.3 135.7,538.7 136.6,539.6 137.4,539.2 138.2,538.7 139.1,538.1 139.9,537.8 140.7,538.0 141.5,537.2 142.4,538.1 143.2,536.4 144.0,536.6 144.9,535.7 145.7,536.7 146.5,537.3 147.4,538.0 148.2,537.9 149.0,537.7 149.8,537.8 150.7,537.7 151.5,538.2 152.3,535.7 153.2,535.6 154.0,534.1 154.8,533.7 155.7,532.4 156.5,532.8 157.3,534.4 158.2,535.6 159.0,534.7 159.8,535.1 160.6,535.5 161.5,535.4 162.3,534.7 163.1,533.9 164.0,534.3 164.8,535.5 165.6,537.1 166.5,540.1 167.3,540.3 168.1,539.4 168.9,538.8 169.8,537.8 170.6,537.9 171.4,536.7 172.3,536.9 173.1,537.0 173.9,537.2 174.8,537.3 175.6,537.6 176.4,537.1 177.2,537.1 178.1,538.2 178.9,538.6 179.7,540.0 180.6,539.6 181.4,539.7 182.2,538.7 183.1,538.1 183.9,537.7 184.7,537.9 185.5,538.2 186.4,538.8 187.2,538.3 188.0,538.4 188.9,537.4 189.7,538.1 190.5,540.0 191.4,541.3 192.2,539.8 193.0,537.0 193.8,536.4 194.7,537.8 195.5,536.7 196.3,535.9 197.2,535.2 198.0,536.4 198.8,536.6 199.7,536.9 200.5,538.1 201.3,538.3 202.1,538.2 203.0,536.6 203.8,535.8 204.6,535.2 205.5,536.7 206.3,536.0 207.1,535.4 208.0,533.9 208.8,535.7 209.6,536.8 210.4,537.9 211.3,537.6 212.1,537.7 212.9,536.7 213.8,537.1 214.6,537.0 215.4,535.8 216.2,534.3 217.1,533.8 217.9,535.1 218.7,537.4 219.6,537.9 220.4,537.3 221.2,538.1 222.1,537.7 222.9,540.0 223.7,538.6 224.5,538.7 225.4,537.7 226.2,538.4 227.0,538.7 227.9,537.6 228.7,537.6 229.5,537.5 230.4,539.3 231.2,538.2 232.0,539.2 232.8,538.3 233.7,538.6 234.5,537.9 235.3,536.2 236.2,534.6 237.0,534.2 237.8,535.7 238.7,538.4 239.5,539.7 240.3,540.1 241.2,539.7 242.0,539.3 242.8,539.2 243.6,538.4 244.5,538.7 245.3,538.8 246.1,537.9 247.0,536.2 247.8,535.9 248.6,536.1 249.4,537.6 250.3,537.9 251.1,540.5 251.9,539.7 252.8,539.4 253.6,536.9 254.4,536.3 255.3,535.4 256.1,535.3 256.9,534.4 257.8,534.3 258.6,534.6 259.4,535.7 260.2,535.5 261.1,535.3 261.9,534.5" stroke="#2ea266"/>
<polyline points="54.4,496.9 55.2,499.2 56.1,499.1 56.9,498.8 57.7,497.6 58.5,497.7 59.4,497.6 60.2,496.2 61.0,496.7 61.9,496.3 62.7,497.7 63.5,498.0 64.4,499.5 65.2,497.8 66.0,497.8 66.8,497.7 67.7,499.8 68.5,500.3 69.3,500.0 70.2,499.4 71.0,497.3 71.8,495.9 72.7,499.1 73.5,503.4 74.3,504.9 75.2,501.6 76.0,498.6 76.8,497.9 77.6,494.3 78.5,496.0 79.3,496.7 80.1,496.8 81.0,494.4 81.8,493.1 82.6,496.8 83.5,500.2 84.3,501.2 85.1,500.6 85.9,500.2 86.8,501.6 87.6,501.9 88.4,501.4 89.3,500.5 90.1,500.1 90.9,498.5 91.8,498.7 92.6,497.8 93.4,496.4 94.2,495.1 95.1,496.9 95.9,497.1 96.7,498.2 97.6,496.0 98.4,498.5 99.2,496.8 100.0,498.1 100.9,498.5 101.7,500.3 102.5,500.4 103.4,498.5 104.2,499.5 105.0,501.1 105.9,501.3 106.7,500.5 107.5,498.6 108.3,497.7 109.2,499.1 110.0,498.8 110.8,498.0 111.7,496.0 112.5,497.3 113.3,498.0 114.2,497.3 115.0,495.2 115.8,496.9 116.7,499.5 117.5,501.1 118.3,501.5 119.1,498.6 120.0,498.2 120.8,499.8 121.6,502.4 122.5,501.3 123.3,498.0 124.1,497.0 125.0,498.0 125.8,498.2 126.6,496.5 127.4,495.2 128.3,495.4 129.1,496.1 129.9,497.7 130.8,496.6 131.6,499.6 132.4,499.6 133.2,501.2 134.1,500.3 134.9,499.9 135.7,501.1 136.6,498.1 137.4,498.9 138.2,497.2 139.1,496.7 139.9,495.8 140.7,497.7 141.5,501.2 142.4,499.0 143.2,497.7 144.0,496.4 144.9,498.4 145.7,498.5 146.5,496.4 147.4,496.6 148.2,496.5 149.0,498.8 149.8,498.4 150.7,500.0 151.5,498.3 152.3,496.9 153.2,497.6 154.0,501.9 154.8,503.1 155.7,497.5 156.5,495.4 157.3,497.8 158.2,500.4 159.0,500.0 159.8,498.8 160.6,500.0 161.5,498.0 162.3,497.8 163.1,496.9 164.0,497.9 164.8,498.6 165.6,499.6 166.5,501.0 167.3,500.1 168.1,501.5 168.9,501.9 169.8,500.1 170.6,498.7 171.4,497.3 172.3,498.5 173.1,498.8 173.9,498.7 174.8,498.6 175.6,497.4 176.4,498.4 177.2,497.7 178.1,498.8 178.9,498.6 179.7,501.0 180.6,500.8 181.4,497.3 182.2,497.8 183.1,497.2 183.9,502.5 184.7,501.0 185.5,500.2 186.4,497.7 187.2,498.7 188.0,499.6 188.9,498.4 189.7,496.6 190.5,494.1 191.4,494.6 192.2,496.1 193.0,498.7 193.8,498.9 194.7,497.7 195.5,497.5 196.3,497.2 197.2,499.7 198.0,498.6 198.8,499.9 199.7,499.5 200.5,500.0 201.3,497.6 202.1,495.5 203.0,496.2 203.8,499.2 204.6,495.9 205.5,494.7 206.3,494.8 207.1,499.6 208.0,500.5 208.8,500.8 209.6,499.4 210.4,500.0 211.3,496.2 212.1,495.0 212.9,498.1 213.8,499.8 214.6,503.4 215.4,498.3 216.2,498.3 217.1,495.6 217.9,498.8 218.7,496.8 219.6,495.0 220.4,495.2 221.2,497.3 222.1,500.9 222.9,499.4 223.7,501.4 224.5,497.7 225.4,498.7 226.2,497.1 227.0,498.8 227.9,498.2 228.7,498.1 229.5,499.5 230.4,499.0 231.2,500.4 232.0,500.4 232.8,500.7 233.7,499.7 234.5,499.2 235.3,499.4 236.2,498.0 237.0,498.5 237.8,498.2 238.7,500.1 239.5,500.3 240.3,501.7 241.2,500.0 242.0,500.6 242.8,499.8 243.6,499.8 244.5,497.6 245.3,497.0 246.1,500.2 247.0,500.2 247.8,499.5 248.6,498.8 249.4,498.6 250.3,500.2 251.1,500.1 251.9,501.2 252.8,500.7 253.6,498.9 254.4,501.2 255.3,498.4 256.1,499.2 256.9,498.9 257.8,500.2 258.6,499.6 259.4,496.8 260.2,498.0 261.1,497.5 261.9,497.6" stroke="#d0a42a"/>
</g>
<rect x="54.4" y="485.5" width="207.5" height="166.70000000000005" fill="none" stroke="#000" stroke-width="1.3"/>
<path d="M54.4 652.2 v-3 M54.4 652.2 h3 M75.2 652.2 v-2 M54.4 635.5 h2 M95.9 652.2 v-3 M54.4 618.9 h3 M116.7 652.2 v-2 M54.4 602.2 h2 M137.4 652.2 v-3 M54.4 585.5 h3 M158.2 652.2 v-2 M54.4 568.9 h2 M178.9 652.2 v-3 M54.4 552.2 h3 M199.7 652.2 v-2 M54.4 535.5 h2 M220.4 652.2 v-3 M54.4 518.8 h3 M241.2 652.2 v-2 M54.4 502.2 h2 M261.9 652.2 v-3 M54.4 485.5 h3" stroke="#000" stroke-width="1"/>
<text x="54.4" y="661.0" text-anchor="middle" font-family="'Liberation Serif', serif" font-weight="bold" font-size="6.8">0</text>
<text x="50.4" y="654.6" text-anchor="end" font-family="'Liberation Serif', serif" font-weight="bold" font-size="6.8">0</text>
<text x="95.9" y="661.0" text-anchor="middle" font-family="'Liberation Serif', serif" font-weight="bold" font-size="6.8">10</text>
<text x="50.4" y="621.3" text-anchor="end" font-family="'Liberation Serif', serif" font-weight="bold" font-size="6.8">10</text>
<text x="137.4" y="661.0" text-anchor="middle" font-family="'Liberation Serif', serif" font-weight="bold" font-size="6.8">20</text>
<text x="50.4" y="587.9" text-anchor="end" font-family="'Liberation Serif', serif" font-weight="bold" font-size="6.8">20</text>
<text x="178.9" y="661.0" text-anchor="middle" font-family="'Liberation Serif', serif" font-weight="bold" font-size="6.8">30</text>
<text x="50.4" y="554.6" text-anchor="end" font-family="'Liberation Serif', serif" font-weight="bold" font-size="6.8">30</text>
<text x="220.4" y="661.0" text-anchor="middle" font-family="'Liberation Serif', serif" font-weight="bold" font-size="6.8">40</text>
<text x="50.4" y="521.2" text-anchor="end" font-family="'Liberation Serif', serif" font-weight="bold" font-size="6.8">40</text>
<text x="261.9" y="661.0" text-anchor="middle" font-family="'Liberation Serif', serif" font-weight="bold" font-size="6.8">50</text>
<text x="50.4" y="487.9" text-anchor="end" font-family="'Liberation Serif', serif" font-weight="bold" font-size="6.8">50</text>
<text x="157.85" y="680.1" text-anchor="middle" font-family="'Liberation Serif', serif" font-weight="bold" font-size="14.2">Position (nm)</text>
<text transform="translate(33.9 568.5) rotate(-90)" text-anchor="middle" font-family="'Liberation Serif', serif" font-weight="bold" font-size="14.1">Atomic fractionn (%)</text>
<line x1="58.4" y1="494.0" x2="90.4" y2="494.0" stroke="#2ea266" stroke-width="1.5"/>
<text x="93.9" y="498.8" font-family="'Liberation Serif', serif" font-size="14">Al</text>
<line x1="111.1" y1="494.0" x2="143.1" y2="494.0" stroke="#e04854" stroke-width="1.5"/>
<text x="146.6" y="498.8" font-family="'Liberation Serif', serif" font-size="14">Cr</text>
<line x1="164.3" y1="494.0" x2="196.3" y2="494.0" stroke="#2866c8" stroke-width="1.5"/>
<text x="199.8" y="498.8" font-family="'Liberation Serif', serif" font-size="14">O</text>
<line x1="213.0" y1="494.0" x2="245.0" y2="494.0" stroke="#d0a42a" stroke-width="1.5"/>
<text x="248.5" y="498.8" font-family="'Liberation Serif', serif" font-size="14">N</text>
</svg>
<svg x="0" y="0" width="1024" height="767" overflow="visible">
<clipPath id="cp1"><rect x="294.6" y="485.5" width="207.5" height="166.70000000000005"/></clipPath>
<g clip-path="url(#cp1)" fill="none" stroke-width="1.5" stroke-linejoin="round">
<polyline points="294.6,598.0 295.4,597.3 296.3,596.2 297.1,595.8 297.9,596.3 298.8,596.0 299.6,596.9 300.4,594.9 301.2,595.3 302.1,595.5 302.9,596.9 303.7,597.4 304.6,597.0 305.4,596.4 306.2,596.2 307.1,595.3 307.9,595.6 308.7,595.9 309.5,597.6 310.4,598.8 311.2,598.4 312.0,596.9 312.9,595.0 313.7,595.4 314.5,595.7 315.4,597.0 316.2,596.9 317.0,598.3 317.8,597.4 318.7,597.7 319.5,596.4 320.3,596.8 321.2,596.3 322.0,597.3 322.8,596.8 323.7,596.7 324.5,595.6 325.3,596.9 326.1,598.3 327.0,599.5 327.8,599.0 328.6,597.8 329.5,597.1 330.3,595.8 331.1,595.7 332.0,594.8 332.8,595.5 333.6,596.5 334.4,596.7 335.3,597.1 336.1,597.3 336.9,597.6 337.8,597.2 338.6,595.8 339.4,595.6 340.2,597.0 341.1,597.6 341.9,598.5 342.7,597.5 343.6,597.1 344.4,596.0 345.2,595.4 346.1,595.8 346.9,595.8 347.7,595.2 348.6,594.4 349.4,595.8 350.2,597.3 351.0,597.7 351.9,598.0 352.7,597.9 353.5,598.8 354.4,597.6 355.2,597.3 356.0,596.6 356.9,597.9 357.7,598.1 358.5,598.3 359.3,597.8 360.2,597.1 361.0,597.0 361.8,597.2 362.7,597.3 363.5,595.7 364.3,593.9 365.2,593.9 366.0,593.8 366.8,595.0 367.6,594.2 368.5,594.3 369.3,594.3 370.1,595.4 371.0,597.5 371.8,598.0 372.6,598.0 373.5,597.9 374.3,597.2 375.1,597.3 375.9,596.4 376.8,595.9 377.6,594.8 378.4,594.7 379.3,594.5 380.1,594.7 380.9,595.0 381.8,596.1 382.6,598.6 383.4,598.2 384.2,597.4 385.1,595.9 385.9,595.1 386.7,595.1 387.6,595.0 388.4,596.4 389.2,597.9 390.1,598.2 390.9,597.7 391.7,597.1 392.5,597.1 393.4,597.5 394.2,596.9 395.0,597.6 395.9,597.4 396.7,597.7 397.5,596.2 398.4,595.5 399.2,595.6 400.0,596.3 400.8,597.5 401.7,596.7 402.5,596.1 403.3,595.4 404.2,596.7 405.0,597.9 405.8,597.4 406.7,597.1 407.5,596.2 408.3,595.7 409.1,596.6 410.0,597.2 410.8,597.9 411.6,596.4 412.5,596.4 413.3,596.6 414.1,597.3 415.0,597.1 415.8,596.9 416.6,596.6 417.4,595.7 418.3,595.8 419.1,595.1 419.9,596.4 420.8,596.5 421.6,598.3 422.4,598.8 423.2,599.8 424.1,598.4 424.9,597.2 425.7,597.3 426.6,596.8 427.4,596.2 428.2,595.2 429.1,596.1 429.9,596.6 430.7,597.1 431.6,595.5 432.4,595.8 433.2,595.2 434.0,597.0 434.9,597.4 435.7,598.0 436.5,597.9 437.4,598.5 438.2,598.8 439.0,599.7 439.9,598.5 440.7,598.4 441.5,598.4 442.3,598.5 443.2,598.4 444.0,597.8 444.8,597.3 445.7,596.2 446.5,595.9 447.3,595.5 448.2,596.0 449.0,596.5 449.8,598.5 450.6,598.3 451.5,597.5 452.3,596.9 453.1,595.8 454.0,595.5 454.8,594.6 455.6,596.5 456.5,597.0 457.3,597.3 458.1,597.8 458.9,597.9 459.8,598.2 460.6,597.8 461.4,597.4 462.3,595.8 463.1,594.1 463.9,594.9 464.8,596.3 465.6,596.2 466.4,596.3 467.2,596.2 468.1,597.1 468.9,596.8 469.7,596.2 470.6,597.3 471.4,596.8 472.2,597.6 473.1,596.7 473.9,598.3 474.7,598.1 475.5,598.1 476.4,598.8 477.2,599.7 478.0,600.0 478.9,598.8 479.7,598.2 480.5,597.9 481.4,596.3 482.2,595.3 483.0,594.8 483.8,595.0 484.7,594.4 485.5,594.2 486.3,596.0 487.2,597.2 488.0,596.8 488.8,596.8 489.6,597.2 490.5,597.5 491.3,596.2 492.1,595.5 493.0,595.7 493.8,596.4 494.6,597.1 495.5,596.5 496.3,595.8 497.1,595.7 498.0,596.8 498.8,596.7 499.6,596.0 500.4,596.2 501.3,598.1 502.1,598.8" stroke="#e04854"/>
<polyline points="294.6,634.4 295.4,634.4 296.3,635.4 297.1,636.3 297.9,634.6 298.8,633.5 299.6,631.3 300.4,632.4 301.2,629.7 302.1,629.1 302.9,625.2 303.7,625.1 304.6,623.6 305.4,621.8 306.2,618.9 307.1,616.5 307.9,614.8 308.7,612.5 309.5,610.7 310.4,609.5 311.2,607.2 312.0,604.6 312.9,602.5 313.7,601.3 314.5,598.8 315.4,596.0 316.2,594.7 317.0,592.6 317.8,589.2 318.7,586.8 319.5,586.6 320.3,586.4 321.2,585.2 322.0,584.9 322.8,586.2 323.7,588.5 324.5,592.0 325.3,597.8 326.1,603.4 327.0,608.1 327.8,611.5 328.6,617.8 329.5,623.1 330.3,628.7 331.1,632.3 332.0,634.2 332.8,634.9 333.6,635.6 334.4,635.5 335.3,636.1 336.1,635.4 336.9,636.6 337.8,636.7 338.6,638.6 339.4,638.4 340.2,638.7 341.1,639.0 341.9,639.1 342.7,639.7 343.6,637.1 344.4,637.6 345.2,637.0 346.1,637.0 346.9,637.0 347.7,635.8 348.6,635.6 349.4,633.5 350.2,633.7 351.0,631.6 351.9,630.4 352.7,628.8 353.5,627.8 354.4,625.7 355.2,622.2 356.0,622.4 356.9,620.7 357.7,619.8 358.5,616.2 359.3,615.5 360.2,612.3 361.0,610.8 361.8,606.8 362.7,604.1 363.5,601.7 364.3,599.9 365.2,599.8 366.0,595.6 366.8,591.6 367.6,586.4 368.5,586.3 369.3,586.6 370.1,586.4 371.0,582.1 371.8,580.4 372.6,581.2 373.5,582.2 374.3,583.3 375.1,585.0 375.9,589.3 376.8,593.3 377.6,597.8 378.4,602.7 379.3,608.7 380.1,615.5 380.9,620.8 381.8,623.9 382.6,626.6 383.4,630.5 384.2,632.9 385.1,634.1 385.9,632.3 386.7,634.5 387.6,636.1 388.4,639.9 389.2,639.0 390.1,636.4 390.9,635.8 391.7,637.7 392.5,639.5 393.4,639.4 394.2,638.9 395.0,639.6 395.9,638.4 396.7,636.9 397.5,636.2 398.4,635.1 399.2,636.0 400.0,635.2 400.8,637.4 401.7,637.6 402.5,636.3 403.3,633.9 404.2,631.0 405.0,630.0 405.8,626.9 406.7,625.1 407.5,623.1 408.3,622.6 409.1,622.1 410.0,621.6 410.8,619.8 411.6,617.8 412.5,615.3 413.3,612.4 414.1,608.6 415.0,605.8 415.8,604.9 416.6,602.7 417.4,599.7 418.3,594.5 419.1,591.7 419.9,590.4 420.8,590.2 421.6,587.2 422.4,584.5 423.2,581.0 424.1,580.1 424.9,581.1 425.7,582.3 426.6,584.5 427.4,585.3 428.2,588.4 429.1,592.9 429.9,598.2 430.7,605.3 431.6,611.0 432.4,617.0 433.2,620.3 434.0,624.8 434.9,627.2 435.7,629.5 436.5,631.2 437.4,633.3 438.2,635.4 439.0,637.0 439.9,638.2 440.7,639.2 441.5,638.7 442.3,638.7 443.2,637.7 444.0,639.3 444.8,638.4 445.7,639.6 446.5,638.8 447.3,639.6 448.2,639.2 449.0,638.0 449.8,637.9 450.6,638.0 451.5,638.5 452.3,636.2 453.1,634.5 454.0,634.0 454.8,634.3 455.6,634.8 456.5,630.9 457.3,631.1 458.1,627.8 458.9,627.4 459.8,625.7 460.6,624.0 461.4,621.7 462.3,617.9 463.1,615.8 463.9,613.6 464.8,611.5 465.6,609.1 466.4,607.7 467.2,604.9 468.1,603.7 468.9,600.6 469.7,599.4 470.6,597.5 471.4,595.9 472.2,592.1 473.1,588.7 473.9,588.2 474.7,588.1 475.5,588.7 476.4,587.9 477.2,588.3 478.0,590.7 478.9,592.3 479.7,596.4 480.5,598.8 481.4,604.9 482.2,610.2 483.0,615.4 483.8,618.1 484.7,619.6 485.5,622.6 486.3,625.8 487.2,630.3 488.0,634.3 488.8,636.9 489.6,637.5 490.5,637.1 491.3,637.6 492.1,638.0 493.0,638.7 493.8,640.5 494.6,641.4 495.5,640.9 496.3,639.9 497.1,638.8 498.0,637.0 498.8,637.1 499.6,637.3 500.4,638.1 501.3,637.0 502.1,636.7" stroke="#2866c8"/>
<polyline points="294.6,534.1 295.4,537.4 296.3,536.6 297.1,533.9 297.9,531.5 298.8,531.0 299.6,531.6 300.4,532.2 301.2,530.8 302.1,532.7 302.9,532.3 303.7,532.2 304.6,531.8 305.4,532.4 306.2,536.0 307.1,536.0 307.9,538.4 308.7,539.0 309.5,538.1 310.4,536.2 311.2,536.3 312.0,538.1 312.9,538.3 313.7,538.2 314.5,538.5 315.4,540.9 316.2,540.8 317.0,542.4 317.8,540.8 318.7,541.8 319.5,542.2 320.3,543.0 321.2,544.1 322.0,542.4 322.8,542.1 323.7,539.9 324.5,541.1 325.3,538.5 326.1,538.4 327.0,535.2 327.8,535.2 328.6,534.7 329.5,534.6 330.3,534.7 331.1,532.7 332.0,531.3 332.8,530.0 333.6,529.3 334.4,531.6 335.3,532.0 336.1,532.8 336.9,530.5 337.8,531.2 338.6,530.6 339.4,531.3 340.2,532.0 341.1,533.4 341.9,533.4 342.7,532.9 343.6,533.6 344.4,533.1 345.2,531.9 346.1,531.0 346.9,531.7 347.7,532.6 348.6,532.9 349.4,533.8 350.2,533.1 351.0,531.8 351.9,532.1 352.7,532.8 353.5,534.4 354.4,535.5 355.2,536.0 356.0,534.9 356.9,534.9 357.7,534.5 358.5,536.6 359.3,534.9 360.2,535.2 361.0,535.3 361.8,539.0 362.7,541.0 363.5,542.3 364.3,542.1 365.2,542.0 366.0,540.3 366.8,540.0 367.6,541.1 368.5,544.0 369.3,544.4 370.1,545.5 371.0,544.2 371.8,544.5 372.6,543.1 373.5,543.4 374.3,542.8 375.1,541.6 375.9,540.3 376.8,539.6 377.6,539.4 378.4,538.4 379.3,535.6 380.1,534.3 380.9,532.4 381.8,533.6 382.6,533.4 383.4,535.3 384.2,533.5 385.1,534.0 385.9,534.0 386.7,533.5 387.6,532.7 388.4,531.7 389.2,531.8 390.1,532.0 390.9,530.6 391.7,531.4 392.5,530.3 393.4,530.1 394.2,529.8 395.0,528.7 395.9,530.3 396.7,530.8 397.5,532.5 398.4,531.5 399.2,531.3 400.0,532.0 400.8,532.2 401.7,530.8 402.5,531.0 403.3,532.9 404.2,534.7 405.0,534.0 405.8,534.0 406.7,534.1 407.5,536.7 408.3,536.3 409.1,536.5 410.0,534.3 410.8,534.4 411.6,534.2 412.5,536.2 413.3,536.4 414.1,539.4 415.0,539.6 415.8,539.3 416.6,537.5 417.4,539.3 418.3,540.8 419.1,542.5 419.9,541.8 420.8,542.2 421.6,542.2 422.4,540.8 423.2,543.0 424.1,543.7 424.9,544.9 425.7,545.0 426.6,543.1 427.4,541.2 428.2,539.5 429.1,539.3 429.9,540.1 430.7,537.9 431.6,537.7 432.4,535.5 433.2,536.1 434.0,533.4 434.9,533.3 435.7,529.6 436.5,532.0 437.4,532.0 438.2,535.0 439.0,533.3 439.9,532.5 440.7,532.0 441.5,533.3 442.3,535.3 443.2,534.4 444.0,531.6 444.8,529.2 445.7,529.1 446.5,531.3 447.3,532.5 448.2,534.0 449.0,534.8 449.8,533.5 450.6,532.4 451.5,530.6 452.3,532.3 453.1,531.1 454.0,530.2 454.8,530.6 455.6,532.1 456.5,534.8 457.3,532.8 458.1,532.0 458.9,531.7 459.8,531.2 460.6,532.6 461.4,533.9 462.3,538.6 463.1,539.2 463.9,538.3 464.8,537.3 465.6,537.4 466.4,536.9 467.2,536.9 468.1,536.7 468.9,536.9 469.7,536.7 470.6,538.4 471.4,539.8 472.2,540.5 473.1,538.7 473.9,539.6 474.7,541.5 475.5,543.1 476.4,542.5 477.2,541.4 478.0,540.7 478.9,540.4 479.7,538.1 480.5,538.9 481.4,538.6 482.2,538.7 483.0,537.3 483.8,535.0 484.7,534.2 485.5,533.1 486.3,532.2 487.2,531.4 488.0,529.7 488.8,529.8 489.6,530.3 490.5,531.4 491.3,532.0 492.1,532.8 493.0,532.8 493.8,531.7 494.6,530.3 495.5,530.9 496.3,529.7 497.1,531.2 498.0,530.1 498.8,531.6 499.6,529.4 500.4,530.6 501.3,531.5 502.1,532.9" stroke="#2ea266"/>
<polyline points="294.6,509.9 295.4,508.6 296.3,506.8 297.1,508.1 297.9,511.0 298.8,515.4 299.6,516.0 300.4,513.6 301.2,514.4 302.1,514.4 302.9,520.9 303.7,520.7 304.6,523.4 305.4,520.2 306.2,521.4 307.1,520.9 307.9,524.3 308.7,526.4 309.5,528.3 310.4,529.7 311.2,532.8 312.0,535.7 312.9,537.4 313.7,538.2 314.5,539.9 315.4,541.7 316.2,540.8 317.0,543.7 317.8,544.4 318.7,548.0 319.5,547.2 320.3,550.3 321.2,551.1 322.0,551.3 322.8,548.9 323.7,547.7 324.5,544.5 325.3,538.1 326.1,532.4 327.0,529.4 327.8,527.7 328.6,523.4 329.5,518.2 330.3,514.6 331.1,512.5 332.0,514.3 332.8,515.1 333.6,513.6 334.4,511.9 335.3,510.5 336.1,510.4 336.9,509.5 337.8,508.4 338.6,506.2 339.4,504.6 340.2,504.7 341.1,505.3 341.9,504.1 342.7,504.9 343.6,508.1 344.4,509.5 345.2,510.8 346.1,512.2 346.9,513.5 347.7,512.4 348.6,510.0 349.4,512.2 350.2,514.8 351.0,517.6 351.9,517.3 352.7,516.7 353.5,516.5 354.4,516.7 355.2,519.0 356.0,518.8 356.9,522.6 357.7,524.7 358.5,527.7 359.3,525.9 360.2,526.1 361.0,526.9 361.8,530.0 362.7,532.1 363.5,536.7 364.3,539.9 365.2,540.3 366.0,540.5 366.8,544.1 367.6,547.0 368.5,548.0 369.3,546.3 370.1,547.6 371.0,549.6 371.8,552.7 372.6,551.6 373.5,551.9 374.3,550.5 375.1,550.8 375.9,550.1 376.8,546.6 377.6,542.3 378.4,536.5 379.3,531.3 380.1,526.4 380.9,521.5 381.8,517.9 382.6,516.0 383.4,513.8 384.2,513.0 385.1,509.9 385.9,511.6 386.7,510.0 387.6,513.0 388.4,508.0 389.2,508.4 390.1,507.0 390.9,509.0 391.7,509.8 392.5,509.1 393.4,508.4 394.2,508.7 395.0,510.9 395.9,512.0 396.7,512.1 397.5,507.4 398.4,509.0 399.2,508.4 400.0,511.9 400.8,511.3 401.7,511.7 402.5,510.8 403.3,511.1 404.2,513.4 405.0,517.9 405.8,519.6 406.7,519.4 407.5,519.0 408.3,520.2 409.1,520.7 410.0,520.5 410.8,522.0 411.6,523.0 412.5,527.9 413.3,530.9 414.1,535.1 415.0,535.1 415.8,535.8 416.6,536.8 417.4,537.7 418.3,539.6 419.1,541.7 419.9,542.8 420.8,542.9 421.6,546.8 422.4,550.2 423.2,552.0 424.1,553.0 424.9,552.2 425.7,553.4 426.6,551.5 427.4,552.0 428.2,548.8 429.1,543.6 429.9,537.6 430.7,533.7 431.6,529.9 432.4,525.3 433.2,520.2 434.0,516.0 434.9,514.1 435.7,512.6 436.5,511.6 437.4,512.2 438.2,511.9 439.0,512.4 439.9,513.3 440.7,514.4 441.5,511.3 442.3,509.8 443.2,511.2 444.0,513.2 444.8,511.0 445.7,507.7 446.5,507.2 447.3,508.7 448.2,509.0 449.0,508.7 449.8,507.1 450.6,506.8 451.5,506.6 452.3,507.9 453.1,509.3 454.0,510.6 454.8,511.6 455.6,512.0 456.5,514.1 457.3,514.6 458.1,517.0 458.9,520.4 459.8,522.6 460.6,520.9 461.4,521.6 462.3,522.1 463.1,525.7 463.9,525.4 464.8,526.9 465.6,529.5 466.4,531.8 467.2,534.8 468.1,534.9 468.9,537.2 469.7,538.5 470.6,539.3 471.4,538.8 472.2,540.5 473.1,544.7 473.9,546.2 474.7,546.9 475.5,545.3 476.4,544.4 477.2,544.6 478.0,543.4 478.9,545.3 479.7,542.1 480.5,540.6 481.4,532.7 482.2,527.6 483.0,523.5 483.8,521.0 484.7,522.0 485.5,518.3 486.3,517.4 487.2,512.2 488.0,510.9 488.8,510.5 489.6,511.2 490.5,510.3 491.3,512.2 492.1,511.9 493.0,511.9 493.8,508.2 494.6,509.0 495.5,509.9 496.3,511.1 497.1,509.1 498.0,508.8 498.8,507.9 499.6,511.0 500.4,512.3 501.3,514.1 502.1,511.1" stroke="#d0a42a"/>
</g>
<rect x="294.6" y="485.5" width="207.5" height="166.70000000000005" fill="none" stroke="#000" stroke-width="1.3"/>
<path d="M294.6 652.2 v-3 M294.6 652.2 h3 M315.4 652.2 v-2 M294.6 635.5 h2 M336.1 652.2 v-3 M294.6 618.9 h3 M356.9 652.2 v-2 M294.6 602.2 h2 M377.6 652.2 v-3 M294.6 585.5 h3 M398.4 652.2 v-2 M294.6 568.9 h2 M419.1 652.2 v-3 M294.6 552.2 h3 M439.9 652.2 v-2 M294.6 535.5 h2 M460.6 652.2 v-3 M294.6 518.8 h3 M481.4 652.2 v-2 M294.6 502.2 h2 M502.1 652.2 v-3 M294.6 485.5 h3" stroke="#000" stroke-width="1"/>
<text x="294.6" y="661.0" text-anchor="middle" font-family="'Liberation Serif', serif" font-weight="bold" font-size="6.8">0</text>
<text x="290.6" y="654.6" text-anchor="end" font-family="'Liberation Serif', serif" font-weight="bold" font-size="6.8">0</text>
<text x="336.1" y="661.0" text-anchor="middle" font-family="'Liberation Serif', serif" font-weight="bold" font-size="6.8">10</text>
<text x="290.6" y="621.3" text-anchor="end" font-family="'Liberation Serif', serif" font-weight="bold" font-size="6.8">10</text>
<text x="377.6" y="661.0" text-anchor="middle" font-family="'Liberation Serif', serif" font-weight="bold" font-size="6.8">20</text>
<text x="290.6" y="587.9" text-anchor="end" font-family="'Liberation Serif', serif" font-weight="bold" font-size="6.8">20</text>
<text x="419.1" y="661.0" text-anchor="middle" font-family="'Liberation Serif', serif" font-weight="bold" font-size="6.8">30</text>
<text x="290.6" y="554.6" text-anchor="end" font-family="'Liberation Serif', serif" font-weight="bold" font-size="6.8">30</text>
<text x="460.6" y="661.0" text-anchor="middle" font-family="'Liberation Serif', serif" font-weight="bold" font-size="6.8">40</text>
<text x="290.6" y="521.2" text-anchor="end" font-family="'Liberation Serif', serif" font-weight="bold" font-size="6.8">40</text>
<text x="502.1" y="661.0" text-anchor="middle" font-family="'Liberation Serif', serif" font-weight="bold" font-size="6.8">50</text>
<text x="290.6" y="487.9" text-anchor="end" font-family="'Liberation Serif', serif" font-weight="bold" font-size="6.8">50</text>
<text x="398.05" y="680.1" text-anchor="middle" font-family="'Liberation Serif', serif" font-weight="bold" font-size="14.2">Position (nm)</text>
<text transform="translate(274.1 568.5) rotate(-90)" text-anchor="middle" font-family="'Liberation Serif', serif" font-weight="bold" font-size="14.1">Atomic fractionn (%)</text>
<line x1="298.6" y1="494.0" x2="330.6" y2="494.0" stroke="#2ea266" stroke-width="1.5"/>
<text x="334.1" y="498.8" font-family="'Liberation Serif', serif" font-size="14">Al</text>
<line x1="351.3" y1="494.0" x2="383.3" y2="494.0" stroke="#e04854" stroke-width="1.5"/>
<text x="386.8" y="498.8" font-family="'Liberation Serif', serif" font-size="14">Cr</text>
<line x1="404.5" y1="494.0" x2="436.5" y2="494.0" stroke="#2866c8" stroke-width="1.5"/>
<text x="440.0" y="498.8" font-family="'Liberation Serif', serif" font-size="14">O</text>
<line x1="453.2" y1="494.0" x2="485.2" y2="494.0" stroke="#d0a42a" stroke-width="1.5"/>
<text x="488.7" y="498.8" font-family="'Liberation Serif', serif" font-size="14">N</text>
</svg>
<svg x="0" y="0" width="1024" height="767" overflow="visible">
<clipPath id="cp2"><rect x="534.6" y="485.5" width="207.5" height="166.70000000000005"/></clipPath>
<g clip-path="url(#cp2)" fill="none" stroke-width="1.5" stroke-linejoin="round">
<polyline points="534.6,599.0 535.4,600.1 536.3,600.3 537.1,599.1 537.9,598.0 538.8,598.5 539.6,597.3 540.4,598.8 541.2,598.1 542.1,598.5 542.9,597.2 543.7,597.8 544.6,597.1 545.4,597.3 546.2,597.3 547.1,598.5 547.9,599.2 548.7,597.7 549.5,598.9 550.4,597.8 551.2,600.0 552.0,598.3 552.9,598.9 553.7,596.6 554.5,598.4 555.4,600.6 556.2,602.9 557.0,602.2 557.8,598.4 558.7,596.4 559.5,594.8 560.3,597.3 561.2,598.4 562.0,600.1 562.8,598.6 563.6,598.9 564.5,599.1 565.3,598.8 566.1,598.9 567.0,598.4 567.8,600.6 568.6,599.6 569.5,598.5 570.3,596.1 571.1,597.2 572.0,600.3 572.8,601.2 573.6,598.9 574.4,597.6 575.3,598.1 576.1,599.6 576.9,600.7 577.8,603.0 578.6,602.8 579.4,600.2 580.2,599.0 581.1,599.2 581.9,600.5 582.7,600.4 583.6,601.6 584.4,600.2 585.2,599.6 586.1,598.8 586.9,600.1 587.7,599.5 588.6,599.4 589.4,598.4 590.2,599.1 591.0,598.1 591.9,598.5 592.7,597.5 593.5,599.4 594.4,600.1 595.2,602.0 596.0,599.3 596.9,599.1 597.7,597.9 598.5,600.4 599.3,600.4 600.2,601.5 601.0,599.8 601.8,599.8 602.7,597.2 603.5,598.2 604.3,596.9 605.2,598.8 606.0,597.9 606.8,599.8 607.6,599.7 608.5,600.2 609.3,599.8 610.1,599.0 611.0,600.0 611.8,599.4 612.6,600.1 613.5,599.0 614.3,600.2 615.1,599.8 615.9,601.0 616.8,600.7 617.6,602.1 618.4,601.4 619.3,600.2 620.1,596.4 620.9,598.0 621.8,597.3 622.6,598.9 623.4,595.4 624.2,596.2 625.1,596.8 625.9,596.9 626.7,597.2 627.6,597.5 628.4,599.0 629.2,598.4 630.1,596.7 630.9,597.1 631.7,596.2 632.5,599.7 633.4,598.6 634.2,600.2 635.0,597.4 635.9,597.5 636.7,596.8 637.5,597.7 638.4,598.1 639.2,600.5 640.0,600.4 640.8,601.6 641.7,598.5 642.5,599.1 643.3,597.9 644.2,599.3 645.0,598.9 645.8,599.0 646.7,598.4 647.5,599.8 648.3,598.6 649.1,599.8 650.0,598.6 650.8,601.9 651.6,600.3 652.5,599.0 653.3,595.4 654.1,595.2 655.0,595.8 655.8,597.8 656.6,599.0 657.4,599.9 658.3,599.5 659.1,600.1 659.9,600.2 660.8,599.6 661.6,598.3 662.4,597.8 663.2,598.9 664.1,598.8 664.9,598.7 665.7,597.0 666.6,597.7 667.4,597.4 668.2,600.2 669.1,598.8 669.9,600.8 670.7,599.5 671.6,601.0 672.4,600.0 673.2,599.9 674.0,599.9 674.9,599.3 675.7,598.9 676.5,597.7 677.4,597.0 678.2,596.0 679.0,596.7 679.9,598.4 680.7,597.6 681.5,597.2 682.3,598.3 683.2,599.3 684.0,599.7 684.8,598.0 685.7,599.4 686.5,599.5 687.3,599.9 688.2,599.6 689.0,600.1 689.8,599.7 690.6,599.5 691.5,598.8 692.3,597.0 693.1,596.6 694.0,597.5 694.8,598.7 695.6,597.7 696.5,595.6 697.3,596.6 698.1,597.8 698.9,600.0 699.8,599.6 700.6,601.5 701.4,602.3 702.3,602.0 703.1,600.0 703.9,597.7 704.8,598.0 705.6,598.3 706.4,598.7 707.2,598.3 708.1,600.9 708.9,602.2 709.7,602.2 710.6,599.4 711.4,599.2 712.2,598.2 713.0,601.0 713.9,598.8 714.7,600.1 715.5,597.5 716.4,599.5 717.2,600.2 718.0,600.9 718.9,600.5 719.7,600.9 720.5,600.2 721.4,600.7 722.2,599.5 723.0,600.6 723.8,600.5 724.7,600.3 725.5,600.7 726.3,599.5 727.2,600.7 728.0,599.4 728.8,601.3 729.6,600.6 730.5,601.8 731.3,599.7 732.1,597.9 733.0,597.3 733.8,597.6 734.6,598.4 735.5,597.0 736.3,596.3 737.1,594.9 738.0,595.6 738.8,598.4 739.6,599.7 740.4,600.5 741.3,599.2 742.1,598.7" stroke="#e04854"/>
<polyline points="534.6,612.1 535.4,612.6 536.3,615.7 537.1,613.3 537.9,614.1 538.8,612.6 539.6,608.6 540.4,603.0 541.2,597.2 542.1,592.2 542.9,591.3 543.7,590.0 544.6,585.1 545.4,578.2 546.2,570.4 547.1,567.8 547.9,567.7 548.7,566.8 549.5,565.9 550.4,563.4 551.2,565.5 552.0,566.7 552.9,568.2 553.7,567.8 554.5,569.8 555.4,570.5 556.2,575.7 557.0,578.8 557.8,584.0 558.7,588.3 559.5,594.6 560.3,598.3 561.2,600.9 562.0,603.8 562.8,608.4 563.6,613.3 564.5,615.8 565.3,619.3 566.1,618.9 567.0,616.3 567.8,613.4 568.6,609.4 569.5,608.3 570.3,604.4 571.1,603.1 572.0,597.9 572.8,593.5 573.6,588.2 574.4,584.8 575.3,579.9 576.1,575.0 576.9,573.6 577.8,571.8 578.6,574.1 579.4,572.5 580.2,573.7 581.1,571.6 581.9,572.5 582.7,574.2 583.6,575.7 584.4,577.1 585.2,579.3 586.1,581.2 586.9,582.2 587.7,584.6 588.6,588.8 589.4,593.4 590.2,597.4 591.0,601.6 591.9,606.2 592.7,608.1 593.5,610.5 594.4,611.9 595.2,614.5 596.0,614.8 596.9,611.8 597.7,610.4 598.5,609.0 599.3,607.6 600.2,605.2 601.0,599.8 601.8,595.5 602.7,590.2 603.5,588.5 604.3,585.5 605.2,582.0 606.0,578.4 606.8,577.2 607.6,578.4 608.5,576.1 609.3,574.9 610.1,572.9 611.0,572.6 611.8,571.8 612.6,573.0 613.5,575.3 614.3,577.5 615.1,576.5 615.9,581.0 616.8,583.9 617.6,588.3 618.4,587.5 619.3,591.8 620.1,598.9 620.9,605.9 621.8,608.0 622.6,606.9 623.4,606.5 624.2,609.4 625.1,614.1 625.9,617.4 626.7,619.3 627.6,618.0 628.4,617.2 629.2,613.1 630.1,611.1 630.9,609.2 631.7,607.4 632.5,602.8 633.4,599.0 634.2,596.4 635.0,592.5 635.9,586.6 636.7,581.6 637.5,578.5 638.4,576.2 639.2,577.5 640.0,578.6 640.8,579.9 641.7,578.2 642.5,577.4 643.3,576.7 644.2,577.7 645.0,578.5 645.8,583.2 646.7,585.4 647.5,586.3 648.3,588.0 649.1,590.2 650.0,595.0 650.8,599.0 651.6,602.9 652.5,607.5 653.3,609.8 654.1,614.8 655.0,619.7 655.8,623.8 656.6,623.7 657.4,619.2 658.3,615.3 659.1,611.7 659.9,608.7 660.8,603.0 661.6,599.0 662.4,592.7 663.2,591.4 664.1,587.5 664.9,584.6 665.7,579.3 666.6,576.8 667.4,575.8 668.2,575.6 669.1,572.5 669.9,571.4 670.7,571.7 671.6,573.2 672.4,575.7 673.2,576.9 674.0,579.7 674.9,582.8 675.7,585.4 676.5,588.4 677.4,590.8 678.2,593.8 679.0,598.6 679.9,604.7 680.7,610.3 681.5,613.2 682.3,614.4 683.2,615.6 684.0,616.7 684.8,616.9 685.7,615.9 686.5,615.6 687.3,611.2 688.2,608.0 689.0,604.6 689.8,603.5 690.6,600.0 691.5,593.2 692.3,587.4 693.1,585.7 694.0,584.8 694.8,582.8 695.6,577.8 696.5,575.5 697.3,575.4 698.1,574.9 698.9,575.8 699.8,577.9 700.6,579.8 701.4,580.9 702.3,578.4 703.1,577.9 703.9,580.4 704.8,583.7 705.6,587.5 706.4,590.9 707.2,596.6 708.1,599.9 708.9,601.1 709.7,602.4 710.6,608.6 711.4,611.5 712.2,614.0 713.0,613.9 713.9,615.7 714.7,616.4 715.5,613.1 716.4,610.6 717.2,607.4 718.0,604.8 718.9,601.8 719.7,599.7 720.5,597.0 721.4,594.2 722.2,591.2 723.0,588.8 723.8,584.8 724.7,580.8 725.5,575.9 726.3,572.4 727.2,570.4 728.0,570.2 728.8,569.1 729.6,568.8 730.5,570.9 731.3,574.6 732.1,577.1 733.0,579.4 733.8,580.8 734.6,582.2 735.5,583.1 736.3,585.9 737.1,589.7 738.0,593.7 738.8,598.1 739.6,601.5 740.4,605.7 741.3,608.1 742.1,610.3" stroke="#2866c8"/>
<polyline points="534.6,539.6 535.4,541.9 536.3,541.1 537.1,543.4 537.9,540.5 538.8,540.6 539.6,538.9 540.4,540.1 541.2,541.5 542.1,543.7 542.9,544.8 543.7,544.0 544.6,545.1 545.4,546.4 546.2,549.9 547.1,550.3 547.9,550.4 548.7,549.7 549.5,549.7 550.4,550.3 551.2,550.6 552.0,550.0 552.9,550.6 553.7,550.1 554.5,548.6 555.4,548.0 556.2,547.1 557.0,545.1 557.8,544.3 558.7,544.8 559.5,546.3 560.3,543.2 561.2,539.5 562.0,539.6 562.8,539.8 563.6,540.5 564.5,539.5 565.3,540.9 566.1,540.1 567.0,540.9 567.8,539.5 568.6,541.1 569.5,539.0 570.3,539.1 571.1,540.4 572.0,543.2 572.8,544.2 573.6,545.4 574.4,546.2 575.3,547.9 576.1,549.1 576.9,550.1 577.8,552.2 578.6,550.1 579.4,549.8 580.2,547.3 581.1,547.9 581.9,546.7 582.7,547.3 583.6,546.4 584.4,546.7 585.2,547.0 586.1,546.3 586.9,545.2 587.7,541.9 588.6,542.2 589.4,542.6 590.2,545.0 591.0,547.3 591.9,547.0 592.7,545.0 593.5,542.0 594.4,542.8 595.2,542.2 596.0,541.9 596.9,540.5 597.7,541.7 598.5,541.6 599.3,541.2 600.2,542.8 601.0,543.9 601.8,545.6 602.7,544.2 603.5,545.3 604.3,544.0 605.2,545.2 606.0,543.6 606.8,545.9 607.6,545.5 608.5,547.0 609.3,547.9 610.1,549.2 611.0,550.0 611.8,549.7 612.6,549.9 613.5,550.3 614.3,549.4 615.1,548.7 615.9,547.2 616.8,547.6 617.6,546.1 618.4,545.9 619.3,543.7 620.1,543.3 620.9,542.1 621.8,541.2 622.6,541.6 623.4,541.2 624.2,542.4 625.1,542.4 625.9,542.1 626.7,538.9 627.6,537.6 628.4,535.7 629.2,537.8 630.1,538.0 630.9,540.5 631.7,541.3 632.5,541.0 633.4,540.3 634.2,541.3 635.0,544.0 635.9,545.1 636.7,546.0 637.5,545.4 638.4,547.8 639.2,546.6 640.0,545.8 640.8,544.1 641.7,544.7 642.5,546.1 643.3,547.0 644.2,547.0 645.0,546.0 645.8,544.0 646.7,543.2 647.5,545.1 648.3,546.2 649.1,545.8 650.0,543.8 650.8,543.7 651.6,542.6 652.5,539.5 653.3,538.9 654.1,538.4 655.0,538.3 655.8,536.8 656.6,537.2 657.4,539.3 658.3,539.3 659.1,540.0 659.9,539.9 660.8,543.2 661.6,543.1 662.4,544.8 663.2,543.6 664.1,544.6 664.9,545.5 665.7,545.3 666.6,546.5 667.4,546.8 668.2,549.1 669.1,550.3 669.9,550.7 670.7,550.8 671.6,550.2 672.4,550.7 673.2,549.5 674.0,548.1 674.9,545.6 675.7,546.3 676.5,546.0 677.4,545.5 678.2,542.1 679.0,539.8 679.9,540.5 680.7,541.0 681.5,541.2 682.3,538.9 683.2,538.0 684.0,538.0 684.8,538.6 685.7,539.7 686.5,539.8 687.3,540.2 688.2,540.5 689.0,540.3 689.8,543.6 690.6,544.3 691.5,545.2 692.3,543.2 693.1,542.0 694.0,543.6 694.8,545.7 695.6,548.4 696.5,547.7 697.3,548.2 698.1,548.7 698.9,551.3 699.8,549.8 700.6,548.9 701.4,546.8 702.3,547.5 703.1,545.8 703.9,545.2 704.8,544.3 705.6,545.8 706.4,547.0 707.2,545.3 708.1,542.1 708.9,540.7 709.7,541.5 710.6,542.0 711.4,541.7 712.2,541.1 713.0,542.7 713.9,541.9 714.7,539.7 715.5,537.7 716.4,537.3 717.2,539.1 718.0,540.2 718.9,540.8 719.7,541.4 720.5,542.1 721.4,543.9 722.2,543.5 723.0,545.0 723.8,544.9 724.7,545.9 725.5,545.4 726.3,546.1 727.2,547.6 728.0,548.8 728.8,550.0 729.6,550.0 730.5,550.1 731.3,549.3 732.1,549.0 733.0,548.4 733.8,547.5 734.6,547.3 735.5,546.1 736.3,544.6 737.1,541.7 738.0,541.1 738.8,540.6 739.6,541.2 740.4,538.3 741.3,537.3 742.1,536.1" stroke="#2ea266"/>
<polyline points="534.6,527.2 535.4,525.9 536.3,520.7 537.1,522.7 537.9,520.3 538.8,521.7 539.6,523.1 540.4,529.0 541.2,534.1 542.1,535.9 542.9,533.3 543.7,533.8 544.6,536.9 545.4,544.8 546.2,552.5 547.1,558.0 547.9,558.9 548.7,559.0 549.5,557.5 550.4,559.5 551.2,556.6 552.0,556.1 552.9,554.2 553.7,556.3 554.5,552.4 555.4,551.1 556.2,547.5 557.0,548.6 557.8,542.9 558.7,539.5 559.5,532.5 560.3,530.4 561.2,530.5 562.0,528.2 562.8,526.7 563.6,521.7 564.5,522.1 565.3,518.8 566.1,517.4 567.0,518.1 567.8,521.7 568.6,523.5 569.5,523.1 570.3,523.0 571.1,524.3 572.0,527.5 572.8,530.4 573.6,534.6 574.4,538.2 575.3,543.4 576.1,547.1 576.9,548.1 577.8,552.1 578.6,551.4 579.4,553.0 580.2,552.5 581.1,555.4 581.9,553.5 582.7,551.1 583.6,548.9 584.4,549.2 585.2,547.0 586.1,546.0 586.9,546.4 587.7,544.5 588.6,541.2 589.4,537.1 590.2,531.9 591.0,527.8 591.9,522.9 592.7,522.5 593.5,520.2 594.4,520.4 595.2,519.7 596.0,520.0 596.9,522.4 597.7,524.4 598.5,525.0 599.3,525.7 600.2,525.8 601.0,531.1 601.8,537.9 602.7,540.5 603.5,541.1 604.3,542.8 605.2,546.2 606.0,549.5 606.8,547.1 607.6,547.1 608.5,546.7 609.3,548.1 610.1,549.0 611.0,550.4 611.8,549.8 612.6,550.7 613.5,548.0 614.3,547.0 615.1,546.9 615.9,544.9 616.8,544.2 617.6,540.3 618.4,539.8 619.3,536.9 620.1,531.1 620.9,526.0 621.8,523.1 622.6,522.9 623.4,524.3 624.2,522.2 625.1,517.7 625.9,515.3 626.7,514.8 627.6,518.6 628.4,518.5 629.2,522.0 630.1,523.7 630.9,527.8 631.7,529.6 632.5,533.7 633.4,535.8 634.2,537.0 635.0,537.9 635.9,541.2 636.7,545.8 637.5,548.6 638.4,549.6 639.2,548.7 640.0,548.0 640.8,548.6 641.7,548.9 642.5,550.5 643.3,548.8 644.2,548.3 645.0,547.2 645.8,544.6 646.7,540.9 647.5,538.6 648.3,538.7 649.1,537.0 650.0,534.5 650.8,529.1 651.6,526.5 652.5,524.1 653.3,523.7 654.1,521.7 655.0,517.1 655.8,512.3 656.6,512.0 657.4,516.4 658.3,518.2 659.1,522.0 659.9,523.4 660.8,530.4 661.6,533.6 662.4,537.3 663.2,537.0 664.1,538.4 664.9,541.3 665.7,546.6 666.6,550.2 667.4,550.8 668.2,552.1 669.1,553.4 669.9,554.1 670.7,551.4 671.6,550.2 672.4,547.5 673.2,545.7 674.0,542.5 674.9,541.7 675.7,541.6 676.5,540.1 677.4,539.2 678.2,536.6 679.0,531.9 679.9,527.0 680.7,524.2 681.5,523.6 682.3,523.0 683.2,522.7 684.0,523.0 684.8,521.0 685.7,521.0 686.5,519.5 687.3,521.6 688.2,524.1 689.0,526.0 689.8,530.3 690.6,533.0 691.5,537.8 692.3,540.7 693.1,542.9 694.0,546.0 694.8,546.8 695.6,549.8 696.5,549.0 697.3,549.2 698.1,548.8 698.9,549.0 699.8,547.0 700.6,545.2 701.4,545.4 702.3,547.7 703.1,548.4 703.9,545.8 704.8,543.2 705.6,539.7 706.4,535.9 707.2,532.6 708.1,531.1 708.9,531.8 709.7,530.2 710.6,526.1 711.4,524.0 712.2,523.6 713.0,523.7 713.9,522.2 714.7,518.0 715.5,519.9 716.4,521.3 717.2,526.2 718.0,527.8 718.9,530.2 719.7,529.6 720.5,531.7 721.4,531.9 722.2,535.5 723.0,538.0 723.8,543.3 724.7,547.4 725.5,551.2 726.3,551.8 727.2,552.2 728.0,550.5 728.8,553.8 729.6,553.9 730.5,553.6 731.3,547.1 732.1,545.9 733.0,543.3 733.8,544.6 734.6,544.0 735.5,544.1 736.3,543.0 737.1,538.8 738.0,536.3 738.8,532.8 739.6,531.0 740.4,527.6 741.3,527.2 742.1,527.3" stroke="#d0a42a"/>
</g>
<rect x="534.6" y="485.5" width="207.5" height="166.70000000000005" fill="none" stroke="#000" stroke-width="1.3"/>
<path d="M534.6 652.2 v-3 M534.6 652.2 h3 M555.4 652.2 v-2 M534.6 635.5 h2 M576.1 652.2 v-3 M534.6 618.9 h3 M596.9 652.2 v-2 M534.6 602.2 h2 M617.6 652.2 v-3 M534.6 585.5 h3 M638.4 652.2 v-2 M534.6 568.9 h2 M659.1 652.2 v-3 M534.6 552.2 h3 M679.9 652.2 v-2 M534.6 535.5 h2 M700.6 652.2 v-3 M534.6 518.8 h3 M721.4 652.2 v-2 M534.6 502.2 h2 M742.1 652.2 v-3 M534.6 485.5 h3" stroke="#000" stroke-width="1"/>
<text x="534.6" y="661.0" text-anchor="middle" font-family="'Liberation Serif', serif" font-weight="bold" font-size="6.8">0</text>
<text x="530.6" y="654.6" text-anchor="end" font-family="'Liberation Serif', serif" font-weight="bold" font-size="6.8">0</text>
<text x="576.1" y="661.0" text-anchor="middle" font-family="'Liberation Serif', serif" font-weight="bold" font-size="6.8">10</text>
<text x="530.6" y="621.3" text-anchor="end" font-family="'Liberation Serif', serif" font-weight="bold" font-size="6.8">10</text>
<text x="617.6" y="661.0" text-anchor="middle" font-family="'Liberation Serif', serif" font-weight="bold" font-size="6.8">20</text>
<text x="530.6" y="587.9" text-anchor="end" font-family="'Liberation Serif', serif" font-weight="bold" font-size="6.8">20</text>
<text x="659.1" y="661.0" text-anchor="middle" font-family="'Liberation Serif', serif" font-weight="bold" font-size="6.8">30</text>
<text x="530.6" y="554.6" text-anchor="end" font-family="'Liberation Serif', serif" font-weight="bold" font-size="6.8">30</text>
<text x="700.6" y="661.0" text-anchor="middle" font-family="'Liberation Serif', serif" font-weight="bold" font-size="6.8">40</text>
<text x="530.6" y="521.2" text-anchor="end" font-family="'Liberation Serif', serif" font-weight="bold" font-size="6.8">40</text>
<text x="742.1" y="661.0" text-anchor="middle" font-family="'Liberation Serif', serif" font-weight="bold" font-size="6.8">50</text>
<text x="530.6" y="487.9" text-anchor="end" font-family="'Liberation Serif', serif" font-weight="bold" font-size="6.8">50</text>
<text x="638.0500000000001" y="680.1" text-anchor="middle" font-family="'Liberation Serif', serif" font-weight="bold" font-size="14.2">Position (nm)</text>
<text transform="translate(514.1 568.5) rotate(-90)" text-anchor="middle" font-family="'Liberation Serif', serif" font-weight="bold" font-size="14.1">Atomic fractionn (%)</text>
<line x1="538.6" y1="494.0" x2="570.6" y2="494.0" stroke="#2ea266" stroke-width="1.5"/>
<text x="574.1" y="498.8" font-family="'Liberation Serif', serif" font-size="14">Al</text>
<line x1="591.3" y1="494.0" x2="623.3" y2="494.0" stroke="#e04854" stroke-width="1.5"/>
<text x="626.8" y="498.8" font-family="'Liberation Serif', serif" font-size="14">Cr</text>
<line x1="644.5" y1="494.0" x2="676.5" y2="494.0" stroke="#2866c8" stroke-width="1.5"/>
<text x="680.0" y="498.8" font-family="'Liberation Serif', serif" font-size="14">O</text>
<line x1="693.2" y1="494.0" x2="725.2" y2="494.0" stroke="#d0a42a" stroke-width="1.5"/>
<text x="728.7" y="498.8" font-family="'Liberation Serif', serif" font-size="14">N</text>
</svg>
<svg x="0" y="0" width="1024" height="767" overflow="visible">
<clipPath id="cp3"><rect x="774.6" y="485.5" width="207.5" height="166.70000000000005"/></clipPath>
<g clip-path="url(#cp3)" fill="none" stroke-width="1.5" stroke-linejoin="round">
<polyline points="774.6,597.6 775.4,597.5 776.3,596.6 777.1,599.0 777.9,600.2 778.8,601.0 779.6,601.7 780.4,602.9 781.2,603.9 782.1,604.7 782.9,605.4 783.7,607.2 784.6,608.9 785.4,610.0 786.2,609.6 787.1,609.3 787.9,608.0 788.7,608.3 789.5,606.9 790.4,606.8 791.2,605.7 792.0,604.3 792.9,603.2 793.7,601.0 794.5,600.1 795.4,599.0 796.2,599.5 797.0,599.7 797.8,598.9 798.7,598.4 799.5,597.6 800.3,598.4 801.2,598.3 802.0,599.0 802.8,599.6 803.6,599.4 804.5,598.8 805.3,599.1 806.1,598.9 807.0,598.8 807.8,598.0 808.6,597.4 809.5,598.2 810.3,597.2 811.1,597.1 812.0,596.2 812.8,597.5 813.6,597.2 814.4,597.7 815.3,596.9 816.1,598.9 816.9,599.6 817.8,599.9 818.6,600.7 819.4,600.4 820.2,600.2 821.1,600.9 821.9,602.3 822.7,603.8 823.6,604.1 824.4,604.3 825.2,605.6 826.1,607.4 826.9,610.2 827.7,611.1 828.6,609.5 829.4,608.2 830.2,606.9 831.0,608.2 831.9,606.5 832.7,606.2 833.5,603.8 834.4,603.5 835.2,603.3 836.0,602.7 836.9,602.6 837.7,600.6 838.5,600.6 839.3,598.9 840.2,599.8 841.0,599.7 841.8,599.5 842.7,598.5 843.5,597.5 844.3,596.5 845.2,597.3 846.0,596.6 846.8,597.4 847.6,595.4 848.5,596.7 849.3,597.5 850.1,599.2 851.0,599.2 851.8,600.0 852.6,599.8 853.5,599.6 854.3,599.1 855.1,598.9 855.9,600.0 856.8,598.6 857.6,598.5 858.4,597.3 859.3,598.1 860.1,599.0 860.9,600.3 861.8,602.1 862.6,603.5 863.4,604.2 864.2,603.9 865.1,604.5 865.9,604.2 866.7,605.5 867.6,604.5 868.4,606.5 869.2,607.9 870.1,609.7 870.9,610.7 871.7,609.2 872.5,607.9 873.4,605.5 874.2,605.0 875.0,603.8 875.9,603.4 876.7,602.1 877.5,601.9 878.4,600.2 879.2,599.1 880.0,598.2 880.8,598.6 881.7,598.7 882.5,598.9 883.3,598.0 884.2,598.9 885.0,598.9 885.8,598.7 886.7,597.9 887.5,597.4 888.3,596.2 889.1,596.1 890.0,597.2 890.8,598.7 891.6,597.8 892.5,597.0 893.3,596.4 894.1,597.0 895.0,596.6 895.8,597.6 896.6,597.0 897.4,597.4 898.3,596.8 899.1,596.9 899.9,598.9 900.8,598.7 901.6,598.4 902.4,597.6 903.2,599.4 904.1,601.9 904.9,602.1 905.7,602.7 906.6,604.5 907.4,606.8 908.2,609.0 909.1,609.6 909.9,610.4 910.7,610.8 911.6,610.1 912.4,609.5 913.2,607.4 914.0,608.7 914.9,607.2 915.7,605.7 916.5,603.8 917.4,604.3 918.2,605.9 919.0,603.7 919.9,602.0 920.7,599.8 921.5,600.0 922.3,600.8 923.2,601.1 924.0,600.7 924.8,599.6 925.7,598.9 926.5,599.2 927.3,597.7 928.2,599.3 929.0,598.4 929.8,599.1 930.6,596.7 931.5,596.3 932.3,595.8 933.1,596.2 934.0,597.6 934.8,597.7 935.6,597.8 936.5,597.1 937.3,597.5 938.1,597.8 938.9,598.6 939.8,596.9 940.6,596.7 941.4,596.6 942.3,598.9 943.1,598.9 943.9,599.6 944.8,599.2 945.6,600.1 946.4,600.2 947.2,600.5 948.1,601.4 948.9,602.2 949.7,603.6 950.6,603.7 951.4,604.7 952.2,605.2 953.0,606.1 953.9,606.0 954.7,607.8 955.5,608.1 956.4,609.2 957.2,608.2 958.0,608.0 958.9,606.5 959.7,605.8 960.5,604.0 961.4,602.8 962.2,600.3 963.0,600.1 963.8,600.8 964.7,600.1 965.5,599.0 966.3,596.0 967.2,596.7 968.0,598.7 968.8,599.6 969.6,600.0 970.5,599.1 971.3,599.9 972.1,600.1 973.0,598.7 973.8,598.7 974.6,599.5 975.5,598.9 976.3,598.6 977.1,597.6 978.0,598.1 978.8,597.5 979.6,597.8 980.4,597.6 981.3,597.1 982.1,595.8" stroke="#e04854"/>
<polyline points="774.6,623.9 775.4,622.0 776.3,618.5 777.1,615.0 777.9,608.7 778.8,603.6 779.6,596.3 780.4,590.7 781.2,581.6 782.1,573.7 782.9,565.5 783.7,559.4 784.6,553.9 785.4,550.1 786.2,547.2 787.1,547.1 787.9,546.7 788.7,550.8 789.5,555.5 790.4,561.4 791.2,567.9 792.0,576.7 792.9,585.0 793.7,594.0 794.5,600.8 795.4,607.3 796.2,610.7 797.0,613.6 797.8,617.6 798.7,622.0 799.5,625.7 800.3,626.7 801.2,626.5 802.0,626.7 802.8,626.9 803.6,628.0 804.5,626.9 805.3,629.7 806.1,632.2 807.0,633.9 807.8,631.4 808.6,629.8 809.5,629.1 810.3,630.6 811.1,631.2 812.0,631.9 812.8,629.5 813.6,627.0 814.4,626.1 815.3,625.5 816.1,625.2 816.9,622.3 817.8,620.8 818.6,616.8 819.4,613.2 820.2,607.1 821.1,601.8 821.9,595.4 822.7,588.2 823.6,580.6 824.4,572.7 825.2,566.6 826.1,560.0 826.9,556.4 827.7,552.5 828.6,550.9 829.4,551.3 830.2,553.2 831.0,556.9 831.9,561.9 832.7,571.5 833.5,582.0 834.4,589.9 835.2,594.0 836.0,598.5 836.9,603.4 837.7,610.4 838.5,615.9 839.3,619.7 840.2,623.3 841.0,624.9 841.8,626.4 842.7,626.6 843.5,626.8 844.3,628.4 845.2,628.3 846.0,628.8 846.8,630.2 847.6,631.9 848.5,633.0 849.3,630.9 850.1,629.6 851.0,628.5 851.8,628.8 852.6,628.3 853.5,627.3 854.3,627.5 855.1,628.9 855.9,628.2 856.8,626.6 857.6,623.4 858.4,622.0 859.3,619.9 860.1,617.8 860.9,612.3 861.8,604.9 862.6,596.5 863.4,590.4 864.2,583.8 865.1,577.5 865.9,570.2 866.7,563.9 867.6,558.0 868.4,553.3 869.2,548.5 870.1,548.8 870.9,549.4 871.7,553.2 872.5,557.2 873.4,563.4 874.2,570.8 875.0,577.6 875.9,585.9 876.7,594.7 877.5,599.5 878.4,603.0 879.2,605.5 880.0,611.8 880.8,617.3 881.7,621.3 882.5,624.1 883.3,626.3 884.2,627.4 885.0,628.0 885.8,630.1 886.7,632.3 887.5,632.0 888.3,630.9 889.1,630.2 890.0,629.2 890.8,628.9 891.6,629.3 892.5,630.5 893.3,628.5 894.1,628.6 895.0,626.6 895.8,626.8 896.6,625.3 897.4,626.5 898.3,625.4 899.1,623.6 899.9,621.8 900.8,618.9 901.6,615.7 902.4,610.9 903.2,607.7 904.1,602.4 904.9,596.1 905.7,589.4 906.6,581.1 907.4,572.7 908.2,564.1 909.1,556.9 909.9,551.2 910.7,547.8 911.6,547.5 912.4,548.0 913.2,552.2 914.0,556.1 914.9,562.0 915.7,568.5 916.5,573.7 917.4,582.5 918.2,589.9 919.0,599.1 919.9,605.4 920.7,609.7 921.5,614.0 922.3,616.4 923.2,619.7 924.0,622.0 924.8,625.8 925.7,626.7 926.5,628.7 927.3,630.4 928.2,630.3 929.0,631.0 929.8,630.5 930.6,632.8 931.5,631.3 932.3,631.8 933.1,631.4 934.0,631.5 934.8,628.2 935.6,628.0 936.5,628.3 937.3,630.6 938.1,628.1 938.9,627.8 939.8,626.4 940.6,627.1 941.4,626.6 942.3,624.9 943.1,624.1 943.9,619.1 944.8,615.7 945.6,610.4 946.4,605.6 947.2,600.8 948.1,592.7 948.9,585.4 949.7,577.7 950.6,571.2 951.4,566.1 952.2,558.8 953.0,555.1 953.9,553.1 954.7,552.4 955.5,553.6 956.4,555.3 957.2,559.4 958.0,563.8 958.9,570.0 959.7,579.4 960.5,587.2 961.4,595.1 962.2,599.4 963.0,606.1 963.8,609.6 964.7,614.5 965.5,617.8 966.3,621.7 967.2,626.1 968.0,627.3 968.8,628.8 969.6,629.2 970.5,630.2 971.3,630.7 972.1,629.8 973.0,630.8 973.8,630.7 974.6,630.7 975.5,630.8 976.3,631.8 977.1,633.3 978.0,634.1 978.8,633.7 979.6,634.0 980.4,634.9 981.3,635.4 982.1,634.0" stroke="#2866c8"/>
<polyline points="774.6,539.4 775.4,539.9 776.3,541.1 777.1,541.0 777.9,541.6 778.8,540.0 779.6,539.8 780.4,539.9 781.2,542.2 782.1,545.2 782.9,545.1 783.7,546.0 784.6,545.5 785.4,546.4 786.2,546.4 787.1,546.5 787.9,546.3 788.7,545.7 789.5,545.9 790.4,545.4 791.2,545.4 792.0,545.1 792.9,544.0 793.7,542.0 794.5,542.0 795.4,542.3 796.2,540.3 797.0,540.2 797.8,539.1 798.7,539.9 799.5,538.3 800.3,538.4 801.2,539.8 802.0,538.2 802.8,537.1 803.6,537.2 804.5,539.0 805.3,540.2 806.1,539.8 807.0,539.1 807.8,540.4 808.6,539.4 809.5,540.1 810.3,539.0 811.1,539.1 812.0,537.9 812.8,538.9 813.6,538.8 814.4,539.0 815.3,538.2 816.1,537.5 816.9,539.3 817.8,539.8 818.6,541.2 819.4,541.4 820.2,540.1 821.1,540.7 821.9,539.0 822.7,541.8 823.6,543.5 824.4,544.5 825.2,545.0 826.1,543.6 826.9,545.9 827.7,545.0 828.6,545.0 829.4,544.3 830.2,545.5 831.0,546.7 831.9,545.2 832.7,543.2 833.5,541.2 834.4,541.6 835.2,541.2 836.0,541.6 836.9,542.3 837.7,541.5 838.5,540.7 839.3,541.3 840.2,541.5 841.0,540.6 841.8,536.9 842.7,538.1 843.5,538.9 844.3,540.0 845.2,538.1 846.0,538.8 846.8,538.7 847.6,539.7 848.5,539.0 849.3,540.1 850.1,539.6 851.0,540.0 851.8,539.2 852.6,539.6 853.5,538.4 854.3,537.1 855.1,537.0 855.9,538.6 856.8,540.5 857.6,541.2 858.4,542.2 859.3,542.1 860.1,542.2 860.9,540.3 861.8,541.0 862.6,540.4 863.4,541.0 864.2,541.9 865.1,543.5 865.9,545.3 866.7,545.8 867.6,545.2 868.4,545.6 869.2,545.9 870.1,547.4 870.9,545.6 871.7,545.2 872.5,544.3 873.4,545.9 874.2,544.8 875.0,544.8 875.9,544.0 876.7,545.4 877.5,545.8 878.4,544.7 879.2,541.9 880.0,541.5 880.8,541.0 881.7,541.3 882.5,536.7 883.3,537.6 884.2,538.3 885.0,542.0 885.8,540.2 886.7,538.4 887.5,537.7 888.3,537.2 889.1,536.2 890.0,536.5 890.8,537.4 891.6,539.5 892.5,539.6 893.3,540.7 894.1,540.7 895.0,541.4 895.8,541.1 896.6,540.2 897.4,539.8 898.3,540.3 899.1,542.0 899.9,540.9 900.8,540.8 901.6,539.3 902.4,540.4 903.2,541.9 904.1,542.6 904.9,543.1 905.7,541.3 906.6,541.8 907.4,544.6 908.2,548.2 909.1,549.4 909.9,548.1 910.7,548.6 911.6,549.2 912.4,547.3 913.2,544.2 914.0,544.3 914.9,544.7 915.7,543.8 916.5,542.8 917.4,540.7 918.2,541.7 919.0,538.8 919.9,538.6 920.7,537.1 921.5,538.5 922.3,539.7 923.2,540.8 924.0,539.9 924.8,538.4 925.7,536.8 926.5,537.2 927.3,538.2 928.2,539.8 929.0,540.6 929.8,542.1 930.6,540.6 931.5,540.9 932.3,538.8 933.1,539.9 934.0,537.7 934.8,537.3 935.6,535.3 936.5,535.5 937.3,537.1 938.1,539.0 938.9,540.7 939.8,540.3 940.6,538.4 941.4,538.7 942.3,536.9 943.1,539.1 943.9,539.5 944.8,541.7 945.6,540.6 946.4,540.3 947.2,541.9 948.1,541.9 948.9,543.2 949.7,542.0 950.6,544.0 951.4,543.7 952.2,545.2 953.0,546.6 953.9,547.5 954.7,547.3 955.5,547.1 956.4,546.7 957.2,545.3 958.0,542.3 958.9,540.1 959.7,539.8 960.5,541.1 961.4,541.4 962.2,542.6 963.0,544.4 963.8,544.0 964.7,542.8 965.5,539.0 966.3,540.0 967.2,538.7 968.0,540.1 968.8,540.0 969.6,541.3 970.5,539.8 971.3,538.6 972.1,538.1 973.0,539.7 973.8,539.2 974.6,538.7 975.5,538.7 976.3,538.7 977.1,540.7 978.0,539.6 978.8,541.4 979.6,539.8 980.4,539.9 981.3,539.6 982.1,539.7" stroke="#2ea266"/>
<polyline points="774.6,510.9 775.4,512.6 776.3,516.8 777.1,521.4 777.9,525.1 778.8,527.8 779.6,533.6 780.4,540.8 781.2,548.9 782.1,552.3 782.9,555.9 783.7,559.6 784.6,564.6 785.4,568.4 786.2,571.2 787.1,570.6 787.9,572.1 788.7,570.0 789.5,565.3 790.4,560.5 791.2,554.0 792.0,549.4 792.9,543.4 793.7,537.0 794.5,530.5 795.4,523.6 796.2,520.1 797.0,519.2 797.8,514.5 798.7,510.8 799.5,506.3 800.3,509.2 801.2,510.5 802.0,510.8 802.8,511.9 803.6,511.7 804.5,512.7 805.3,506.0 806.1,502.9 807.0,503.1 807.8,509.0 808.6,509.6 809.5,509.9 810.3,507.8 811.1,506.3 812.0,504.8 812.8,506.6 813.6,511.5 814.4,510.8 815.3,509.4 816.1,509.6 816.9,514.7 817.8,517.4 818.6,518.3 819.4,518.9 820.2,524.7 821.1,529.9 821.9,534.5 822.7,538.7 823.6,544.6 824.4,551.4 825.2,556.6 826.1,562.5 826.9,566.7 827.7,570.4 828.6,572.8 829.4,570.5 830.2,567.3 831.0,562.5 831.9,558.7 832.7,552.0 833.5,544.8 834.4,539.2 835.2,536.5 836.0,532.5 836.9,531.2 837.7,526.1 838.5,521.3 839.3,516.5 840.2,514.1 841.0,515.1 841.8,514.3 842.7,511.7 843.5,510.5 844.3,507.4 845.2,509.5 846.0,507.3 846.8,508.0 847.6,505.8 848.5,505.3 849.3,505.7 850.1,508.1 851.0,510.0 851.8,511.4 852.6,510.9 853.5,511.6 854.3,510.8 855.1,508.9 855.9,510.2 856.8,512.0 857.6,515.7 858.4,516.0 859.3,517.5 860.1,517.9 860.9,523.0 861.8,525.8 862.6,532.7 863.4,534.9 864.2,543.0 865.1,548.2 865.9,554.9 866.7,556.5 867.6,560.5 868.4,562.6 869.2,569.0 870.1,567.2 870.9,569.1 871.7,567.3 872.5,568.1 873.4,562.4 874.2,555.1 875.0,547.5 875.9,541.5 876.7,534.0 877.5,528.9 878.4,526.4 879.2,524.7 880.0,522.1 880.8,519.6 881.7,517.1 882.5,513.0 883.3,510.3 884.2,506.6 885.0,507.2 885.8,504.2 886.7,504.0 887.5,504.8 888.3,506.1 889.1,506.2 890.0,507.7 890.8,508.2 891.6,510.6 892.5,508.7 893.3,506.8 894.1,504.1 895.0,506.8 895.8,511.9 896.6,513.7 897.4,511.0 898.3,510.6 899.1,511.1 899.9,512.8 900.8,513.5 901.6,516.5 902.4,519.5 903.2,523.1 904.1,528.7 904.9,533.2 905.7,538.0 906.6,544.9 907.4,552.4 908.2,559.3 909.1,563.0 909.9,564.3 910.7,564.5 911.6,565.5 912.4,569.9 913.2,568.6 914.0,566.3 914.9,560.1 915.7,554.9 916.5,549.2 917.4,542.7 918.2,539.0 919.0,532.8 919.9,528.0 920.7,522.9 921.5,518.2 922.3,517.6 923.2,515.5 924.0,515.7 924.8,512.6 925.7,511.1 926.5,509.6 927.3,505.3 928.2,508.8 929.0,506.0 929.8,508.7 930.6,505.6 931.5,508.2 932.3,507.4 933.1,505.3 934.0,504.1 934.8,507.6 935.6,508.8 936.5,509.6 937.3,506.8 938.1,509.0 938.9,508.2 939.8,509.2 940.6,509.6 941.4,511.2 942.3,513.1 943.1,512.6 943.9,515.8 944.8,517.4 945.6,520.8 946.4,524.9 947.2,528.3 948.1,535.4 948.9,541.4 949.7,546.8 950.6,551.7 951.4,556.2 952.2,563.8 953.0,564.9 953.9,566.4 954.7,565.1 955.5,565.8 956.4,563.7 957.2,561.5 958.0,558.3 958.9,554.9 959.7,547.0 960.5,541.0 961.4,533.3 962.2,530.4 963.0,526.4 963.8,523.0 964.7,519.9 965.5,516.1 966.3,514.9 967.2,512.2 968.0,510.7 968.8,506.9 969.6,506.1 970.5,506.9 971.3,509.1 972.1,507.3 973.0,505.3 973.8,502.9 974.6,506.1 975.5,506.9 976.3,509.4 977.1,508.6 978.0,507.1 978.8,506.1 979.6,506.8 980.4,507.1 981.3,507.8 982.1,507.4" stroke="#d0a42a"/>
</g>
<rect x="774.6" y="485.5" width="207.5" height="166.70000000000005" fill="none" stroke="#000" stroke-width="1.3"/>
<path d="M774.6 652.2 v-3 M774.6 652.2 h3 M795.4 652.2 v-2 M774.6 635.5 h2 M816.1 652.2 v-3 M774.6 618.9 h3 M836.9 652.2 v-2 M774.6 602.2 h2 M857.6 652.2 v-3 M774.6 585.5 h3 M878.4 652.2 v-2 M774.6 568.9 h2 M899.1 652.2 v-3 M774.6 552.2 h3 M919.9 652.2 v-2 M774.6 535.5 h2 M940.6 652.2 v-3 M774.6 518.8 h3 M961.4 652.2 v-2 M774.6 502.2 h2 M982.1 652.2 v-3 M774.6 485.5 h3" stroke="#000" stroke-width="1"/>
<text x="774.6" y="661.0" text-anchor="middle" font-family="'Liberation Serif', serif" font-weight="bold" font-size="6.8">0</text>
<text x="770.6" y="654.6" text-anchor="end" font-family="'Liberation Serif', serif" font-weight="bold" font-size="6.8">0</text>
<text x="816.1" y="661.0" text-anchor="middle" font-family="'Liberation Serif', serif" font-weight="bold" font-size="6.8">10</text>
<text x="770.6" y="621.3" text-anchor="end" font-family="'Liberation Serif', serif" font-weight="bold" font-size="6.8">10</text>
<text x="857.6" y="661.0" text-anchor="middle" font-family="'Liberation Serif', serif" font-weight="bold" font-size="6.8">20</text>
<text x="770.6" y="587.9" text-anchor="end" font-family="'Liberation Serif', serif" font-weight="bold" font-size="6.8">20</text>
<text x="899.1" y="661.0" text-anchor="middle" font-family="'Liberation Serif', serif" font-weight="bold" font-size="6.8">30</text>
<text x="770.6" y="554.6" text-anchor="end" font-family="'Liberation Serif', serif" font-weight="bold" font-size="6.8">30</text>
<text x="940.6" y="661.0" text-anchor="middle" font-family="'Liberation Serif', serif" font-weight="bold" font-size="6.8">40</text>
<text x="770.6" y="521.2" text-anchor="end" font-family="'Liberation Serif', serif" font-weight="bold" font-size="6.8">40</text>
<text x="982.1" y="661.0" text-anchor="middle" font-family="'Liberation Serif', serif" font-weight="bold" font-size="6.8">50</text>
<text x="770.6" y="487.9" text-anchor="end" font-family="'Liberation Serif', serif" font-weight="bold" font-size="6.8">50</text>
<text x="878.0500000000001" y="680.1" text-anchor="middle" font-family="'Liberation Serif', serif" font-weight="bold" font-size="14.2">Position (nm)</text>
<text transform="translate(754.1 568.5) rotate(-90)" text-anchor="middle" font-family="'Liberation Serif', serif" font-weight="bold" font-size="14.1">Atomic fractionn (%)</text>
<line x1="778.6" y1="494.0" x2="810.6" y2="494.0" stroke="#2ea266" stroke-width="1.5"/>
<text x="814.1" y="498.8" font-family="'Liberation Serif', serif" font-size="14">Al</text>
<line x1="831.3" y1="494.0" x2="863.3" y2="494.0" stroke="#e04854" stroke-width="1.5"/>
<text x="866.8" y="498.8" font-family="'Liberation Serif', serif" font-size="14">Cr</text>
<line x1="884.5" y1="494.0" x2="916.5" y2="494.0" stroke="#2866c8" stroke-width="1.5"/>
<text x="920.0" y="498.8" font-family="'Liberation Serif', serif" font-size="14">O</text>
<line x1="933.2" y1="494.0" x2="965.2" y2="494.0" stroke="#d0a42a" stroke-width="1.5"/>
<text x="968.7" y="498.8" font-family="'Liberation Serif', serif" font-size="14">N</text>
</svg>
<rect x="28" y="682.6" width="145.7" height="41.60000000000002" fill="#e3f1e7"/>
<rect x="28" y="724.2" width="145.7" height="41.59999999999991" fill="#cfe7d8"/>
<rect x="28" y="682.6" width="954.4" height="83.19999999999993" fill="none" stroke="#111" stroke-width="1.4"/>
<path d="M173.7 682.6 V765.8 M199.2 682.6 V765.8 M260.8 682.6 V765.8 M286.5 682.6 V765.8 M500.8 682.6 V765.8 M533.1 682.6 V765.8 M743.6 682.6 V765.8 M772.3 682.6 V765.8 M28 724.2 H173.7 M199.2 724.2 H260.8 M286.5 724.2 H500.8 M533.1 724.2 H743.6 M772.3 724.2 H982.4" stroke="#111" stroke-width="1.4" fill="none"/>
<text x="101.1" y="708.6" text-anchor="middle" font-family="'Liberation Serif', serif" font-weight="bold" font-size="14.7">Layer period (nm)</text>
<text x="101.1" y="750.3" text-anchor="middle" font-family="'Liberation Serif', serif" font-weight="bold" font-size="14.7">Layer ratio (nm)</text>
<text x="230" y="709.2" text-anchor="middle" font-family="'Liberation Serif', serif" font-weight="bold" font-size="14.7">/</text>
<text x="230" y="750.6" text-anchor="middle" font-family="'Liberation Serif', serif" font-weight="bold" font-size="14.7">/</text>
<text x="393.6" y="709.2" text-anchor="middle" font-family="'Liberation Serif', serif" font-weight="bold" font-size="14.7">12.21</text>
<text x="393.6" y="750.6" text-anchor="middle" font-family="'Liberation Serif', serif" font-weight="bold" font-size="14.7">9.80:1</text>
<text x="638.3" y="709.2" text-anchor="middle" font-family="'Liberation Serif', serif" font-weight="bold" font-size="14.7">7.09</text>
<text x="638.3" y="750.6" text-anchor="middle" font-family="'Liberation Serif', serif" font-weight="bold" font-size="14.7">3.43:1</text>
<text x="877.3" y="709.2" text-anchor="middle" font-family="'Liberation Serif', serif" font-weight="bold" font-size="14.7">10.59</text>
<text x="877.3" y="750.6" text-anchor="middle" font-family="'Liberation Serif', serif" font-weight="bold" font-size="14.7">3.62:1</text>
<text transform="translate(191.4 724.7) rotate(-90)" text-anchor="middle" font-family="'Liberation Serif', serif" font-weight="bold" font-size="14.7">AlCrN</text>
<text transform="translate(278.6 724.7) rotate(-90)" text-anchor="middle" font-family="'Liberation Serif', serif" font-weight="bold" font-size="14.7">AlCrON-1</text>
<text transform="translate(522.0 724.7) rotate(-90)" text-anchor="middle" font-family="'Liberation Serif', serif" font-weight="bold" font-size="14.7">AlCrON-2</text>
<text transform="translate(763.0 724.7) rotate(-90)" text-anchor="middle" font-family="'Liberation Serif', serif" font-weight="bold" font-size="14.7">AlCrON-3</text>
</svg></body></html>
